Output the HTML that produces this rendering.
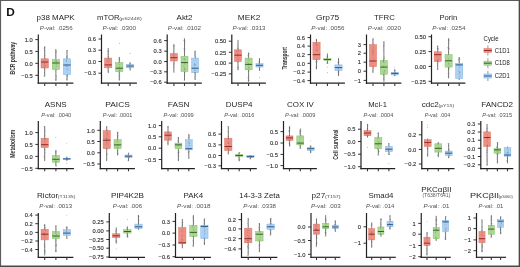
<!DOCTYPE html><html><head><meta charset="utf-8"><style>html,body{margin:0;padding:0;background:#fff;overflow:hidden}svg{display:block;will-change:transform}</style></head><body>
<svg width="520" height="267" viewBox="0 0 520 267" font-family='"Liberation Sans", sans-serif'>
<rect x="0" y="0" width="520" height="267" fill="#fff"/>
<path d="M0,0.5H520M0.55,0V267" fill="none" stroke="#5c5c5c" stroke-width="1.1"/>
<path d="M519.35,0V267M0,266.25H520" fill="none" stroke="#4a4a4a" stroke-width="1.4"/>
<text transform="translate(6.3,15.95) scale(1.1,1)" font-size="10.8" font-weight="bold" fill="#111">D</text>
<text transform="translate(15.2,58.2) rotate(-90)" text-anchor="middle" font-size="7.1" font-weight="bold" fill="#333" textLength="32.6" lengthAdjust="spacingAndGlyphs">BCR pathway</text>
<text transform="translate(287.3,58.3) rotate(-90)" text-anchor="middle" font-size="7.1" font-weight="bold" fill="#333" textLength="22.6" lengthAdjust="spacingAndGlyphs">Transport</text>
<text transform="translate(15.3,143.7) rotate(-90)" text-anchor="middle" font-size="7.1" font-weight="bold" fill="#333" textLength="27.9" lengthAdjust="spacingAndGlyphs">Metabolism</text>
<text transform="translate(338.2,144.6) rotate(-90)" text-anchor="middle" font-size="7.1" font-weight="bold" fill="#333" textLength="30.2" lengthAdjust="spacingAndGlyphs">Cell survival</text>
<text x="36.60" y="19.9" font-size="8.0" fill="#262626" textLength="38.10" lengthAdjust="spacingAndGlyphs">p38 MAPK</text>
<text x="39.80" y="29.6" font-size="6.0" fill="#505050" textLength="32.90" lengthAdjust="spacingAndGlyphs"><tspan font-style="italic">P</tspan>-val: .0256</text>
<line x1="35.30" y1="39.6" x2="38.3" y2="39.6" stroke="#333" stroke-width="1.0"/>
<text x="32.70" y="41.80" font-size="6.2" fill="#2e2e2e" stroke="#2e2e2e" stroke-width="0.12" text-anchor="end" textLength="8.01" lengthAdjust="spacingAndGlyphs">1.0</text>
<line x1="35.30" y1="51.4" x2="38.3" y2="51.4" stroke="#333" stroke-width="1.0"/>
<text x="32.70" y="53.60" font-size="6.2" fill="#2e2e2e" stroke="#2e2e2e" stroke-width="0.12" text-anchor="end" textLength="8.01" lengthAdjust="spacingAndGlyphs">0.5</text>
<line x1="35.30" y1="63.3" x2="38.3" y2="63.3" stroke="#333" stroke-width="1.0"/>
<text x="32.70" y="65.50" font-size="6.2" fill="#2e2e2e" stroke="#2e2e2e" stroke-width="0.12" text-anchor="end" textLength="8.01" lengthAdjust="spacingAndGlyphs">0.0</text>
<line x1="35.30" y1="75.3" x2="38.3" y2="75.3" stroke="#333" stroke-width="1.0"/>
<text x="32.70" y="77.50" font-size="6.2" fill="#2e2e2e" stroke="#2e2e2e" stroke-width="0.12" text-anchor="end" textLength="11.38" lengthAdjust="spacingAndGlyphs">−0.5</text>
<line x1="44.70" y1="46.3" x2="44.70" y2="76.6" stroke="#7c7c7c" stroke-width="1.0"/>
<rect x="41.02" y="58.8" width="7.36" height="9.20" fill="#ef8f83" stroke="#d8776b" stroke-width="0.5"/>
<line x1="41.02" y1="62" x2="48.38" y2="62" stroke="#962c24" stroke-width="1.0"/>
<circle cx="44.14" cy="56.11" r="0.4" fill="#555" fill-opacity="0.5"/>
<circle cx="44.02" cy="66.02" r="0.4" fill="#555" fill-opacity="0.5"/>
<circle cx="44.49" cy="62.54" r="0.4" fill="#555" fill-opacity="0.5"/>
<circle cx="44.71" cy="48.06" r="0.4" fill="#555" fill-opacity="0.5"/>
<circle cx="44.59" cy="47.44" r="0.4" fill="#555" fill-opacity="0.5"/>
<circle cx="44.05" cy="48.42" r="0.4" fill="#555" fill-opacity="0.5"/>
<circle cx="45.22" cy="59.16" r="0.4" fill="#555" fill-opacity="0.5"/>
<circle cx="44.26" cy="50.05" r="0.4" fill="#555" fill-opacity="0.5"/>
<circle cx="45.42" cy="65.31" r="0.4" fill="#555" fill-opacity="0.5"/>
<circle cx="44.53" cy="63.79" r="0.4" fill="#555" fill-opacity="0.5"/>
<circle cx="43.97" cy="75.88" r="0.4" fill="#555" fill-opacity="0.5"/>
<circle cx="44.36" cy="72.31" r="0.4" fill="#555" fill-opacity="0.5"/>
<circle cx="44.09" cy="50.67" r="0.4" fill="#555" fill-opacity="0.5"/>
<circle cx="45.21" cy="55.65" r="0.4" fill="#555" fill-opacity="0.5"/>
<circle cx="44.83" cy="51.78" r="0.4" fill="#555" fill-opacity="0.5"/>
<circle cx="44.50" cy="65.66" r="0.4" fill="#555" fill-opacity="0.5"/>
<circle cx="44.00" cy="62.90" r="0.4" fill="#555" fill-opacity="0.5"/>
<circle cx="44.23" cy="48.11" r="0.4" fill="#555" fill-opacity="0.5"/>
<circle cx="44.58" cy="66.92" r="0.4" fill="#555" fill-opacity="0.5"/>
<circle cx="44.84" cy="55.82" r="0.4" fill="#555" fill-opacity="0.5"/>
<circle cx="44.38" cy="60.03" r="0.4" fill="#555" fill-opacity="0.5"/>
<circle cx="45.02" cy="70.37" r="0.4" fill="#555" fill-opacity="0.5"/>
<circle cx="44.82" cy="53.70" r="0.4" fill="#555" fill-opacity="0.5"/>
<circle cx="45.30" cy="62.21" r="0.4" fill="#555" fill-opacity="0.5"/>
<circle cx="44.36" cy="68.40" r="0.4" fill="#555" fill-opacity="0.5"/>
<circle cx="44.09" cy="76.00" r="0.4" fill="#555" fill-opacity="0.5"/>
<circle cx="45.11" cy="58.97" r="0.4" fill="#555" fill-opacity="0.5"/>
<circle cx="44.68" cy="50.91" r="0.4" fill="#555" fill-opacity="0.5"/>
<circle cx="44.97" cy="47.49" r="0.4" fill="#555" fill-opacity="0.5"/>
<circle cx="44.82" cy="69.47" r="0.4" fill="#555" fill-opacity="0.5"/>
<circle cx="44.40" cy="72.83" r="0.4" fill="#555" fill-opacity="0.5"/>
<circle cx="44.85" cy="67.37" r="0.4" fill="#555" fill-opacity="0.5"/>
<circle cx="44.63" cy="63.87" r="0.4" fill="#555" fill-opacity="0.5"/>
<line x1="55.90" y1="49.5" x2="55.90" y2="81" stroke="#7c7c7c" stroke-width="1.0"/>
<rect x="52.22" y="59.5" width="7.36" height="10.00" fill="#abd993" stroke="#86bf6b" stroke-width="0.5"/>
<line x1="52.22" y1="63" x2="59.58" y2="63" stroke="#36632a" stroke-width="1.0"/>
<circle cx="56.61" cy="75.96" r="0.4" fill="#555" fill-opacity="0.5"/>
<circle cx="56.16" cy="64.43" r="0.4" fill="#555" fill-opacity="0.5"/>
<circle cx="56.22" cy="51.41" r="0.4" fill="#555" fill-opacity="0.5"/>
<circle cx="56.69" cy="69.88" r="0.4" fill="#555" fill-opacity="0.5"/>
<circle cx="55.56" cy="75.39" r="0.4" fill="#555" fill-opacity="0.5"/>
<circle cx="56.17" cy="61.65" r="0.4" fill="#555" fill-opacity="0.5"/>
<circle cx="55.84" cy="50.21" r="0.4" fill="#555" fill-opacity="0.5"/>
<circle cx="55.29" cy="54.79" r="0.4" fill="#555" fill-opacity="0.5"/>
<circle cx="56.33" cy="51.36" r="0.4" fill="#555" fill-opacity="0.5"/>
<circle cx="55.50" cy="53.57" r="0.4" fill="#555" fill-opacity="0.5"/>
<circle cx="56.49" cy="61.81" r="0.4" fill="#555" fill-opacity="0.5"/>
<circle cx="55.82" cy="52.04" r="0.4" fill="#555" fill-opacity="0.5"/>
<circle cx="56.51" cy="66.81" r="0.4" fill="#555" fill-opacity="0.5"/>
<circle cx="56.48" cy="75.31" r="0.4" fill="#555" fill-opacity="0.5"/>
<circle cx="55.76" cy="58.27" r="0.4" fill="#555" fill-opacity="0.5"/>
<circle cx="56.51" cy="60.80" r="0.4" fill="#555" fill-opacity="0.5"/>
<circle cx="55.34" cy="79.67" r="0.4" fill="#555" fill-opacity="0.5"/>
<circle cx="55.47" cy="55.05" r="0.4" fill="#555" fill-opacity="0.5"/>
<circle cx="55.88" cy="56.85" r="0.4" fill="#555" fill-opacity="0.5"/>
<circle cx="55.52" cy="68.06" r="0.4" fill="#555" fill-opacity="0.5"/>
<circle cx="55.77" cy="49.63" r="0.4" fill="#555" fill-opacity="0.5"/>
<circle cx="56.01" cy="61.13" r="0.4" fill="#555" fill-opacity="0.5"/>
<circle cx="56.20" cy="79.52" r="0.4" fill="#555" fill-opacity="0.5"/>
<circle cx="56.09" cy="65.74" r="0.4" fill="#555" fill-opacity="0.5"/>
<circle cx="55.19" cy="70.80" r="0.4" fill="#555" fill-opacity="0.5"/>
<circle cx="56.35" cy="77.84" r="0.4" fill="#555" fill-opacity="0.5"/>
<circle cx="56.38" cy="77.05" r="0.4" fill="#555" fill-opacity="0.5"/>
<circle cx="55.74" cy="61.86" r="0.4" fill="#555" fill-opacity="0.5"/>
<circle cx="56.11" cy="52.76" r="0.4" fill="#555" fill-opacity="0.5"/>
<circle cx="55.21" cy="51.46" r="0.4" fill="#555" fill-opacity="0.5"/>
<circle cx="55.36" cy="56.08" r="0.4" fill="#555" fill-opacity="0.5"/>
<circle cx="55.18" cy="60.21" r="0.4" fill="#555" fill-opacity="0.5"/>
<circle cx="55.34" cy="49.51" r="0.4" fill="#555" fill-opacity="0.5"/>
<circle cx="55.68" cy="52.70" r="0.4" fill="#555" fill-opacity="0.5"/>
<line x1="67.00" y1="50" x2="67.00" y2="80.6" stroke="#7c7c7c" stroke-width="1.0"/>
<rect x="63.32" y="58.8" width="7.36" height="15.80" fill="#abd1f3" stroke="#86b6e2" stroke-width="0.5"/>
<line x1="63.32" y1="65" x2="70.68" y2="65" stroke="#2a5a8a" stroke-width="1.0"/>
<circle cx="67.60" cy="50.78" r="0.4" fill="#555" fill-opacity="0.5"/>
<circle cx="66.44" cy="68.79" r="0.4" fill="#555" fill-opacity="0.5"/>
<circle cx="66.76" cy="57.72" r="0.4" fill="#555" fill-opacity="0.5"/>
<circle cx="66.40" cy="61.14" r="0.4" fill="#555" fill-opacity="0.5"/>
<circle cx="67.79" cy="75.98" r="0.4" fill="#555" fill-opacity="0.5"/>
<circle cx="66.97" cy="64.26" r="0.4" fill="#555" fill-opacity="0.5"/>
<circle cx="66.36" cy="52.63" r="0.4" fill="#555" fill-opacity="0.5"/>
<circle cx="66.62" cy="60.48" r="0.4" fill="#555" fill-opacity="0.5"/>
<circle cx="66.46" cy="75.36" r="0.4" fill="#555" fill-opacity="0.5"/>
<circle cx="67.72" cy="50.71" r="0.4" fill="#555" fill-opacity="0.5"/>
<circle cx="66.43" cy="66.16" r="0.4" fill="#555" fill-opacity="0.5"/>
<circle cx="66.24" cy="66.62" r="0.4" fill="#555" fill-opacity="0.5"/>
<circle cx="67.77" cy="66.16" r="0.4" fill="#555" fill-opacity="0.5"/>
<circle cx="67.31" cy="76.42" r="0.4" fill="#555" fill-opacity="0.5"/>
<circle cx="66.79" cy="57.99" r="0.4" fill="#555" fill-opacity="0.5"/>
<circle cx="67.44" cy="55.11" r="0.4" fill="#555" fill-opacity="0.5"/>
<circle cx="67.45" cy="66.30" r="0.4" fill="#555" fill-opacity="0.5"/>
<circle cx="66.56" cy="60.09" r="0.4" fill="#555" fill-opacity="0.5"/>
<circle cx="67.78" cy="74.83" r="0.4" fill="#555" fill-opacity="0.5"/>
<circle cx="67.49" cy="76.09" r="0.4" fill="#555" fill-opacity="0.5"/>
<circle cx="67.38" cy="75.04" r="0.4" fill="#555" fill-opacity="0.5"/>
<circle cx="67.03" cy="56.94" r="0.4" fill="#555" fill-opacity="0.5"/>
<circle cx="66.25" cy="60.88" r="0.4" fill="#555" fill-opacity="0.5"/>
<circle cx="66.65" cy="50.85" r="0.4" fill="#555" fill-opacity="0.5"/>
<circle cx="67.31" cy="57.93" r="0.4" fill="#555" fill-opacity="0.5"/>
<circle cx="66.92" cy="79.27" r="0.4" fill="#555" fill-opacity="0.5"/>
<circle cx="67.78" cy="78.67" r="0.4" fill="#555" fill-opacity="0.5"/>
<circle cx="66.78" cy="79.22" r="0.4" fill="#555" fill-opacity="0.5"/>
<circle cx="66.56" cy="56.75" r="0.4" fill="#555" fill-opacity="0.5"/>
<circle cx="66.53" cy="56.02" r="0.4" fill="#555" fill-opacity="0.5"/>
<circle cx="67.64" cy="69.10" r="0.4" fill="#555" fill-opacity="0.5"/>
<circle cx="66.97" cy="75.72" r="0.4" fill="#555" fill-opacity="0.5"/>
<circle cx="67.48" cy="69.98" r="0.4" fill="#555" fill-opacity="0.5"/>
<line x1="38.3" y1="34.5" x2="38.3" y2="83.8" stroke="#222" stroke-width="1.2"/>
<line x1="37.699999999999996" y1="83.2" x2="73.4" y2="83.2" stroke="#222" stroke-width="1.2"/>
<line x1="44.70" y1="83.2" x2="44.70" y2="85.9" stroke="#333" stroke-width="1.1"/>
<line x1="55.90" y1="83.2" x2="55.90" y2="85.9" stroke="#333" stroke-width="1.1"/>
<line x1="67.00" y1="83.2" x2="67.00" y2="85.9" stroke="#333" stroke-width="1.1"/>
<text x="97.00" y="19.9" font-size="8.0" fill="#262626" textLength="22.60" lengthAdjust="spacingAndGlyphs">mTOR</text>
<text x="119.30" y="19.7" font-size="4.4" fill="#4a4a4a" textLength="22.40" lengthAdjust="spacingAndGlyphs">(pS2448)</text>
<text x="102.40" y="29.6" font-size="6.0" fill="#505050" textLength="33.60" lengthAdjust="spacingAndGlyphs"><tspan font-style="italic">P</tspan>-val: .0300</text>
<line x1="98.50" y1="39" x2="101.5" y2="39" stroke="#333" stroke-width="1.0"/>
<text x="95.90" y="41.20" font-size="6.2" fill="#2e2e2e" stroke="#2e2e2e" stroke-width="0.12" text-anchor="end" textLength="8.01" lengthAdjust="spacingAndGlyphs">0.6</text>
<line x1="98.50" y1="50.2" x2="101.5" y2="50.2" stroke="#333" stroke-width="1.0"/>
<text x="95.90" y="52.40" font-size="6.2" fill="#2e2e2e" stroke="#2e2e2e" stroke-width="0.12" text-anchor="end" textLength="8.01" lengthAdjust="spacingAndGlyphs">0.3</text>
<line x1="98.50" y1="61.5" x2="101.5" y2="61.5" stroke="#333" stroke-width="1.0"/>
<text x="95.90" y="63.70" font-size="6.2" fill="#2e2e2e" stroke="#2e2e2e" stroke-width="0.12" text-anchor="end" textLength="8.01" lengthAdjust="spacingAndGlyphs">0.0</text>
<line x1="98.50" y1="73.2" x2="101.5" y2="73.2" stroke="#333" stroke-width="1.0"/>
<text x="95.90" y="75.40" font-size="6.2" fill="#2e2e2e" stroke="#2e2e2e" stroke-width="0.12" text-anchor="end" textLength="11.38" lengthAdjust="spacingAndGlyphs">−0.3</text>
<line x1="108.20" y1="48" x2="108.20" y2="72.7" stroke="#7c7c7c" stroke-width="1.0"/>
<rect x="104.59" y="58.1" width="7.23" height="9.70" fill="#ef8f83" stroke="#d8776b" stroke-width="0.5"/>
<line x1="104.59" y1="64.9" x2="111.81" y2="64.9" stroke="#962c24" stroke-width="1.0"/>
<circle cx="108.46" cy="50.09" r="0.4" fill="#555" fill-opacity="0.5"/>
<circle cx="108.65" cy="70.47" r="0.4" fill="#555" fill-opacity="0.5"/>
<circle cx="108.16" cy="66.53" r="0.4" fill="#555" fill-opacity="0.5"/>
<circle cx="108.66" cy="52.41" r="0.4" fill="#555" fill-opacity="0.5"/>
<circle cx="108.68" cy="56.21" r="0.4" fill="#555" fill-opacity="0.5"/>
<circle cx="108.03" cy="72.00" r="0.4" fill="#555" fill-opacity="0.5"/>
<circle cx="108.91" cy="57.91" r="0.4" fill="#555" fill-opacity="0.5"/>
<circle cx="107.67" cy="65.90" r="0.4" fill="#555" fill-opacity="0.5"/>
<circle cx="107.64" cy="51.14" r="0.4" fill="#555" fill-opacity="0.5"/>
<circle cx="108.69" cy="70.35" r="0.4" fill="#555" fill-opacity="0.5"/>
<circle cx="108.72" cy="51.61" r="0.4" fill="#555" fill-opacity="0.5"/>
<circle cx="108.45" cy="72.21" r="0.4" fill="#555" fill-opacity="0.5"/>
<circle cx="108.28" cy="56.66" r="0.4" fill="#555" fill-opacity="0.5"/>
<circle cx="107.42" cy="51.24" r="0.4" fill="#555" fill-opacity="0.5"/>
<circle cx="108.44" cy="71.98" r="0.4" fill="#555" fill-opacity="0.5"/>
<circle cx="108.89" cy="61.01" r="0.4" fill="#555" fill-opacity="0.5"/>
<circle cx="108.79" cy="58.72" r="0.4" fill="#555" fill-opacity="0.5"/>
<circle cx="107.74" cy="68.41" r="0.4" fill="#555" fill-opacity="0.5"/>
<circle cx="107.87" cy="54.22" r="0.4" fill="#555" fill-opacity="0.5"/>
<circle cx="108.34" cy="53.94" r="0.4" fill="#555" fill-opacity="0.5"/>
<circle cx="108.07" cy="54.41" r="0.4" fill="#555" fill-opacity="0.5"/>
<circle cx="108.86" cy="51.24" r="0.4" fill="#555" fill-opacity="0.5"/>
<circle cx="108.13" cy="56.74" r="0.4" fill="#555" fill-opacity="0.5"/>
<circle cx="108.85" cy="62.41" r="0.4" fill="#555" fill-opacity="0.5"/>
<circle cx="108.87" cy="58.39" r="0.4" fill="#555" fill-opacity="0.5"/>
<circle cx="108.25" cy="60.39" r="0.4" fill="#555" fill-opacity="0.5"/>
<circle cx="107.43" cy="60.93" r="0.4" fill="#555" fill-opacity="0.5"/>
<circle cx="107.69" cy="58.87" r="0.4" fill="#555" fill-opacity="0.5"/>
<line x1="119.30" y1="57" x2="119.30" y2="80.6" stroke="#7c7c7c" stroke-width="1.0"/>
<rect x="115.69" y="62.6" width="7.23" height="9.00" fill="#abd993" stroke="#86bf6b" stroke-width="0.5"/>
<line x1="115.69" y1="68.2" x2="122.91" y2="68.2" stroke="#36632a" stroke-width="1.0"/>
<circle cx="119.30" cy="43.5" r="0.45" fill="#777"/>
<circle cx="119.78" cy="57.09" r="0.4" fill="#555" fill-opacity="0.5"/>
<circle cx="119.26" cy="61.07" r="0.4" fill="#555" fill-opacity="0.5"/>
<circle cx="119.39" cy="74.11" r="0.4" fill="#555" fill-opacity="0.5"/>
<circle cx="119.33" cy="64.69" r="0.4" fill="#555" fill-opacity="0.5"/>
<circle cx="119.75" cy="70.11" r="0.4" fill="#555" fill-opacity="0.5"/>
<circle cx="119.40" cy="59.50" r="0.4" fill="#555" fill-opacity="0.5"/>
<circle cx="118.94" cy="62.86" r="0.4" fill="#555" fill-opacity="0.5"/>
<circle cx="119.31" cy="75.23" r="0.4" fill="#555" fill-opacity="0.5"/>
<circle cx="119.72" cy="70.26" r="0.4" fill="#555" fill-opacity="0.5"/>
<circle cx="119.21" cy="78.53" r="0.4" fill="#555" fill-opacity="0.5"/>
<circle cx="119.31" cy="71.46" r="0.4" fill="#555" fill-opacity="0.5"/>
<circle cx="119.61" cy="69.09" r="0.4" fill="#555" fill-opacity="0.5"/>
<circle cx="119.35" cy="67.68" r="0.4" fill="#555" fill-opacity="0.5"/>
<circle cx="120.01" cy="68.28" r="0.4" fill="#555" fill-opacity="0.5"/>
<circle cx="119.90" cy="73.50" r="0.4" fill="#555" fill-opacity="0.5"/>
<circle cx="118.92" cy="79.24" r="0.4" fill="#555" fill-opacity="0.5"/>
<circle cx="120.01" cy="70.20" r="0.4" fill="#555" fill-opacity="0.5"/>
<circle cx="118.72" cy="76.82" r="0.4" fill="#555" fill-opacity="0.5"/>
<circle cx="119.21" cy="59.87" r="0.4" fill="#555" fill-opacity="0.5"/>
<circle cx="118.89" cy="58.71" r="0.4" fill="#555" fill-opacity="0.5"/>
<circle cx="119.57" cy="58.73" r="0.4" fill="#555" fill-opacity="0.5"/>
<circle cx="119.94" cy="75.50" r="0.4" fill="#555" fill-opacity="0.5"/>
<circle cx="119.65" cy="60.64" r="0.4" fill="#555" fill-opacity="0.5"/>
<circle cx="118.73" cy="72.58" r="0.4" fill="#555" fill-opacity="0.5"/>
<circle cx="120.05" cy="77.83" r="0.4" fill="#555" fill-opacity="0.5"/>
<circle cx="120.02" cy="62.18" r="0.4" fill="#555" fill-opacity="0.5"/>
<circle cx="119.28" cy="66.40" r="0.4" fill="#555" fill-opacity="0.5"/>
<line x1="130.10" y1="62.6" x2="130.10" y2="70.5" stroke="#7c7c7c" stroke-width="1.0"/>
<rect x="126.49" y="64.4" width="7.23" height="3.40" fill="#abd1f3" stroke="#86b6e2" stroke-width="0.5"/>
<line x1="126.49" y1="66" x2="133.71" y2="66" stroke="#2a5a8a" stroke-width="1.0"/>
<circle cx="130.10" cy="53.2" r="0.45" fill="#777"/>
<circle cx="130.63" cy="70.42" r="0.4" fill="#555" fill-opacity="0.5"/>
<circle cx="129.99" cy="63.88" r="0.4" fill="#555" fill-opacity="0.5"/>
<circle cx="129.84" cy="66.67" r="0.4" fill="#555" fill-opacity="0.5"/>
<circle cx="129.81" cy="64.15" r="0.4" fill="#555" fill-opacity="0.5"/>
<circle cx="129.33" cy="68.30" r="0.4" fill="#555" fill-opacity="0.5"/>
<circle cx="130.00" cy="66.98" r="0.4" fill="#555" fill-opacity="0.5"/>
<circle cx="129.83" cy="62.74" r="0.4" fill="#555" fill-opacity="0.5"/>
<circle cx="130.12" cy="67.53" r="0.4" fill="#555" fill-opacity="0.5"/>
<circle cx="130.88" cy="63.11" r="0.4" fill="#555" fill-opacity="0.5"/>
<circle cx="130.85" cy="68.83" r="0.4" fill="#555" fill-opacity="0.5"/>
<circle cx="129.72" cy="63.43" r="0.4" fill="#555" fill-opacity="0.5"/>
<circle cx="130.55" cy="62.91" r="0.4" fill="#555" fill-opacity="0.5"/>
<circle cx="129.51" cy="64.74" r="0.4" fill="#555" fill-opacity="0.5"/>
<line x1="101.5" y1="34.5" x2="101.5" y2="83.8" stroke="#222" stroke-width="1.2"/>
<line x1="100.9" y1="83.2" x2="136.9" y2="83.2" stroke="#222" stroke-width="1.2"/>
<line x1="108.20" y1="83.2" x2="108.20" y2="85.9" stroke="#333" stroke-width="1.1"/>
<line x1="119.30" y1="83.2" x2="119.30" y2="85.9" stroke="#333" stroke-width="1.1"/>
<line x1="130.10" y1="83.2" x2="130.10" y2="85.9" stroke="#333" stroke-width="1.1"/>
<text x="176.60" y="19.9" font-size="8.0" fill="#262626" textLength="15.90" lengthAdjust="spacingAndGlyphs">Akt2</text>
<text x="167.80" y="29.6" font-size="6.0" fill="#505050" textLength="33.20" lengthAdjust="spacingAndGlyphs"><tspan font-style="italic">P</tspan>-val: .0102</text>
<line x1="164.20" y1="40.6" x2="167.2" y2="40.6" stroke="#333" stroke-width="1.0"/>
<text x="161.60" y="42.80" font-size="6.2" fill="#2e2e2e" stroke="#2e2e2e" stroke-width="0.12" text-anchor="end" textLength="8.01" lengthAdjust="spacingAndGlyphs">0.6</text>
<line x1="164.20" y1="51.2" x2="167.2" y2="51.2" stroke="#333" stroke-width="1.0"/>
<text x="161.60" y="53.40" font-size="6.2" fill="#2e2e2e" stroke="#2e2e2e" stroke-width="0.12" text-anchor="end" textLength="8.01" lengthAdjust="spacingAndGlyphs">0.3</text>
<line x1="164.20" y1="61.5" x2="167.2" y2="61.5" stroke="#333" stroke-width="1.0"/>
<text x="161.60" y="63.70" font-size="6.2" fill="#2e2e2e" stroke="#2e2e2e" stroke-width="0.12" text-anchor="end" textLength="8.01" lengthAdjust="spacingAndGlyphs">0.0</text>
<line x1="164.20" y1="71.8" x2="167.2" y2="71.8" stroke="#333" stroke-width="1.0"/>
<text x="161.60" y="74.00" font-size="6.2" fill="#2e2e2e" stroke="#2e2e2e" stroke-width="0.12" text-anchor="end" textLength="11.38" lengthAdjust="spacingAndGlyphs">−0.3</text>
<line x1="164.20" y1="82.2" x2="167.2" y2="82.2" stroke="#333" stroke-width="1.0"/>
<text x="161.60" y="84.40" font-size="6.2" fill="#2e2e2e" stroke="#2e2e2e" stroke-width="0.12" text-anchor="end" textLength="11.38" lengthAdjust="spacingAndGlyphs">−0.6</text>
<line x1="173.90" y1="44" x2="173.90" y2="72.7" stroke="#7c7c7c" stroke-width="1.0"/>
<rect x="170.40" y="53.6" width="7.00" height="7.40" fill="#ef8f83" stroke="#d8776b" stroke-width="0.5"/>
<line x1="170.40" y1="57.7" x2="177.40" y2="57.7" stroke="#962c24" stroke-width="1.0"/>
<circle cx="174.56" cy="56.12" r="0.4" fill="#555" fill-opacity="0.5"/>
<circle cx="173.51" cy="67.50" r="0.4" fill="#555" fill-opacity="0.5"/>
<circle cx="174.57" cy="48.29" r="0.4" fill="#555" fill-opacity="0.5"/>
<circle cx="174.22" cy="60.38" r="0.4" fill="#555" fill-opacity="0.5"/>
<circle cx="173.19" cy="46.57" r="0.4" fill="#555" fill-opacity="0.5"/>
<circle cx="173.78" cy="63.75" r="0.4" fill="#555" fill-opacity="0.5"/>
<circle cx="174.60" cy="46.08" r="0.4" fill="#555" fill-opacity="0.5"/>
<circle cx="174.38" cy="62.21" r="0.4" fill="#555" fill-opacity="0.5"/>
<circle cx="174.47" cy="46.40" r="0.4" fill="#555" fill-opacity="0.5"/>
<circle cx="174.48" cy="45.91" r="0.4" fill="#555" fill-opacity="0.5"/>
<circle cx="173.64" cy="57.02" r="0.4" fill="#555" fill-opacity="0.5"/>
<circle cx="174.58" cy="59.87" r="0.4" fill="#555" fill-opacity="0.5"/>
<circle cx="173.31" cy="51.69" r="0.4" fill="#555" fill-opacity="0.5"/>
<circle cx="173.48" cy="59.12" r="0.4" fill="#555" fill-opacity="0.5"/>
<circle cx="173.36" cy="47.14" r="0.4" fill="#555" fill-opacity="0.5"/>
<circle cx="173.42" cy="45.45" r="0.4" fill="#555" fill-opacity="0.5"/>
<circle cx="173.59" cy="52.95" r="0.4" fill="#555" fill-opacity="0.5"/>
<circle cx="173.56" cy="65.80" r="0.4" fill="#555" fill-opacity="0.5"/>
<circle cx="173.38" cy="58.35" r="0.4" fill="#555" fill-opacity="0.5"/>
<circle cx="173.13" cy="53.96" r="0.4" fill="#555" fill-opacity="0.5"/>
<circle cx="173.12" cy="51.19" r="0.4" fill="#555" fill-opacity="0.5"/>
<circle cx="173.98" cy="65.04" r="0.4" fill="#555" fill-opacity="0.5"/>
<circle cx="173.86" cy="49.44" r="0.4" fill="#555" fill-opacity="0.5"/>
<circle cx="173.27" cy="70.82" r="0.4" fill="#555" fill-opacity="0.5"/>
<circle cx="173.79" cy="67.50" r="0.4" fill="#555" fill-opacity="0.5"/>
<circle cx="174.44" cy="58.21" r="0.4" fill="#555" fill-opacity="0.5"/>
<circle cx="173.91" cy="55.28" r="0.4" fill="#555" fill-opacity="0.5"/>
<circle cx="174.67" cy="63.74" r="0.4" fill="#555" fill-opacity="0.5"/>
<circle cx="174.43" cy="53.84" r="0.4" fill="#555" fill-opacity="0.5"/>
<circle cx="174.12" cy="64.28" r="0.4" fill="#555" fill-opacity="0.5"/>
<circle cx="173.66" cy="55.61" r="0.4" fill="#555" fill-opacity="0.5"/>
<line x1="184.50" y1="38.5" x2="184.50" y2="80.6" stroke="#7c7c7c" stroke-width="1.0"/>
<rect x="181.00" y="56.3" width="7.00" height="15.30" fill="#abd993" stroke="#86bf6b" stroke-width="0.5"/>
<line x1="181.00" y1="62.6" x2="188.00" y2="62.6" stroke="#36632a" stroke-width="1.0"/>
<circle cx="183.91" cy="40.79" r="0.4" fill="#555" fill-opacity="0.5"/>
<circle cx="184.89" cy="41.48" r="0.4" fill="#555" fill-opacity="0.5"/>
<circle cx="183.96" cy="49.26" r="0.4" fill="#555" fill-opacity="0.5"/>
<circle cx="185.05" cy="42.06" r="0.4" fill="#555" fill-opacity="0.5"/>
<circle cx="184.77" cy="75.15" r="0.4" fill="#555" fill-opacity="0.5"/>
<circle cx="184.09" cy="50.37" r="0.4" fill="#555" fill-opacity="0.5"/>
<circle cx="184.44" cy="50.84" r="0.4" fill="#555" fill-opacity="0.5"/>
<circle cx="184.41" cy="45.13" r="0.4" fill="#555" fill-opacity="0.5"/>
<circle cx="185.24" cy="49.58" r="0.4" fill="#555" fill-opacity="0.5"/>
<circle cx="184.58" cy="79.45" r="0.4" fill="#555" fill-opacity="0.5"/>
<circle cx="185.25" cy="48.79" r="0.4" fill="#555" fill-opacity="0.5"/>
<circle cx="184.27" cy="51.53" r="0.4" fill="#555" fill-opacity="0.5"/>
<circle cx="184.31" cy="38.55" r="0.4" fill="#555" fill-opacity="0.5"/>
<circle cx="184.50" cy="58.48" r="0.4" fill="#555" fill-opacity="0.5"/>
<circle cx="184.51" cy="46.96" r="0.4" fill="#555" fill-opacity="0.5"/>
<circle cx="184.12" cy="38.71" r="0.4" fill="#555" fill-opacity="0.5"/>
<circle cx="184.34" cy="42.28" r="0.4" fill="#555" fill-opacity="0.5"/>
<circle cx="183.74" cy="40.25" r="0.4" fill="#555" fill-opacity="0.5"/>
<circle cx="184.07" cy="51.31" r="0.4" fill="#555" fill-opacity="0.5"/>
<circle cx="184.55" cy="63.15" r="0.4" fill="#555" fill-opacity="0.5"/>
<circle cx="184.75" cy="70.10" r="0.4" fill="#555" fill-opacity="0.5"/>
<circle cx="185.11" cy="68.64" r="0.4" fill="#555" fill-opacity="0.5"/>
<circle cx="184.22" cy="54.90" r="0.4" fill="#555" fill-opacity="0.5"/>
<circle cx="183.94" cy="79.96" r="0.4" fill="#555" fill-opacity="0.5"/>
<circle cx="184.73" cy="68.99" r="0.4" fill="#555" fill-opacity="0.5"/>
<circle cx="185.04" cy="40.34" r="0.4" fill="#555" fill-opacity="0.5"/>
<circle cx="184.70" cy="76.05" r="0.4" fill="#555" fill-opacity="0.5"/>
<circle cx="185.00" cy="69.40" r="0.4" fill="#555" fill-opacity="0.5"/>
<circle cx="184.54" cy="44.36" r="0.4" fill="#555" fill-opacity="0.5"/>
<circle cx="185.04" cy="59.73" r="0.4" fill="#555" fill-opacity="0.5"/>
<circle cx="185.02" cy="72.38" r="0.4" fill="#555" fill-opacity="0.5"/>
<circle cx="185.13" cy="63.09" r="0.4" fill="#555" fill-opacity="0.5"/>
<circle cx="184.81" cy="67.25" r="0.4" fill="#555" fill-opacity="0.5"/>
<circle cx="183.75" cy="48.18" r="0.4" fill="#555" fill-opacity="0.5"/>
<circle cx="184.28" cy="44.10" r="0.4" fill="#555" fill-opacity="0.5"/>
<circle cx="185.04" cy="42.92" r="0.4" fill="#555" fill-opacity="0.5"/>
<circle cx="184.70" cy="62.01" r="0.4" fill="#555" fill-opacity="0.5"/>
<circle cx="184.79" cy="64.86" r="0.4" fill="#555" fill-opacity="0.5"/>
<circle cx="183.71" cy="59.10" r="0.4" fill="#555" fill-opacity="0.5"/>
<circle cx="184.90" cy="72.08" r="0.4" fill="#555" fill-opacity="0.5"/>
<circle cx="184.56" cy="59.68" r="0.4" fill="#555" fill-opacity="0.5"/>
<circle cx="183.81" cy="66.26" r="0.4" fill="#555" fill-opacity="0.5"/>
<circle cx="184.10" cy="69.52" r="0.4" fill="#555" fill-opacity="0.5"/>
<line x1="195.10" y1="50.7" x2="195.10" y2="80" stroke="#7c7c7c" stroke-width="1.0"/>
<rect x="191.60" y="58.1" width="7.00" height="14.60" fill="#abd1f3" stroke="#86b6e2" stroke-width="0.5"/>
<line x1="191.60" y1="68.2" x2="198.60" y2="68.2" stroke="#2a5a8a" stroke-width="1.0"/>
<circle cx="194.72" cy="52.88" r="0.4" fill="#555" fill-opacity="0.5"/>
<circle cx="194.63" cy="72.07" r="0.4" fill="#555" fill-opacity="0.5"/>
<circle cx="195.86" cy="72.38" r="0.4" fill="#555" fill-opacity="0.5"/>
<circle cx="194.91" cy="65.17" r="0.4" fill="#555" fill-opacity="0.5"/>
<circle cx="195.39" cy="64.73" r="0.4" fill="#555" fill-opacity="0.5"/>
<circle cx="195.29" cy="73.17" r="0.4" fill="#555" fill-opacity="0.5"/>
<circle cx="194.42" cy="69.53" r="0.4" fill="#555" fill-opacity="0.5"/>
<circle cx="194.71" cy="55.02" r="0.4" fill="#555" fill-opacity="0.5"/>
<circle cx="194.79" cy="72.48" r="0.4" fill="#555" fill-opacity="0.5"/>
<circle cx="194.32" cy="67.34" r="0.4" fill="#555" fill-opacity="0.5"/>
<circle cx="194.73" cy="52.48" r="0.4" fill="#555" fill-opacity="0.5"/>
<circle cx="195.41" cy="70.39" r="0.4" fill="#555" fill-opacity="0.5"/>
<circle cx="194.77" cy="70.50" r="0.4" fill="#555" fill-opacity="0.5"/>
<circle cx="195.04" cy="65.83" r="0.4" fill="#555" fill-opacity="0.5"/>
<circle cx="194.49" cy="64.36" r="0.4" fill="#555" fill-opacity="0.5"/>
<circle cx="194.62" cy="76.88" r="0.4" fill="#555" fill-opacity="0.5"/>
<circle cx="195.80" cy="79.36" r="0.4" fill="#555" fill-opacity="0.5"/>
<circle cx="195.03" cy="51.21" r="0.4" fill="#555" fill-opacity="0.5"/>
<circle cx="195.85" cy="74.72" r="0.4" fill="#555" fill-opacity="0.5"/>
<circle cx="194.73" cy="63.87" r="0.4" fill="#555" fill-opacity="0.5"/>
<circle cx="195.81" cy="56.85" r="0.4" fill="#555" fill-opacity="0.5"/>
<circle cx="195.23" cy="56.87" r="0.4" fill="#555" fill-opacity="0.5"/>
<circle cx="195.14" cy="54.85" r="0.4" fill="#555" fill-opacity="0.5"/>
<circle cx="194.51" cy="78.62" r="0.4" fill="#555" fill-opacity="0.5"/>
<circle cx="195.11" cy="74.73" r="0.4" fill="#555" fill-opacity="0.5"/>
<circle cx="195.43" cy="76.69" r="0.4" fill="#555" fill-opacity="0.5"/>
<circle cx="195.74" cy="57.48" r="0.4" fill="#555" fill-opacity="0.5"/>
<circle cx="194.34" cy="64.94" r="0.4" fill="#555" fill-opacity="0.5"/>
<circle cx="195.09" cy="50.81" r="0.4" fill="#555" fill-opacity="0.5"/>
<circle cx="194.78" cy="63.91" r="0.4" fill="#555" fill-opacity="0.5"/>
<circle cx="194.85" cy="54.82" r="0.4" fill="#555" fill-opacity="0.5"/>
<circle cx="195.64" cy="59.96" r="0.4" fill="#555" fill-opacity="0.5"/>
<line x1="167.2" y1="34.5" x2="167.2" y2="83.8" stroke="#222" stroke-width="1.2"/>
<line x1="166.6" y1="83.2" x2="201.8" y2="83.2" stroke="#222" stroke-width="1.2"/>
<line x1="173.90" y1="83.2" x2="173.90" y2="85.9" stroke="#333" stroke-width="1.1"/>
<line x1="184.50" y1="83.2" x2="184.50" y2="85.9" stroke="#333" stroke-width="1.1"/>
<line x1="195.10" y1="83.2" x2="195.10" y2="85.9" stroke="#333" stroke-width="1.1"/>
<text x="237.80" y="19.9" font-size="8.0" fill="#262626" textLength="22.60" lengthAdjust="spacingAndGlyphs">MEK2</text>
<text x="232.40" y="29.6" font-size="6.0" fill="#505050" textLength="33.20" lengthAdjust="spacingAndGlyphs"><tspan font-style="italic">P</tspan>-val: .0313</text>
<line x1="228.80" y1="41.2" x2="231.8" y2="41.2" stroke="#333" stroke-width="1.0"/>
<text x="226.20" y="43.40" font-size="6.2" fill="#2e2e2e" stroke="#2e2e2e" stroke-width="0.12" text-anchor="end" textLength="11.22" lengthAdjust="spacingAndGlyphs">0.50</text>
<line x1="228.80" y1="52.3" x2="231.8" y2="52.3" stroke="#333" stroke-width="1.0"/>
<text x="226.20" y="54.50" font-size="6.2" fill="#2e2e2e" stroke="#2e2e2e" stroke-width="0.12" text-anchor="end" textLength="11.22" lengthAdjust="spacingAndGlyphs">0.25</text>
<line x1="228.80" y1="63.1" x2="231.8" y2="63.1" stroke="#333" stroke-width="1.0"/>
<text x="226.20" y="65.30" font-size="6.2" fill="#2e2e2e" stroke="#2e2e2e" stroke-width="0.12" text-anchor="end" textLength="11.22" lengthAdjust="spacingAndGlyphs">0.00</text>
<line x1="228.80" y1="73.9" x2="231.8" y2="73.9" stroke="#333" stroke-width="1.0"/>
<text x="226.20" y="76.10" font-size="6.2" fill="#2e2e2e" stroke="#2e2e2e" stroke-width="0.12" text-anchor="end" textLength="14.59" lengthAdjust="spacingAndGlyphs">−0.25</text>
<line x1="238.00" y1="40.1" x2="238.00" y2="70" stroke="#7c7c7c" stroke-width="1.0"/>
<rect x="234.45" y="49.8" width="7.10" height="11.70" fill="#ef8f83" stroke="#d8776b" stroke-width="0.5"/>
<line x1="234.45" y1="55.2" x2="241.55" y2="55.2" stroke="#962c24" stroke-width="1.0"/>
<circle cx="238.40" cy="40.15" r="0.4" fill="#555" fill-opacity="0.5"/>
<circle cx="237.39" cy="65.19" r="0.4" fill="#555" fill-opacity="0.5"/>
<circle cx="238.34" cy="67.80" r="0.4" fill="#555" fill-opacity="0.5"/>
<circle cx="237.66" cy="67.06" r="0.4" fill="#555" fill-opacity="0.5"/>
<circle cx="237.83" cy="51.23" r="0.4" fill="#555" fill-opacity="0.5"/>
<circle cx="238.14" cy="69.96" r="0.4" fill="#555" fill-opacity="0.5"/>
<circle cx="237.88" cy="50.89" r="0.4" fill="#555" fill-opacity="0.5"/>
<circle cx="237.28" cy="48.33" r="0.4" fill="#555" fill-opacity="0.5"/>
<circle cx="238.54" cy="43.14" r="0.4" fill="#555" fill-opacity="0.5"/>
<circle cx="238.70" cy="48.64" r="0.4" fill="#555" fill-opacity="0.5"/>
<circle cx="237.63" cy="47.55" r="0.4" fill="#555" fill-opacity="0.5"/>
<circle cx="237.50" cy="55.38" r="0.4" fill="#555" fill-opacity="0.5"/>
<circle cx="238.73" cy="51.26" r="0.4" fill="#555" fill-opacity="0.5"/>
<circle cx="238.50" cy="66.54" r="0.4" fill="#555" fill-opacity="0.5"/>
<circle cx="238.66" cy="58.96" r="0.4" fill="#555" fill-opacity="0.5"/>
<circle cx="238.08" cy="68.23" r="0.4" fill="#555" fill-opacity="0.5"/>
<circle cx="237.28" cy="61.62" r="0.4" fill="#555" fill-opacity="0.5"/>
<circle cx="237.92" cy="62.00" r="0.4" fill="#555" fill-opacity="0.5"/>
<circle cx="238.23" cy="62.60" r="0.4" fill="#555" fill-opacity="0.5"/>
<circle cx="237.28" cy="48.66" r="0.4" fill="#555" fill-opacity="0.5"/>
<circle cx="237.40" cy="67.81" r="0.4" fill="#555" fill-opacity="0.5"/>
<circle cx="237.75" cy="54.22" r="0.4" fill="#555" fill-opacity="0.5"/>
<circle cx="238.38" cy="49.00" r="0.4" fill="#555" fill-opacity="0.5"/>
<circle cx="237.62" cy="69.29" r="0.4" fill="#555" fill-opacity="0.5"/>
<circle cx="237.68" cy="59.71" r="0.4" fill="#555" fill-opacity="0.5"/>
<circle cx="237.83" cy="56.76" r="0.4" fill="#555" fill-opacity="0.5"/>
<circle cx="237.46" cy="45.10" r="0.4" fill="#555" fill-opacity="0.5"/>
<circle cx="238.65" cy="46.32" r="0.4" fill="#555" fill-opacity="0.5"/>
<circle cx="237.55" cy="54.96" r="0.4" fill="#555" fill-opacity="0.5"/>
<circle cx="238.79" cy="67.20" r="0.4" fill="#555" fill-opacity="0.5"/>
<circle cx="237.42" cy="53.55" r="0.4" fill="#555" fill-opacity="0.5"/>
<circle cx="237.35" cy="45.85" r="0.4" fill="#555" fill-opacity="0.5"/>
<line x1="248.60" y1="52.5" x2="248.60" y2="81.7" stroke="#7c7c7c" stroke-width="1.0"/>
<rect x="245.05" y="58.1" width="7.10" height="11.70" fill="#abd993" stroke="#86bf6b" stroke-width="0.5"/>
<line x1="245.05" y1="64.4" x2="252.15" y2="64.4" stroke="#36632a" stroke-width="1.0"/>
<circle cx="247.95" cy="62.49" r="0.4" fill="#555" fill-opacity="0.5"/>
<circle cx="248.21" cy="59.48" r="0.4" fill="#555" fill-opacity="0.5"/>
<circle cx="249.22" cy="69.13" r="0.4" fill="#555" fill-opacity="0.5"/>
<circle cx="248.46" cy="74.39" r="0.4" fill="#555" fill-opacity="0.5"/>
<circle cx="248.64" cy="64.59" r="0.4" fill="#555" fill-opacity="0.5"/>
<circle cx="248.34" cy="63.50" r="0.4" fill="#555" fill-opacity="0.5"/>
<circle cx="248.24" cy="54.31" r="0.4" fill="#555" fill-opacity="0.5"/>
<circle cx="248.00" cy="80.76" r="0.4" fill="#555" fill-opacity="0.5"/>
<circle cx="248.81" cy="67.20" r="0.4" fill="#555" fill-opacity="0.5"/>
<circle cx="248.15" cy="77.70" r="0.4" fill="#555" fill-opacity="0.5"/>
<circle cx="248.20" cy="60.41" r="0.4" fill="#555" fill-opacity="0.5"/>
<circle cx="248.51" cy="64.17" r="0.4" fill="#555" fill-opacity="0.5"/>
<circle cx="249.16" cy="80.36" r="0.4" fill="#555" fill-opacity="0.5"/>
<circle cx="247.83" cy="77.99" r="0.4" fill="#555" fill-opacity="0.5"/>
<circle cx="248.94" cy="53.44" r="0.4" fill="#555" fill-opacity="0.5"/>
<circle cx="248.56" cy="78.65" r="0.4" fill="#555" fill-opacity="0.5"/>
<circle cx="247.80" cy="69.65" r="0.4" fill="#555" fill-opacity="0.5"/>
<circle cx="249.28" cy="63.93" r="0.4" fill="#555" fill-opacity="0.5"/>
<circle cx="249.17" cy="76.61" r="0.4" fill="#555" fill-opacity="0.5"/>
<circle cx="248.20" cy="80.89" r="0.4" fill="#555" fill-opacity="0.5"/>
<circle cx="248.05" cy="55.68" r="0.4" fill="#555" fill-opacity="0.5"/>
<circle cx="248.89" cy="67.75" r="0.4" fill="#555" fill-opacity="0.5"/>
<circle cx="248.95" cy="79.99" r="0.4" fill="#555" fill-opacity="0.5"/>
<circle cx="249.02" cy="71.40" r="0.4" fill="#555" fill-opacity="0.5"/>
<circle cx="248.68" cy="65.85" r="0.4" fill="#555" fill-opacity="0.5"/>
<circle cx="249.05" cy="53.65" r="0.4" fill="#555" fill-opacity="0.5"/>
<circle cx="249.27" cy="59.29" r="0.4" fill="#555" fill-opacity="0.5"/>
<circle cx="248.29" cy="71.35" r="0.4" fill="#555" fill-opacity="0.5"/>
<circle cx="248.20" cy="56.24" r="0.4" fill="#555" fill-opacity="0.5"/>
<circle cx="248.92" cy="71.08" r="0.4" fill="#555" fill-opacity="0.5"/>
<circle cx="247.91" cy="55.77" r="0.4" fill="#555" fill-opacity="0.5"/>
<circle cx="248.73" cy="67.81" r="0.4" fill="#555" fill-opacity="0.5"/>
<line x1="259.50" y1="58.1" x2="259.50" y2="70.5" stroke="#7c7c7c" stroke-width="1.0"/>
<rect x="255.95" y="63.7" width="7.10" height="3.40" fill="#abd1f3" stroke="#86b6e2" stroke-width="0.5"/>
<line x1="255.95" y1="65.3" x2="263.05" y2="65.3" stroke="#2a5a8a" stroke-width="1.0"/>
<circle cx="259.50" cy="77.2" r="0.45" fill="#777"/>
<circle cx="259.06" cy="62.91" r="0.4" fill="#555" fill-opacity="0.5"/>
<circle cx="258.72" cy="65.55" r="0.4" fill="#555" fill-opacity="0.5"/>
<circle cx="259.44" cy="61.84" r="0.4" fill="#555" fill-opacity="0.5"/>
<circle cx="259.73" cy="69.99" r="0.4" fill="#555" fill-opacity="0.5"/>
<circle cx="259.46" cy="69.06" r="0.4" fill="#555" fill-opacity="0.5"/>
<circle cx="259.10" cy="61.01" r="0.4" fill="#555" fill-opacity="0.5"/>
<circle cx="259.83" cy="70.01" r="0.4" fill="#555" fill-opacity="0.5"/>
<circle cx="258.73" cy="61.91" r="0.4" fill="#555" fill-opacity="0.5"/>
<circle cx="259.78" cy="64.28" r="0.4" fill="#555" fill-opacity="0.5"/>
<circle cx="259.11" cy="63.31" r="0.4" fill="#555" fill-opacity="0.5"/>
<circle cx="260.18" cy="66.38" r="0.4" fill="#555" fill-opacity="0.5"/>
<circle cx="258.75" cy="60.91" r="0.4" fill="#555" fill-opacity="0.5"/>
<circle cx="259.37" cy="62.29" r="0.4" fill="#555" fill-opacity="0.5"/>
<circle cx="259.02" cy="66.56" r="0.4" fill="#555" fill-opacity="0.5"/>
<circle cx="259.88" cy="67.98" r="0.4" fill="#555" fill-opacity="0.5"/>
<circle cx="259.03" cy="64.36" r="0.4" fill="#555" fill-opacity="0.5"/>
<circle cx="259.20" cy="70.13" r="0.4" fill="#555" fill-opacity="0.5"/>
<line x1="231.8" y1="34.5" x2="231.8" y2="83.8" stroke="#222" stroke-width="1.2"/>
<line x1="231.20000000000002" y1="83.2" x2="265.9" y2="83.2" stroke="#222" stroke-width="1.2"/>
<line x1="238.00" y1="83.2" x2="238.00" y2="85.9" stroke="#333" stroke-width="1.1"/>
<line x1="248.60" y1="83.2" x2="248.60" y2="85.9" stroke="#333" stroke-width="1.1"/>
<line x1="259.50" y1="83.2" x2="259.50" y2="85.9" stroke="#333" stroke-width="1.1"/>
<text x="316.00" y="19.9" font-size="8.0" fill="#262626" textLength="23.20" lengthAdjust="spacingAndGlyphs">Grp75</text>
<text x="311.20" y="29.6" font-size="6.0" fill="#505050" textLength="33.20" lengthAdjust="spacingAndGlyphs"><tspan font-style="italic">P</tspan>-val: .0056</text>
<line x1="307.50" y1="37.6" x2="310.5" y2="37.6" stroke="#333" stroke-width="1.0"/>
<text x="304.90" y="39.80" font-size="6.2" fill="#2e2e2e" stroke="#2e2e2e" stroke-width="0.12" text-anchor="end" textLength="8.01" lengthAdjust="spacingAndGlyphs">0.6</text>
<line x1="307.50" y1="46.1" x2="310.5" y2="46.1" stroke="#333" stroke-width="1.0"/>
<text x="304.90" y="48.30" font-size="6.2" fill="#2e2e2e" stroke="#2e2e2e" stroke-width="0.12" text-anchor="end" textLength="8.01" lengthAdjust="spacingAndGlyphs">0.4</text>
<line x1="307.50" y1="54.6" x2="310.5" y2="54.6" stroke="#333" stroke-width="1.0"/>
<text x="304.90" y="56.80" font-size="6.2" fill="#2e2e2e" stroke="#2e2e2e" stroke-width="0.12" text-anchor="end" textLength="8.01" lengthAdjust="spacingAndGlyphs">0.2</text>
<line x1="307.50" y1="63.3" x2="310.5" y2="63.3" stroke="#333" stroke-width="1.0"/>
<text x="304.90" y="65.50" font-size="6.2" fill="#2e2e2e" stroke="#2e2e2e" stroke-width="0.12" text-anchor="end" textLength="8.01" lengthAdjust="spacingAndGlyphs">0.0</text>
<line x1="307.50" y1="72.1" x2="310.5" y2="72.1" stroke="#333" stroke-width="1.0"/>
<text x="304.90" y="74.30" font-size="6.2" fill="#2e2e2e" stroke="#2e2e2e" stroke-width="0.12" text-anchor="end" textLength="11.38" lengthAdjust="spacingAndGlyphs">−0.2</text>
<line x1="307.50" y1="80.6" x2="310.5" y2="80.6" stroke="#333" stroke-width="1.0"/>
<text x="304.90" y="82.80" font-size="6.2" fill="#2e2e2e" stroke="#2e2e2e" stroke-width="0.12" text-anchor="end" textLength="11.38" lengthAdjust="spacingAndGlyphs">−0.4</text>
<line x1="316.50" y1="38.9" x2="316.50" y2="69.4" stroke="#7c7c7c" stroke-width="1.0"/>
<rect x="312.87" y="42.2" width="7.26" height="17.50" fill="#ef8f83" stroke="#d8776b" stroke-width="0.5"/>
<line x1="312.87" y1="54.7" x2="320.13" y2="54.7" stroke="#962c24" stroke-width="1.0"/>
<circle cx="316.07" cy="63.91" r="0.4" fill="#555" fill-opacity="0.5"/>
<circle cx="316.92" cy="45.65" r="0.4" fill="#555" fill-opacity="0.5"/>
<circle cx="317.22" cy="47.90" r="0.4" fill="#555" fill-opacity="0.5"/>
<circle cx="316.00" cy="54.02" r="0.4" fill="#555" fill-opacity="0.5"/>
<circle cx="316.37" cy="45.71" r="0.4" fill="#555" fill-opacity="0.5"/>
<circle cx="317.22" cy="59.19" r="0.4" fill="#555" fill-opacity="0.5"/>
<circle cx="316.33" cy="43.36" r="0.4" fill="#555" fill-opacity="0.5"/>
<circle cx="317.26" cy="45.39" r="0.4" fill="#555" fill-opacity="0.5"/>
<circle cx="315.78" cy="43.23" r="0.4" fill="#555" fill-opacity="0.5"/>
<circle cx="316.33" cy="40.73" r="0.4" fill="#555" fill-opacity="0.5"/>
<circle cx="317.11" cy="66.29" r="0.4" fill="#555" fill-opacity="0.5"/>
<circle cx="317.30" cy="61.25" r="0.4" fill="#555" fill-opacity="0.5"/>
<circle cx="316.23" cy="67.31" r="0.4" fill="#555" fill-opacity="0.5"/>
<circle cx="317.20" cy="44.56" r="0.4" fill="#555" fill-opacity="0.5"/>
<circle cx="315.75" cy="61.66" r="0.4" fill="#555" fill-opacity="0.5"/>
<circle cx="316.31" cy="59.17" r="0.4" fill="#555" fill-opacity="0.5"/>
<circle cx="316.23" cy="50.30" r="0.4" fill="#555" fill-opacity="0.5"/>
<circle cx="315.70" cy="44.06" r="0.4" fill="#555" fill-opacity="0.5"/>
<circle cx="316.26" cy="47.43" r="0.4" fill="#555" fill-opacity="0.5"/>
<circle cx="315.90" cy="68.04" r="0.4" fill="#555" fill-opacity="0.5"/>
<circle cx="316.03" cy="68.31" r="0.4" fill="#555" fill-opacity="0.5"/>
<circle cx="317.01" cy="49.78" r="0.4" fill="#555" fill-opacity="0.5"/>
<circle cx="316.39" cy="63.97" r="0.4" fill="#555" fill-opacity="0.5"/>
<circle cx="316.46" cy="40.40" r="0.4" fill="#555" fill-opacity="0.5"/>
<circle cx="317.17" cy="50.27" r="0.4" fill="#555" fill-opacity="0.5"/>
<circle cx="316.28" cy="44.79" r="0.4" fill="#555" fill-opacity="0.5"/>
<circle cx="315.75" cy="66.26" r="0.4" fill="#555" fill-opacity="0.5"/>
<circle cx="317.00" cy="51.43" r="0.4" fill="#555" fill-opacity="0.5"/>
<circle cx="315.77" cy="62.28" r="0.4" fill="#555" fill-opacity="0.5"/>
<circle cx="315.80" cy="39.96" r="0.4" fill="#555" fill-opacity="0.5"/>
<circle cx="316.11" cy="66.96" r="0.4" fill="#555" fill-opacity="0.5"/>
<circle cx="317.14" cy="61.69" r="0.4" fill="#555" fill-opacity="0.5"/>
<circle cx="316.14" cy="49.24" r="0.4" fill="#555" fill-opacity="0.5"/>
<line x1="327.40" y1="53.6" x2="327.40" y2="63.7" stroke="#7c7c7c" stroke-width="1.0"/>
<rect x="323.77" y="58.6" width="7.26" height="1.80" fill="#abd993" stroke="#86bf6b" stroke-width="0.5"/>
<line x1="323.77" y1="59.5" x2="331.03" y2="59.5" stroke="#36632a" stroke-width="1.0"/>
<circle cx="327.40" cy="67.1" r="0.45" fill="#777"/>
<circle cx="327.40" cy="72.7" r="0.45" fill="#777"/>
<circle cx="327.59" cy="63.27" r="0.4" fill="#555" fill-opacity="0.5"/>
<circle cx="327.75" cy="56.25" r="0.4" fill="#555" fill-opacity="0.5"/>
<circle cx="327.04" cy="56.80" r="0.4" fill="#555" fill-opacity="0.5"/>
<circle cx="327.81" cy="53.64" r="0.4" fill="#555" fill-opacity="0.5"/>
<circle cx="327.61" cy="62.86" r="0.4" fill="#555" fill-opacity="0.5"/>
<circle cx="326.64" cy="63.13" r="0.4" fill="#555" fill-opacity="0.5"/>
<circle cx="327.36" cy="55.96" r="0.4" fill="#555" fill-opacity="0.5"/>
<circle cx="328.13" cy="63.26" r="0.4" fill="#555" fill-opacity="0.5"/>
<circle cx="327.00" cy="57.50" r="0.4" fill="#555" fill-opacity="0.5"/>
<circle cx="327.39" cy="57.94" r="0.4" fill="#555" fill-opacity="0.5"/>
<circle cx="326.89" cy="62.97" r="0.4" fill="#555" fill-opacity="0.5"/>
<circle cx="327.78" cy="61.71" r="0.4" fill="#555" fill-opacity="0.5"/>
<circle cx="327.84" cy="61.91" r="0.4" fill="#555" fill-opacity="0.5"/>
<circle cx="327.12" cy="59.73" r="0.4" fill="#555" fill-opacity="0.5"/>
<circle cx="327.18" cy="56.83" r="0.4" fill="#555" fill-opacity="0.5"/>
<line x1="338.50" y1="58.1" x2="338.50" y2="76.1" stroke="#7c7c7c" stroke-width="1.0"/>
<rect x="334.87" y="64.9" width="7.26" height="5.60" fill="#abd1f3" stroke="#86b6e2" stroke-width="0.5"/>
<line x1="334.87" y1="67.6" x2="342.13" y2="67.6" stroke="#2a5a8a" stroke-width="1.0"/>
<circle cx="337.83" cy="72.18" r="0.4" fill="#555" fill-opacity="0.5"/>
<circle cx="338.90" cy="61.65" r="0.4" fill="#555" fill-opacity="0.5"/>
<circle cx="337.80" cy="62.55" r="0.4" fill="#555" fill-opacity="0.5"/>
<circle cx="338.58" cy="58.71" r="0.4" fill="#555" fill-opacity="0.5"/>
<circle cx="339.27" cy="63.96" r="0.4" fill="#555" fill-opacity="0.5"/>
<circle cx="339.28" cy="74.00" r="0.4" fill="#555" fill-opacity="0.5"/>
<circle cx="337.83" cy="62.87" r="0.4" fill="#555" fill-opacity="0.5"/>
<circle cx="338.50" cy="59.84" r="0.4" fill="#555" fill-opacity="0.5"/>
<circle cx="338.42" cy="70.88" r="0.4" fill="#555" fill-opacity="0.5"/>
<circle cx="338.37" cy="62.32" r="0.4" fill="#555" fill-opacity="0.5"/>
<circle cx="338.78" cy="69.27" r="0.4" fill="#555" fill-opacity="0.5"/>
<circle cx="339.06" cy="71.56" r="0.4" fill="#555" fill-opacity="0.5"/>
<circle cx="337.89" cy="70.06" r="0.4" fill="#555" fill-opacity="0.5"/>
<circle cx="338.17" cy="73.24" r="0.4" fill="#555" fill-opacity="0.5"/>
<circle cx="338.30" cy="68.30" r="0.4" fill="#555" fill-opacity="0.5"/>
<circle cx="338.02" cy="71.39" r="0.4" fill="#555" fill-opacity="0.5"/>
<circle cx="338.09" cy="62.55" r="0.4" fill="#555" fill-opacity="0.5"/>
<circle cx="339.11" cy="60.86" r="0.4" fill="#555" fill-opacity="0.5"/>
<circle cx="338.22" cy="68.51" r="0.4" fill="#555" fill-opacity="0.5"/>
<circle cx="339.29" cy="65.23" r="0.4" fill="#555" fill-opacity="0.5"/>
<circle cx="338.07" cy="67.23" r="0.4" fill="#555" fill-opacity="0.5"/>
<circle cx="338.75" cy="72.65" r="0.4" fill="#555" fill-opacity="0.5"/>
<line x1="310.5" y1="34.5" x2="310.5" y2="83.8" stroke="#222" stroke-width="1.2"/>
<line x1="309.9" y1="83.2" x2="344.9" y2="83.2" stroke="#222" stroke-width="1.2"/>
<line x1="316.50" y1="83.2" x2="316.50" y2="85.9" stroke="#333" stroke-width="1.1"/>
<line x1="327.40" y1="83.2" x2="327.40" y2="85.9" stroke="#333" stroke-width="1.1"/>
<line x1="338.50" y1="83.2" x2="338.50" y2="85.9" stroke="#333" stroke-width="1.1"/>
<text x="374.10" y="19.9" font-size="8.0" fill="#262626" textLength="20.70" lengthAdjust="spacingAndGlyphs">TFRC</text>
<text x="367.80" y="29.6" font-size="6.0" fill="#505050" textLength="33.20" lengthAdjust="spacingAndGlyphs"><tspan font-style="italic">P</tspan>-val: .0020</text>
<line x1="363.50" y1="44.6" x2="366.5" y2="44.6" stroke="#333" stroke-width="1.0"/>
<text x="360.90" y="46.80" font-size="6.2" fill="#2e2e2e" stroke="#2e2e2e" stroke-width="0.12" text-anchor="end" textLength="3.21" lengthAdjust="spacingAndGlyphs">3</text>
<line x1="363.50" y1="53.2" x2="366.5" y2="53.2" stroke="#333" stroke-width="1.0"/>
<text x="360.90" y="55.40" font-size="6.2" fill="#2e2e2e" stroke="#2e2e2e" stroke-width="0.12" text-anchor="end" textLength="3.21" lengthAdjust="spacingAndGlyphs">2</text>
<line x1="363.50" y1="62.2" x2="366.5" y2="62.2" stroke="#333" stroke-width="1.0"/>
<text x="360.90" y="64.40" font-size="6.2" fill="#2e2e2e" stroke="#2e2e2e" stroke-width="0.12" text-anchor="end" textLength="3.21" lengthAdjust="spacingAndGlyphs">1</text>
<line x1="363.50" y1="71.2" x2="366.5" y2="71.2" stroke="#333" stroke-width="1.0"/>
<text x="360.90" y="73.40" font-size="6.2" fill="#2e2e2e" stroke="#2e2e2e" stroke-width="0.12" text-anchor="end" textLength="3.21" lengthAdjust="spacingAndGlyphs">0</text>
<line x1="363.50" y1="80.4" x2="366.5" y2="80.4" stroke="#333" stroke-width="1.0"/>
<text x="360.90" y="82.60" font-size="6.2" fill="#2e2e2e" stroke="#2e2e2e" stroke-width="0.12" text-anchor="end" textLength="6.57" lengthAdjust="spacingAndGlyphs">−1</text>
<line x1="373.00" y1="38.5" x2="373.00" y2="72.7" stroke="#7c7c7c" stroke-width="1.0"/>
<rect x="369.40" y="44.6" width="7.19" height="22.10" fill="#ef8f83" stroke="#d8776b" stroke-width="0.5"/>
<line x1="369.40" y1="61" x2="376.60" y2="61" stroke="#962c24" stroke-width="1.0"/>
<circle cx="372.36" cy="72.39" r="0.4" fill="#555" fill-opacity="0.5"/>
<circle cx="373.51" cy="54.74" r="0.4" fill="#555" fill-opacity="0.5"/>
<circle cx="373.66" cy="67.25" r="0.4" fill="#555" fill-opacity="0.5"/>
<circle cx="372.67" cy="39.88" r="0.4" fill="#555" fill-opacity="0.5"/>
<circle cx="372.50" cy="42.58" r="0.4" fill="#555" fill-opacity="0.5"/>
<circle cx="373.13" cy="71.78" r="0.4" fill="#555" fill-opacity="0.5"/>
<circle cx="372.80" cy="70.31" r="0.4" fill="#555" fill-opacity="0.5"/>
<circle cx="372.92" cy="68.12" r="0.4" fill="#555" fill-opacity="0.5"/>
<circle cx="373.44" cy="47.39" r="0.4" fill="#555" fill-opacity="0.5"/>
<circle cx="372.37" cy="70.84" r="0.4" fill="#555" fill-opacity="0.5"/>
<circle cx="373.19" cy="58.89" r="0.4" fill="#555" fill-opacity="0.5"/>
<circle cx="372.79" cy="45.94" r="0.4" fill="#555" fill-opacity="0.5"/>
<circle cx="372.53" cy="43.33" r="0.4" fill="#555" fill-opacity="0.5"/>
<circle cx="373.16" cy="47.22" r="0.4" fill="#555" fill-opacity="0.5"/>
<circle cx="372.53" cy="60.79" r="0.4" fill="#555" fill-opacity="0.5"/>
<circle cx="372.72" cy="38.89" r="0.4" fill="#555" fill-opacity="0.5"/>
<circle cx="372.50" cy="61.70" r="0.4" fill="#555" fill-opacity="0.5"/>
<circle cx="372.53" cy="49.18" r="0.4" fill="#555" fill-opacity="0.5"/>
<circle cx="373.08" cy="65.70" r="0.4" fill="#555" fill-opacity="0.5"/>
<circle cx="372.36" cy="40.66" r="0.4" fill="#555" fill-opacity="0.5"/>
<circle cx="373.08" cy="52.02" r="0.4" fill="#555" fill-opacity="0.5"/>
<circle cx="372.35" cy="60.36" r="0.4" fill="#555" fill-opacity="0.5"/>
<circle cx="373.31" cy="44.10" r="0.4" fill="#555" fill-opacity="0.5"/>
<circle cx="372.65" cy="52.51" r="0.4" fill="#555" fill-opacity="0.5"/>
<circle cx="373.73" cy="49.02" r="0.4" fill="#555" fill-opacity="0.5"/>
<circle cx="373.11" cy="49.18" r="0.4" fill="#555" fill-opacity="0.5"/>
<circle cx="372.87" cy="50.72" r="0.4" fill="#555" fill-opacity="0.5"/>
<circle cx="373.79" cy="68.06" r="0.4" fill="#555" fill-opacity="0.5"/>
<circle cx="372.52" cy="50.94" r="0.4" fill="#555" fill-opacity="0.5"/>
<circle cx="372.53" cy="63.40" r="0.4" fill="#555" fill-opacity="0.5"/>
<circle cx="373.64" cy="38.70" r="0.4" fill="#555" fill-opacity="0.5"/>
<circle cx="373.51" cy="52.99" r="0.4" fill="#555" fill-opacity="0.5"/>
<circle cx="373.61" cy="52.39" r="0.4" fill="#555" fill-opacity="0.5"/>
<circle cx="372.46" cy="54.26" r="0.4" fill="#555" fill-opacity="0.5"/>
<circle cx="373.08" cy="39.01" r="0.4" fill="#555" fill-opacity="0.5"/>
<circle cx="373.66" cy="60.41" r="0.4" fill="#555" fill-opacity="0.5"/>
<line x1="383.90" y1="41.2" x2="383.90" y2="81.7" stroke="#7c7c7c" stroke-width="1.0"/>
<rect x="380.30" y="60.4" width="7.19" height="13.90" fill="#abd993" stroke="#86bf6b" stroke-width="0.5"/>
<line x1="380.30" y1="67.1" x2="387.50" y2="67.1" stroke="#36632a" stroke-width="1.0"/>
<circle cx="384.10" cy="44.81" r="0.4" fill="#555" fill-opacity="0.5"/>
<circle cx="383.91" cy="56.22" r="0.4" fill="#555" fill-opacity="0.5"/>
<circle cx="383.55" cy="47.11" r="0.4" fill="#555" fill-opacity="0.5"/>
<circle cx="384.58" cy="62.31" r="0.4" fill="#555" fill-opacity="0.5"/>
<circle cx="383.88" cy="45.61" r="0.4" fill="#555" fill-opacity="0.5"/>
<circle cx="384.65" cy="73.79" r="0.4" fill="#555" fill-opacity="0.5"/>
<circle cx="383.30" cy="49.19" r="0.4" fill="#555" fill-opacity="0.5"/>
<circle cx="384.66" cy="79.39" r="0.4" fill="#555" fill-opacity="0.5"/>
<circle cx="383.19" cy="60.75" r="0.4" fill="#555" fill-opacity="0.5"/>
<circle cx="383.72" cy="78.71" r="0.4" fill="#555" fill-opacity="0.5"/>
<circle cx="384.09" cy="77.82" r="0.4" fill="#555" fill-opacity="0.5"/>
<circle cx="383.36" cy="74.59" r="0.4" fill="#555" fill-opacity="0.5"/>
<circle cx="383.46" cy="73.03" r="0.4" fill="#555" fill-opacity="0.5"/>
<circle cx="384.45" cy="57.58" r="0.4" fill="#555" fill-opacity="0.5"/>
<circle cx="383.39" cy="74.78" r="0.4" fill="#555" fill-opacity="0.5"/>
<circle cx="383.74" cy="50.03" r="0.4" fill="#555" fill-opacity="0.5"/>
<circle cx="383.71" cy="62.17" r="0.4" fill="#555" fill-opacity="0.5"/>
<circle cx="383.50" cy="46.18" r="0.4" fill="#555" fill-opacity="0.5"/>
<circle cx="384.54" cy="70.56" r="0.4" fill="#555" fill-opacity="0.5"/>
<circle cx="384.00" cy="42.86" r="0.4" fill="#555" fill-opacity="0.5"/>
<circle cx="383.16" cy="71.88" r="0.4" fill="#555" fill-opacity="0.5"/>
<circle cx="383.29" cy="75.15" r="0.4" fill="#555" fill-opacity="0.5"/>
<circle cx="383.98" cy="65.48" r="0.4" fill="#555" fill-opacity="0.5"/>
<circle cx="383.59" cy="66.60" r="0.4" fill="#555" fill-opacity="0.5"/>
<circle cx="384.03" cy="58.21" r="0.4" fill="#555" fill-opacity="0.5"/>
<circle cx="384.15" cy="58.44" r="0.4" fill="#555" fill-opacity="0.5"/>
<circle cx="383.80" cy="59.29" r="0.4" fill="#555" fill-opacity="0.5"/>
<circle cx="384.09" cy="42.15" r="0.4" fill="#555" fill-opacity="0.5"/>
<circle cx="383.48" cy="61.02" r="0.4" fill="#555" fill-opacity="0.5"/>
<circle cx="384.35" cy="72.12" r="0.4" fill="#555" fill-opacity="0.5"/>
<circle cx="383.39" cy="59.76" r="0.4" fill="#555" fill-opacity="0.5"/>
<circle cx="383.27" cy="60.37" r="0.4" fill="#555" fill-opacity="0.5"/>
<circle cx="383.79" cy="46.40" r="0.4" fill="#555" fill-opacity="0.5"/>
<circle cx="383.81" cy="44.91" r="0.4" fill="#555" fill-opacity="0.5"/>
<circle cx="383.17" cy="61.86" r="0.4" fill="#555" fill-opacity="0.5"/>
<circle cx="383.23" cy="66.98" r="0.4" fill="#555" fill-opacity="0.5"/>
<circle cx="384.34" cy="70.91" r="0.4" fill="#555" fill-opacity="0.5"/>
<circle cx="383.19" cy="61.92" r="0.4" fill="#555" fill-opacity="0.5"/>
<circle cx="383.70" cy="61.61" r="0.4" fill="#555" fill-opacity="0.5"/>
<circle cx="383.32" cy="79.71" r="0.4" fill="#555" fill-opacity="0.5"/>
<circle cx="384.69" cy="75.91" r="0.4" fill="#555" fill-opacity="0.5"/>
<circle cx="384.40" cy="70.85" r="0.4" fill="#555" fill-opacity="0.5"/>
<line x1="394.80" y1="69.4" x2="394.80" y2="76.1" stroke="#7c7c7c" stroke-width="1.0"/>
<rect x="391.20" y="72.3" width="7.19" height="2.70" fill="#abd1f3" stroke="#86b6e2" stroke-width="0.5"/>
<line x1="391.20" y1="73.4" x2="398.40" y2="73.4" stroke="#2a5a8a" stroke-width="1.0"/>
<circle cx="394.80" cy="67.6" r="0.45" fill="#777"/>
<circle cx="395.57" cy="70.70" r="0.4" fill="#555" fill-opacity="0.5"/>
<circle cx="395.53" cy="72.70" r="0.4" fill="#555" fill-opacity="0.5"/>
<circle cx="394.26" cy="75.54" r="0.4" fill="#555" fill-opacity="0.5"/>
<circle cx="395.49" cy="74.68" r="0.4" fill="#555" fill-opacity="0.5"/>
<circle cx="394.56" cy="69.84" r="0.4" fill="#555" fill-opacity="0.5"/>
<circle cx="394.25" cy="74.47" r="0.4" fill="#555" fill-opacity="0.5"/>
<circle cx="394.44" cy="75.41" r="0.4" fill="#555" fill-opacity="0.5"/>
<circle cx="394.23" cy="74.86" r="0.4" fill="#555" fill-opacity="0.5"/>
<circle cx="395.47" cy="72.76" r="0.4" fill="#555" fill-opacity="0.5"/>
<circle cx="394.42" cy="70.80" r="0.4" fill="#555" fill-opacity="0.5"/>
<circle cx="394.51" cy="72.79" r="0.4" fill="#555" fill-opacity="0.5"/>
<circle cx="394.29" cy="69.65" r="0.4" fill="#555" fill-opacity="0.5"/>
<line x1="366.5" y1="34.5" x2="366.5" y2="83.8" stroke="#222" stroke-width="1.2"/>
<line x1="365.9" y1="83.2" x2="401.4" y2="83.2" stroke="#222" stroke-width="1.2"/>
<line x1="373.00" y1="83.2" x2="373.00" y2="85.9" stroke="#333" stroke-width="1.1"/>
<line x1="383.90" y1="83.2" x2="383.90" y2="85.9" stroke="#333" stroke-width="1.1"/>
<line x1="394.80" y1="83.2" x2="394.80" y2="85.9" stroke="#333" stroke-width="1.1"/>
<text x="439.50" y="19.9" font-size="8.0" fill="#262626" textLength="17.80" lengthAdjust="spacingAndGlyphs">Porin</text>
<text x="432.20" y="29.6" font-size="6.0" fill="#505050" textLength="33.20" lengthAdjust="spacingAndGlyphs"><tspan font-style="italic">P</tspan>-val: .0254</text>
<line x1="428.50" y1="36.7" x2="431.5" y2="36.7" stroke="#333" stroke-width="1.0"/>
<text x="425.90" y="38.90" font-size="6.2" fill="#2e2e2e" stroke="#2e2e2e" stroke-width="0.12" text-anchor="end" textLength="11.22" lengthAdjust="spacingAndGlyphs">0.50</text>
<line x1="428.50" y1="51.6" x2="431.5" y2="51.6" stroke="#333" stroke-width="1.0"/>
<text x="425.90" y="53.80" font-size="6.2" fill="#2e2e2e" stroke="#2e2e2e" stroke-width="0.12" text-anchor="end" textLength="11.22" lengthAdjust="spacingAndGlyphs">0.25</text>
<line x1="428.50" y1="66.4" x2="431.5" y2="66.4" stroke="#333" stroke-width="1.0"/>
<text x="425.90" y="68.60" font-size="6.2" fill="#2e2e2e" stroke="#2e2e2e" stroke-width="0.12" text-anchor="end" textLength="11.22" lengthAdjust="spacingAndGlyphs">0.00</text>
<line x1="428.50" y1="81.3" x2="431.5" y2="81.3" stroke="#333" stroke-width="1.0"/>
<text x="425.90" y="83.50" font-size="6.2" fill="#2e2e2e" stroke="#2e2e2e" stroke-width="0.12" text-anchor="end" textLength="14.59" lengthAdjust="spacingAndGlyphs">−0.25</text>
<line x1="437.70" y1="45.7" x2="437.70" y2="70" stroke="#7c7c7c" stroke-width="1.0"/>
<rect x="434.15" y="51.8" width="7.10" height="9.70" fill="#ef8f83" stroke="#d8776b" stroke-width="0.5"/>
<line x1="434.15" y1="54.7" x2="441.25" y2="54.7" stroke="#962c24" stroke-width="1.0"/>
<circle cx="438.40" cy="49.62" r="0.4" fill="#555" fill-opacity="0.5"/>
<circle cx="438.33" cy="62.22" r="0.4" fill="#555" fill-opacity="0.5"/>
<circle cx="438.16" cy="49.80" r="0.4" fill="#555" fill-opacity="0.5"/>
<circle cx="437.75" cy="48.50" r="0.4" fill="#555" fill-opacity="0.5"/>
<circle cx="437.48" cy="61.16" r="0.4" fill="#555" fill-opacity="0.5"/>
<circle cx="437.79" cy="66.91" r="0.4" fill="#555" fill-opacity="0.5"/>
<circle cx="438.31" cy="59.80" r="0.4" fill="#555" fill-opacity="0.5"/>
<circle cx="438.49" cy="48.24" r="0.4" fill="#555" fill-opacity="0.5"/>
<circle cx="437.53" cy="61.00" r="0.4" fill="#555" fill-opacity="0.5"/>
<circle cx="437.32" cy="65.08" r="0.4" fill="#555" fill-opacity="0.5"/>
<circle cx="437.82" cy="69.77" r="0.4" fill="#555" fill-opacity="0.5"/>
<circle cx="438.12" cy="54.45" r="0.4" fill="#555" fill-opacity="0.5"/>
<circle cx="437.18" cy="56.45" r="0.4" fill="#555" fill-opacity="0.5"/>
<circle cx="436.98" cy="63.77" r="0.4" fill="#555" fill-opacity="0.5"/>
<circle cx="437.31" cy="65.62" r="0.4" fill="#555" fill-opacity="0.5"/>
<circle cx="438.47" cy="61.23" r="0.4" fill="#555" fill-opacity="0.5"/>
<circle cx="437.96" cy="59.94" r="0.4" fill="#555" fill-opacity="0.5"/>
<circle cx="436.90" cy="53.30" r="0.4" fill="#555" fill-opacity="0.5"/>
<circle cx="437.14" cy="46.52" r="0.4" fill="#555" fill-opacity="0.5"/>
<circle cx="437.59" cy="60.67" r="0.4" fill="#555" fill-opacity="0.5"/>
<circle cx="438.33" cy="58.16" r="0.4" fill="#555" fill-opacity="0.5"/>
<circle cx="437.26" cy="48.91" r="0.4" fill="#555" fill-opacity="0.5"/>
<circle cx="436.94" cy="61.57" r="0.4" fill="#555" fill-opacity="0.5"/>
<circle cx="437.47" cy="45.76" r="0.4" fill="#555" fill-opacity="0.5"/>
<circle cx="437.47" cy="48.28" r="0.4" fill="#555" fill-opacity="0.5"/>
<circle cx="437.83" cy="51.15" r="0.4" fill="#555" fill-opacity="0.5"/>
<circle cx="437.23" cy="60.01" r="0.4" fill="#555" fill-opacity="0.5"/>
<line x1="448.60" y1="38.5" x2="448.60" y2="78.4" stroke="#7c7c7c" stroke-width="1.0"/>
<rect x="445.05" y="54.7" width="7.10" height="12.40" fill="#abd993" stroke="#86bf6b" stroke-width="0.5"/>
<line x1="445.05" y1="60.8" x2="452.15" y2="60.8" stroke="#36632a" stroke-width="1.0"/>
<circle cx="448.56" cy="63.39" r="0.4" fill="#555" fill-opacity="0.5"/>
<circle cx="449.30" cy="43.88" r="0.4" fill="#555" fill-opacity="0.5"/>
<circle cx="448.04" cy="48.22" r="0.4" fill="#555" fill-opacity="0.5"/>
<circle cx="448.82" cy="42.32" r="0.4" fill="#555" fill-opacity="0.5"/>
<circle cx="449.05" cy="73.26" r="0.4" fill="#555" fill-opacity="0.5"/>
<circle cx="448.22" cy="54.54" r="0.4" fill="#555" fill-opacity="0.5"/>
<circle cx="448.83" cy="38.96" r="0.4" fill="#555" fill-opacity="0.5"/>
<circle cx="448.36" cy="60.94" r="0.4" fill="#555" fill-opacity="0.5"/>
<circle cx="448.51" cy="64.26" r="0.4" fill="#555" fill-opacity="0.5"/>
<circle cx="448.97" cy="75.89" r="0.4" fill="#555" fill-opacity="0.5"/>
<circle cx="449.25" cy="48.42" r="0.4" fill="#555" fill-opacity="0.5"/>
<circle cx="448.65" cy="40.26" r="0.4" fill="#555" fill-opacity="0.5"/>
<circle cx="448.18" cy="54.70" r="0.4" fill="#555" fill-opacity="0.5"/>
<circle cx="449.05" cy="40.83" r="0.4" fill="#555" fill-opacity="0.5"/>
<circle cx="448.68" cy="38.99" r="0.4" fill="#555" fill-opacity="0.5"/>
<circle cx="448.03" cy="76.04" r="0.4" fill="#555" fill-opacity="0.5"/>
<circle cx="448.77" cy="46.46" r="0.4" fill="#555" fill-opacity="0.5"/>
<circle cx="448.83" cy="58.73" r="0.4" fill="#555" fill-opacity="0.5"/>
<circle cx="448.08" cy="70.95" r="0.4" fill="#555" fill-opacity="0.5"/>
<circle cx="448.28" cy="50.84" r="0.4" fill="#555" fill-opacity="0.5"/>
<circle cx="449.22" cy="40.43" r="0.4" fill="#555" fill-opacity="0.5"/>
<circle cx="448.94" cy="69.74" r="0.4" fill="#555" fill-opacity="0.5"/>
<circle cx="449.15" cy="38.75" r="0.4" fill="#555" fill-opacity="0.5"/>
<circle cx="448.54" cy="68.23" r="0.4" fill="#555" fill-opacity="0.5"/>
<circle cx="448.52" cy="68.10" r="0.4" fill="#555" fill-opacity="0.5"/>
<circle cx="447.97" cy="47.52" r="0.4" fill="#555" fill-opacity="0.5"/>
<circle cx="447.86" cy="47.77" r="0.4" fill="#555" fill-opacity="0.5"/>
<circle cx="449.00" cy="51.89" r="0.4" fill="#555" fill-opacity="0.5"/>
<circle cx="449.15" cy="66.23" r="0.4" fill="#555" fill-opacity="0.5"/>
<circle cx="448.23" cy="66.90" r="0.4" fill="#555" fill-opacity="0.5"/>
<circle cx="448.50" cy="60.60" r="0.4" fill="#555" fill-opacity="0.5"/>
<circle cx="448.64" cy="69.96" r="0.4" fill="#555" fill-opacity="0.5"/>
<circle cx="448.83" cy="49.09" r="0.4" fill="#555" fill-opacity="0.5"/>
<circle cx="448.15" cy="77.01" r="0.4" fill="#555" fill-opacity="0.5"/>
<circle cx="447.82" cy="73.61" r="0.4" fill="#555" fill-opacity="0.5"/>
<circle cx="448.18" cy="48.89" r="0.4" fill="#555" fill-opacity="0.5"/>
<circle cx="449.31" cy="68.18" r="0.4" fill="#555" fill-opacity="0.5"/>
<circle cx="448.32" cy="68.27" r="0.4" fill="#555" fill-opacity="0.5"/>
<circle cx="448.33" cy="73.62" r="0.4" fill="#555" fill-opacity="0.5"/>
<circle cx="449.25" cy="48.04" r="0.4" fill="#555" fill-opacity="0.5"/>
<circle cx="448.91" cy="63.66" r="0.4" fill="#555" fill-opacity="0.5"/>
<line x1="459.20" y1="57" x2="459.20" y2="80" stroke="#7c7c7c" stroke-width="1.0"/>
<rect x="455.65" y="63.3" width="7.10" height="15.10" fill="#abd1f3" stroke="#86b6e2" stroke-width="0.5"/>
<line x1="455.65" y1="64.9" x2="462.75" y2="64.9" stroke="#2a5a8a" stroke-width="1.0"/>
<circle cx="459.97" cy="72.30" r="0.4" fill="#555" fill-opacity="0.5"/>
<circle cx="459.74" cy="67.80" r="0.4" fill="#555" fill-opacity="0.5"/>
<circle cx="459.77" cy="73.05" r="0.4" fill="#555" fill-opacity="0.5"/>
<circle cx="459.56" cy="67.06" r="0.4" fill="#555" fill-opacity="0.5"/>
<circle cx="458.89" cy="70.12" r="0.4" fill="#555" fill-opacity="0.5"/>
<circle cx="459.40" cy="61.88" r="0.4" fill="#555" fill-opacity="0.5"/>
<circle cx="459.86" cy="58.79" r="0.4" fill="#555" fill-opacity="0.5"/>
<circle cx="458.44" cy="60.33" r="0.4" fill="#555" fill-opacity="0.5"/>
<circle cx="459.89" cy="59.45" r="0.4" fill="#555" fill-opacity="0.5"/>
<circle cx="458.63" cy="64.93" r="0.4" fill="#555" fill-opacity="0.5"/>
<circle cx="458.47" cy="57.66" r="0.4" fill="#555" fill-opacity="0.5"/>
<circle cx="459.41" cy="72.93" r="0.4" fill="#555" fill-opacity="0.5"/>
<circle cx="459.58" cy="73.03" r="0.4" fill="#555" fill-opacity="0.5"/>
<circle cx="459.34" cy="58.51" r="0.4" fill="#555" fill-opacity="0.5"/>
<circle cx="459.71" cy="65.36" r="0.4" fill="#555" fill-opacity="0.5"/>
<circle cx="459.83" cy="75.85" r="0.4" fill="#555" fill-opacity="0.5"/>
<circle cx="459.79" cy="58.52" r="0.4" fill="#555" fill-opacity="0.5"/>
<circle cx="459.91" cy="78.03" r="0.4" fill="#555" fill-opacity="0.5"/>
<circle cx="458.73" cy="59.46" r="0.4" fill="#555" fill-opacity="0.5"/>
<circle cx="458.46" cy="59.58" r="0.4" fill="#555" fill-opacity="0.5"/>
<circle cx="459.70" cy="76.50" r="0.4" fill="#555" fill-opacity="0.5"/>
<circle cx="459.72" cy="71.59" r="0.4" fill="#555" fill-opacity="0.5"/>
<circle cx="458.86" cy="71.53" r="0.4" fill="#555" fill-opacity="0.5"/>
<circle cx="458.56" cy="59.30" r="0.4" fill="#555" fill-opacity="0.5"/>
<circle cx="458.73" cy="74.42" r="0.4" fill="#555" fill-opacity="0.5"/>
<circle cx="459.08" cy="64.34" r="0.4" fill="#555" fill-opacity="0.5"/>
<line x1="431.5" y1="34.5" x2="431.5" y2="83.8" stroke="#222" stroke-width="1.2"/>
<line x1="430.9" y1="83.2" x2="465.4" y2="83.2" stroke="#222" stroke-width="1.2"/>
<line x1="437.70" y1="83.2" x2="437.70" y2="85.9" stroke="#333" stroke-width="1.1"/>
<line x1="448.60" y1="83.2" x2="448.60" y2="85.9" stroke="#333" stroke-width="1.1"/>
<line x1="459.20" y1="83.2" x2="459.20" y2="85.9" stroke="#333" stroke-width="1.1"/>
<text x="44.70" y="107.2" font-size="8.0" fill="#262626" textLength="22.00" lengthAdjust="spacingAndGlyphs">ASNS</text>
<text x="41.20" y="116.7" font-size="6.0" fill="#505050" textLength="30.00" lengthAdjust="spacingAndGlyphs"><tspan font-style="italic">P</tspan>-val: .0040</text>
<line x1="35.30" y1="132.6" x2="38.3" y2="132.6" stroke="#333" stroke-width="1.0"/>
<text x="32.70" y="134.80" font-size="6.2" fill="#2e2e2e" stroke="#2e2e2e" stroke-width="0.12" text-anchor="end" textLength="8.01" lengthAdjust="spacingAndGlyphs">1.0</text>
<line x1="35.30" y1="144.4" x2="38.3" y2="144.4" stroke="#333" stroke-width="1.0"/>
<text x="32.70" y="146.60" font-size="6.2" fill="#2e2e2e" stroke="#2e2e2e" stroke-width="0.12" text-anchor="end" textLength="8.01" lengthAdjust="spacingAndGlyphs">0.5</text>
<line x1="35.30" y1="156.4" x2="38.3" y2="156.4" stroke="#333" stroke-width="1.0"/>
<text x="32.70" y="158.60" font-size="6.2" fill="#2e2e2e" stroke="#2e2e2e" stroke-width="0.12" text-anchor="end" textLength="8.01" lengthAdjust="spacingAndGlyphs">0.0</text>
<line x1="35.30" y1="168.3" x2="38.3" y2="168.3" stroke="#333" stroke-width="1.0"/>
<text x="32.70" y="170.50" font-size="6.2" fill="#2e2e2e" stroke="#2e2e2e" stroke-width="0.12" text-anchor="end" textLength="11.38" lengthAdjust="spacingAndGlyphs">−0.5</text>
<line x1="44.70" y1="126.2" x2="44.70" y2="161.1" stroke="#7c7c7c" stroke-width="1.0"/>
<rect x="41.05" y="138.2" width="7.29" height="9.40" fill="#ef8f83" stroke="#d8776b" stroke-width="0.5"/>
<line x1="41.05" y1="144.7" x2="48.35" y2="144.7" stroke="#962c24" stroke-width="1.0"/>
<circle cx="44.31" cy="126.93" r="0.4" fill="#555" fill-opacity="0.5"/>
<circle cx="45.05" cy="136.06" r="0.4" fill="#555" fill-opacity="0.5"/>
<circle cx="44.41" cy="139.04" r="0.4" fill="#555" fill-opacity="0.5"/>
<circle cx="44.71" cy="159.84" r="0.4" fill="#555" fill-opacity="0.5"/>
<circle cx="44.89" cy="155.91" r="0.4" fill="#555" fill-opacity="0.5"/>
<circle cx="44.56" cy="127.28" r="0.4" fill="#555" fill-opacity="0.5"/>
<circle cx="45.14" cy="141.43" r="0.4" fill="#555" fill-opacity="0.5"/>
<circle cx="45.03" cy="138.30" r="0.4" fill="#555" fill-opacity="0.5"/>
<circle cx="44.25" cy="144.97" r="0.4" fill="#555" fill-opacity="0.5"/>
<circle cx="44.05" cy="156.29" r="0.4" fill="#555" fill-opacity="0.5"/>
<circle cx="44.17" cy="154.81" r="0.4" fill="#555" fill-opacity="0.5"/>
<circle cx="44.22" cy="126.25" r="0.4" fill="#555" fill-opacity="0.5"/>
<circle cx="45.46" cy="152.80" r="0.4" fill="#555" fill-opacity="0.5"/>
<circle cx="44.69" cy="126.35" r="0.4" fill="#555" fill-opacity="0.5"/>
<circle cx="45.17" cy="143.35" r="0.4" fill="#555" fill-opacity="0.5"/>
<circle cx="44.69" cy="132.64" r="0.4" fill="#555" fill-opacity="0.5"/>
<circle cx="45.23" cy="138.32" r="0.4" fill="#555" fill-opacity="0.5"/>
<circle cx="45.41" cy="135.29" r="0.4" fill="#555" fill-opacity="0.5"/>
<circle cx="44.24" cy="136.10" r="0.4" fill="#555" fill-opacity="0.5"/>
<circle cx="44.70" cy="150.61" r="0.4" fill="#555" fill-opacity="0.5"/>
<circle cx="44.92" cy="130.04" r="0.4" fill="#555" fill-opacity="0.5"/>
<circle cx="45.16" cy="129.02" r="0.4" fill="#555" fill-opacity="0.5"/>
<circle cx="45.16" cy="150.53" r="0.4" fill="#555" fill-opacity="0.5"/>
<circle cx="44.47" cy="148.11" r="0.4" fill="#555" fill-opacity="0.5"/>
<circle cx="44.53" cy="140.20" r="0.4" fill="#555" fill-opacity="0.5"/>
<circle cx="44.04" cy="157.28" r="0.4" fill="#555" fill-opacity="0.5"/>
<circle cx="43.94" cy="157.21" r="0.4" fill="#555" fill-opacity="0.5"/>
<circle cx="44.32" cy="133.39" r="0.4" fill="#555" fill-opacity="0.5"/>
<circle cx="44.70" cy="157.65" r="0.4" fill="#555" fill-opacity="0.5"/>
<circle cx="45.31" cy="139.44" r="0.4" fill="#555" fill-opacity="0.5"/>
<circle cx="44.64" cy="134.35" r="0.4" fill="#555" fill-opacity="0.5"/>
<circle cx="45.11" cy="144.75" r="0.4" fill="#555" fill-opacity="0.5"/>
<circle cx="44.93" cy="152.48" r="0.4" fill="#555" fill-opacity="0.5"/>
<circle cx="44.42" cy="138.36" r="0.4" fill="#555" fill-opacity="0.5"/>
<circle cx="45.25" cy="131.62" r="0.4" fill="#555" fill-opacity="0.5"/>
<circle cx="45.09" cy="149.31" r="0.4" fill="#555" fill-opacity="0.5"/>
<circle cx="44.60" cy="132.12" r="0.4" fill="#555" fill-opacity="0.5"/>
<line x1="55.90" y1="149.9" x2="55.90" y2="166.3" stroke="#7c7c7c" stroke-width="1.0"/>
<rect x="52.25" y="155.5" width="7.29" height="6.70" fill="#abd993" stroke="#86bf6b" stroke-width="0.5"/>
<line x1="52.25" y1="159.3" x2="59.55" y2="159.3" stroke="#36632a" stroke-width="1.0"/>
<circle cx="55.90" cy="137.5" r="0.45" fill="#777"/>
<circle cx="56.03" cy="162.58" r="0.4" fill="#555" fill-opacity="0.5"/>
<circle cx="55.84" cy="151.97" r="0.4" fill="#555" fill-opacity="0.5"/>
<circle cx="55.48" cy="164.42" r="0.4" fill="#555" fill-opacity="0.5"/>
<circle cx="55.58" cy="153.04" r="0.4" fill="#555" fill-opacity="0.5"/>
<circle cx="56.45" cy="161.43" r="0.4" fill="#555" fill-opacity="0.5"/>
<circle cx="55.35" cy="152.44" r="0.4" fill="#555" fill-opacity="0.5"/>
<circle cx="55.62" cy="153.96" r="0.4" fill="#555" fill-opacity="0.5"/>
<circle cx="55.36" cy="158.46" r="0.4" fill="#555" fill-opacity="0.5"/>
<circle cx="55.40" cy="155.28" r="0.4" fill="#555" fill-opacity="0.5"/>
<circle cx="56.27" cy="165.89" r="0.4" fill="#555" fill-opacity="0.5"/>
<circle cx="56.64" cy="151.57" r="0.4" fill="#555" fill-opacity="0.5"/>
<circle cx="55.71" cy="151.57" r="0.4" fill="#555" fill-opacity="0.5"/>
<circle cx="56.37" cy="166.03" r="0.4" fill="#555" fill-opacity="0.5"/>
<circle cx="55.80" cy="161.93" r="0.4" fill="#555" fill-opacity="0.5"/>
<circle cx="56.12" cy="153.12" r="0.4" fill="#555" fill-opacity="0.5"/>
<circle cx="55.43" cy="151.65" r="0.4" fill="#555" fill-opacity="0.5"/>
<circle cx="55.15" cy="156.27" r="0.4" fill="#555" fill-opacity="0.5"/>
<circle cx="56.37" cy="156.44" r="0.4" fill="#555" fill-opacity="0.5"/>
<circle cx="55.90" cy="161.27" r="0.4" fill="#555" fill-opacity="0.5"/>
<circle cx="55.84" cy="160.27" r="0.4" fill="#555" fill-opacity="0.5"/>
<line x1="66.80" y1="156.6" x2="66.80" y2="160.7" stroke="#7c7c7c" stroke-width="1.0"/>
<rect x="63.15" y="158.2" width="7.29" height="1.10" fill="#abd1f3" stroke="#86b6e2" stroke-width="0.5"/>
<line x1="63.15" y1="158.9" x2="70.45" y2="158.9" stroke="#2a5a8a" stroke-width="1.0"/>
<circle cx="66.80" cy="143.1" r="0.45" fill="#777"/>
<circle cx="66.80" cy="163.4" r="0.45" fill="#777"/>
<circle cx="66.97" cy="157.18" r="0.4" fill="#555" fill-opacity="0.5"/>
<circle cx="67.19" cy="158.26" r="0.4" fill="#555" fill-opacity="0.5"/>
<circle cx="66.69" cy="160.32" r="0.4" fill="#555" fill-opacity="0.5"/>
<circle cx="67.20" cy="158.95" r="0.4" fill="#555" fill-opacity="0.5"/>
<circle cx="66.37" cy="158.33" r="0.4" fill="#555" fill-opacity="0.5"/>
<circle cx="67.41" cy="159.56" r="0.4" fill="#555" fill-opacity="0.5"/>
<circle cx="67.12" cy="159.77" r="0.4" fill="#555" fill-opacity="0.5"/>
<circle cx="67.09" cy="160.10" r="0.4" fill="#555" fill-opacity="0.5"/>
<circle cx="66.73" cy="159.23" r="0.4" fill="#555" fill-opacity="0.5"/>
<line x1="38.3" y1="121.0" x2="38.3" y2="169.2" stroke="#222" stroke-width="1.2"/>
<line x1="37.699999999999996" y1="168.6" x2="73.9" y2="168.6" stroke="#222" stroke-width="1.2"/>
<line x1="44.70" y1="168.6" x2="44.70" y2="171.29999999999998" stroke="#333" stroke-width="1.1"/>
<line x1="55.90" y1="168.6" x2="55.90" y2="171.29999999999998" stroke="#333" stroke-width="1.1"/>
<line x1="66.80" y1="168.6" x2="66.80" y2="171.29999999999998" stroke="#333" stroke-width="1.1"/>
<text x="105.30" y="107.2" font-size="8.0" fill="#262626" textLength="24.50" lengthAdjust="spacingAndGlyphs">PAICS</text>
<text x="102.80" y="116.7" font-size="6.0" fill="#505050" textLength="29.50" lengthAdjust="spacingAndGlyphs"><tspan font-style="italic">P</tspan>-val: .0001</text>
<line x1="97.30" y1="130.3" x2="100.3" y2="130.3" stroke="#333" stroke-width="1.0"/>
<text x="94.70" y="132.50" font-size="6.2" fill="#2e2e2e" stroke="#2e2e2e" stroke-width="0.12" text-anchor="end" textLength="8.01" lengthAdjust="spacingAndGlyphs">1.0</text>
<line x1="97.30" y1="141.5" x2="100.3" y2="141.5" stroke="#333" stroke-width="1.0"/>
<text x="94.70" y="143.70" font-size="6.2" fill="#2e2e2e" stroke="#2e2e2e" stroke-width="0.12" text-anchor="end" textLength="8.01" lengthAdjust="spacingAndGlyphs">0.5</text>
<line x1="97.30" y1="152.8" x2="100.3" y2="152.8" stroke="#333" stroke-width="1.0"/>
<text x="94.70" y="155.00" font-size="6.2" fill="#2e2e2e" stroke="#2e2e2e" stroke-width="0.12" text-anchor="end" textLength="8.01" lengthAdjust="spacingAndGlyphs">0.0</text>
<line x1="97.30" y1="164" x2="100.3" y2="164" stroke="#333" stroke-width="1.0"/>
<text x="94.70" y="166.20" font-size="6.2" fill="#2e2e2e" stroke="#2e2e2e" stroke-width="0.12" text-anchor="end" textLength="11.38" lengthAdjust="spacingAndGlyphs">−0.5</text>
<line x1="106.70" y1="126.2" x2="106.70" y2="161.1" stroke="#7c7c7c" stroke-width="1.0"/>
<rect x="103.10" y="130.7" width="7.19" height="18.00" fill="#ef8f83" stroke="#d8776b" stroke-width="0.5"/>
<line x1="103.10" y1="140.2" x2="110.30" y2="140.2" stroke="#962c24" stroke-width="1.0"/>
<circle cx="106.91" cy="137.12" r="0.4" fill="#555" fill-opacity="0.5"/>
<circle cx="106.57" cy="129.62" r="0.4" fill="#555" fill-opacity="0.5"/>
<circle cx="107.04" cy="153.50" r="0.4" fill="#555" fill-opacity="0.5"/>
<circle cx="106.30" cy="148.17" r="0.4" fill="#555" fill-opacity="0.5"/>
<circle cx="106.63" cy="140.98" r="0.4" fill="#555" fill-opacity="0.5"/>
<circle cx="106.55" cy="147.89" r="0.4" fill="#555" fill-opacity="0.5"/>
<circle cx="107.39" cy="149.77" r="0.4" fill="#555" fill-opacity="0.5"/>
<circle cx="106.95" cy="132.59" r="0.4" fill="#555" fill-opacity="0.5"/>
<circle cx="106.52" cy="153.36" r="0.4" fill="#555" fill-opacity="0.5"/>
<circle cx="107.46" cy="143.30" r="0.4" fill="#555" fill-opacity="0.5"/>
<circle cx="106.77" cy="127.53" r="0.4" fill="#555" fill-opacity="0.5"/>
<circle cx="107.15" cy="131.81" r="0.4" fill="#555" fill-opacity="0.5"/>
<circle cx="106.73" cy="159.03" r="0.4" fill="#555" fill-opacity="0.5"/>
<circle cx="106.82" cy="129.73" r="0.4" fill="#555" fill-opacity="0.5"/>
<circle cx="107.05" cy="145.08" r="0.4" fill="#555" fill-opacity="0.5"/>
<circle cx="106.92" cy="144.08" r="0.4" fill="#555" fill-opacity="0.5"/>
<circle cx="106.73" cy="155.13" r="0.4" fill="#555" fill-opacity="0.5"/>
<circle cx="107.42" cy="140.52" r="0.4" fill="#555" fill-opacity="0.5"/>
<circle cx="106.99" cy="133.53" r="0.4" fill="#555" fill-opacity="0.5"/>
<circle cx="107.12" cy="139.90" r="0.4" fill="#555" fill-opacity="0.5"/>
<circle cx="107.48" cy="130.47" r="0.4" fill="#555" fill-opacity="0.5"/>
<circle cx="105.99" cy="138.61" r="0.4" fill="#555" fill-opacity="0.5"/>
<circle cx="106.54" cy="135.78" r="0.4" fill="#555" fill-opacity="0.5"/>
<circle cx="106.57" cy="126.66" r="0.4" fill="#555" fill-opacity="0.5"/>
<circle cx="107.02" cy="140.88" r="0.4" fill="#555" fill-opacity="0.5"/>
<circle cx="106.32" cy="138.49" r="0.4" fill="#555" fill-opacity="0.5"/>
<circle cx="107.09" cy="134.03" r="0.4" fill="#555" fill-opacity="0.5"/>
<circle cx="106.74" cy="159.00" r="0.4" fill="#555" fill-opacity="0.5"/>
<circle cx="107.18" cy="133.84" r="0.4" fill="#555" fill-opacity="0.5"/>
<circle cx="106.24" cy="139.88" r="0.4" fill="#555" fill-opacity="0.5"/>
<circle cx="107.14" cy="130.71" r="0.4" fill="#555" fill-opacity="0.5"/>
<circle cx="106.91" cy="154.45" r="0.4" fill="#555" fill-opacity="0.5"/>
<circle cx="106.80" cy="142.57" r="0.4" fill="#555" fill-opacity="0.5"/>
<circle cx="107.44" cy="134.09" r="0.4" fill="#555" fill-opacity="0.5"/>
<circle cx="106.92" cy="138.52" r="0.4" fill="#555" fill-opacity="0.5"/>
<circle cx="107.21" cy="154.77" r="0.4" fill="#555" fill-opacity="0.5"/>
<circle cx="106.37" cy="142.54" r="0.4" fill="#555" fill-opacity="0.5"/>
<line x1="117.60" y1="131.9" x2="117.60" y2="155.5" stroke="#7c7c7c" stroke-width="1.0"/>
<rect x="114.00" y="139.7" width="7.19" height="9.00" fill="#abd993" stroke="#86bf6b" stroke-width="0.5"/>
<line x1="114.00" y1="144.9" x2="121.20" y2="144.9" stroke="#36632a" stroke-width="1.0"/>
<circle cx="117.00" cy="144.84" r="0.4" fill="#555" fill-opacity="0.5"/>
<circle cx="117.37" cy="151.58" r="0.4" fill="#555" fill-opacity="0.5"/>
<circle cx="117.23" cy="151.98" r="0.4" fill="#555" fill-opacity="0.5"/>
<circle cx="117.21" cy="140.78" r="0.4" fill="#555" fill-opacity="0.5"/>
<circle cx="117.10" cy="141.96" r="0.4" fill="#555" fill-opacity="0.5"/>
<circle cx="117.95" cy="131.96" r="0.4" fill="#555" fill-opacity="0.5"/>
<circle cx="117.19" cy="138.54" r="0.4" fill="#555" fill-opacity="0.5"/>
<circle cx="117.57" cy="139.02" r="0.4" fill="#555" fill-opacity="0.5"/>
<circle cx="117.82" cy="142.01" r="0.4" fill="#555" fill-opacity="0.5"/>
<circle cx="117.38" cy="147.46" r="0.4" fill="#555" fill-opacity="0.5"/>
<circle cx="118.17" cy="153.82" r="0.4" fill="#555" fill-opacity="0.5"/>
<circle cx="118.12" cy="133.25" r="0.4" fill="#555" fill-opacity="0.5"/>
<circle cx="118.05" cy="153.28" r="0.4" fill="#555" fill-opacity="0.5"/>
<circle cx="118.13" cy="135.21" r="0.4" fill="#555" fill-opacity="0.5"/>
<circle cx="116.82" cy="146.84" r="0.4" fill="#555" fill-opacity="0.5"/>
<circle cx="118.32" cy="132.17" r="0.4" fill="#555" fill-opacity="0.5"/>
<circle cx="117.20" cy="147.38" r="0.4" fill="#555" fill-opacity="0.5"/>
<circle cx="117.03" cy="134.30" r="0.4" fill="#555" fill-opacity="0.5"/>
<circle cx="118.04" cy="137.41" r="0.4" fill="#555" fill-opacity="0.5"/>
<circle cx="117.04" cy="140.08" r="0.4" fill="#555" fill-opacity="0.5"/>
<circle cx="118.07" cy="153.24" r="0.4" fill="#555" fill-opacity="0.5"/>
<circle cx="118.23" cy="135.86" r="0.4" fill="#555" fill-opacity="0.5"/>
<circle cx="118.05" cy="146.26" r="0.4" fill="#555" fill-opacity="0.5"/>
<circle cx="118.23" cy="147.68" r="0.4" fill="#555" fill-opacity="0.5"/>
<circle cx="118.14" cy="150.50" r="0.4" fill="#555" fill-opacity="0.5"/>
<circle cx="117.91" cy="136.56" r="0.4" fill="#555" fill-opacity="0.5"/>
<circle cx="117.99" cy="144.43" r="0.4" fill="#555" fill-opacity="0.5"/>
<line x1="128.50" y1="152.8" x2="128.50" y2="161.1" stroke="#7c7c7c" stroke-width="1.0"/>
<rect x="124.90" y="155" width="7.19" height="2.70" fill="#abd1f3" stroke="#86b6e2" stroke-width="0.5"/>
<line x1="124.90" y1="156.2" x2="132.10" y2="156.2" stroke="#2a5a8a" stroke-width="1.0"/>
<circle cx="129.11" cy="156.44" r="0.4" fill="#555" fill-opacity="0.5"/>
<circle cx="128.12" cy="157.41" r="0.4" fill="#555" fill-opacity="0.5"/>
<circle cx="127.92" cy="154.74" r="0.4" fill="#555" fill-opacity="0.5"/>
<circle cx="127.79" cy="156.89" r="0.4" fill="#555" fill-opacity="0.5"/>
<circle cx="127.93" cy="156.68" r="0.4" fill="#555" fill-opacity="0.5"/>
<circle cx="128.50" cy="156.88" r="0.4" fill="#555" fill-opacity="0.5"/>
<circle cx="129.08" cy="157.28" r="0.4" fill="#555" fill-opacity="0.5"/>
<circle cx="129.05" cy="152.85" r="0.4" fill="#555" fill-opacity="0.5"/>
<circle cx="128.60" cy="156.68" r="0.4" fill="#555" fill-opacity="0.5"/>
<circle cx="129.04" cy="158.32" r="0.4" fill="#555" fill-opacity="0.5"/>
<circle cx="128.37" cy="155.91" r="0.4" fill="#555" fill-opacity="0.5"/>
<circle cx="127.82" cy="160.77" r="0.4" fill="#555" fill-opacity="0.5"/>
<circle cx="128.72" cy="158.09" r="0.4" fill="#555" fill-opacity="0.5"/>
<line x1="100.3" y1="121.0" x2="100.3" y2="169.2" stroke="#222" stroke-width="1.2"/>
<line x1="99.7" y1="168.6" x2="134.9" y2="168.6" stroke="#222" stroke-width="1.2"/>
<line x1="106.70" y1="168.6" x2="106.70" y2="171.29999999999998" stroke="#333" stroke-width="1.1"/>
<line x1="117.60" y1="168.6" x2="117.60" y2="171.29999999999998" stroke="#333" stroke-width="1.1"/>
<line x1="128.50" y1="168.6" x2="128.50" y2="171.29999999999998" stroke="#333" stroke-width="1.1"/>
<text x="167.80" y="107.2" font-size="8.0" fill="#262626" textLength="21.60" lengthAdjust="spacingAndGlyphs">FASN</text>
<text x="163.50" y="116.7" font-size="6.0" fill="#505050" textLength="30.20" lengthAdjust="spacingAndGlyphs"><tspan font-style="italic">P</tspan>-val: .0099</text>
<line x1="158.70" y1="125.6" x2="161.7" y2="125.6" stroke="#333" stroke-width="1.0"/>
<text x="156.10" y="127.80" font-size="6.2" fill="#2e2e2e" stroke="#2e2e2e" stroke-width="0.12" text-anchor="end" textLength="8.01" lengthAdjust="spacingAndGlyphs">1.0</text>
<line x1="158.70" y1="136.8" x2="161.7" y2="136.8" stroke="#333" stroke-width="1.0"/>
<text x="156.10" y="139.00" font-size="6.2" fill="#2e2e2e" stroke="#2e2e2e" stroke-width="0.12" text-anchor="end" textLength="8.01" lengthAdjust="spacingAndGlyphs">0.5</text>
<line x1="158.70" y1="148.2" x2="161.7" y2="148.2" stroke="#333" stroke-width="1.0"/>
<text x="156.10" y="150.40" font-size="6.2" fill="#2e2e2e" stroke="#2e2e2e" stroke-width="0.12" text-anchor="end" textLength="8.01" lengthAdjust="spacingAndGlyphs">0.0</text>
<line x1="158.70" y1="159.5" x2="161.7" y2="159.5" stroke="#333" stroke-width="1.0"/>
<text x="156.10" y="161.70" font-size="6.2" fill="#2e2e2e" stroke="#2e2e2e" stroke-width="0.12" text-anchor="end" textLength="11.38" lengthAdjust="spacingAndGlyphs">−0.5</text>
<line x1="168.00" y1="126.2" x2="168.00" y2="145.4" stroke="#7c7c7c" stroke-width="1.0"/>
<rect x="164.57" y="131.9" width="6.86" height="8.30" fill="#ef8f83" stroke="#d8776b" stroke-width="0.5"/>
<line x1="164.57" y1="135.2" x2="171.43" y2="135.2" stroke="#962c24" stroke-width="1.0"/>
<circle cx="168.18" cy="126.75" r="0.4" fill="#555" fill-opacity="0.5"/>
<circle cx="168.69" cy="139.31" r="0.4" fill="#555" fill-opacity="0.5"/>
<circle cx="168.77" cy="132.54" r="0.4" fill="#555" fill-opacity="0.5"/>
<circle cx="167.98" cy="136.00" r="0.4" fill="#555" fill-opacity="0.5"/>
<circle cx="167.25" cy="143.43" r="0.4" fill="#555" fill-opacity="0.5"/>
<circle cx="168.20" cy="139.99" r="0.4" fill="#555" fill-opacity="0.5"/>
<circle cx="168.58" cy="132.70" r="0.4" fill="#555" fill-opacity="0.5"/>
<circle cx="167.96" cy="133.23" r="0.4" fill="#555" fill-opacity="0.5"/>
<circle cx="168.43" cy="136.29" r="0.4" fill="#555" fill-opacity="0.5"/>
<circle cx="167.90" cy="130.25" r="0.4" fill="#555" fill-opacity="0.5"/>
<circle cx="168.09" cy="134.31" r="0.4" fill="#555" fill-opacity="0.5"/>
<circle cx="167.67" cy="142.07" r="0.4" fill="#555" fill-opacity="0.5"/>
<circle cx="167.85" cy="142.09" r="0.4" fill="#555" fill-opacity="0.5"/>
<circle cx="167.63" cy="135.87" r="0.4" fill="#555" fill-opacity="0.5"/>
<circle cx="168.76" cy="135.92" r="0.4" fill="#555" fill-opacity="0.5"/>
<circle cx="168.47" cy="138.77" r="0.4" fill="#555" fill-opacity="0.5"/>
<circle cx="167.71" cy="132.55" r="0.4" fill="#555" fill-opacity="0.5"/>
<circle cx="168.14" cy="131.95" r="0.4" fill="#555" fill-opacity="0.5"/>
<circle cx="168.45" cy="138.39" r="0.4" fill="#555" fill-opacity="0.5"/>
<circle cx="168.36" cy="126.97" r="0.4" fill="#555" fill-opacity="0.5"/>
<circle cx="168.07" cy="143.20" r="0.4" fill="#555" fill-opacity="0.5"/>
<circle cx="167.68" cy="127.15" r="0.4" fill="#555" fill-opacity="0.5"/>
<circle cx="167.50" cy="126.32" r="0.4" fill="#555" fill-opacity="0.5"/>
<line x1="178.40" y1="137" x2="178.40" y2="161.1" stroke="#7c7c7c" stroke-width="1.0"/>
<rect x="174.97" y="143.1" width="6.86" height="5.60" fill="#abd993" stroke="#86bf6b" stroke-width="0.5"/>
<line x1="174.97" y1="144.9" x2="181.83" y2="144.9" stroke="#36632a" stroke-width="1.0"/>
<circle cx="178.57" cy="159.21" r="0.4" fill="#555" fill-opacity="0.5"/>
<circle cx="178.86" cy="152.86" r="0.4" fill="#555" fill-opacity="0.5"/>
<circle cx="178.58" cy="158.93" r="0.4" fill="#555" fill-opacity="0.5"/>
<circle cx="178.60" cy="151.86" r="0.4" fill="#555" fill-opacity="0.5"/>
<circle cx="178.55" cy="153.78" r="0.4" fill="#555" fill-opacity="0.5"/>
<circle cx="177.94" cy="153.41" r="0.4" fill="#555" fill-opacity="0.5"/>
<circle cx="178.33" cy="153.07" r="0.4" fill="#555" fill-opacity="0.5"/>
<circle cx="177.76" cy="155.38" r="0.4" fill="#555" fill-opacity="0.5"/>
<circle cx="177.66" cy="141.37" r="0.4" fill="#555" fill-opacity="0.5"/>
<circle cx="179.06" cy="155.67" r="0.4" fill="#555" fill-opacity="0.5"/>
<circle cx="178.19" cy="152.80" r="0.4" fill="#555" fill-opacity="0.5"/>
<circle cx="178.86" cy="156.82" r="0.4" fill="#555" fill-opacity="0.5"/>
<circle cx="178.01" cy="150.55" r="0.4" fill="#555" fill-opacity="0.5"/>
<circle cx="178.27" cy="144.28" r="0.4" fill="#555" fill-opacity="0.5"/>
<circle cx="178.29" cy="144.68" r="0.4" fill="#555" fill-opacity="0.5"/>
<circle cx="179.09" cy="152.47" r="0.4" fill="#555" fill-opacity="0.5"/>
<circle cx="178.51" cy="138.32" r="0.4" fill="#555" fill-opacity="0.5"/>
<circle cx="177.79" cy="137.95" r="0.4" fill="#555" fill-opacity="0.5"/>
<circle cx="178.52" cy="156.53" r="0.4" fill="#555" fill-opacity="0.5"/>
<circle cx="178.31" cy="159.14" r="0.4" fill="#555" fill-opacity="0.5"/>
<circle cx="178.22" cy="137.34" r="0.4" fill="#555" fill-opacity="0.5"/>
<circle cx="179.10" cy="151.27" r="0.4" fill="#555" fill-opacity="0.5"/>
<circle cx="178.36" cy="160.64" r="0.4" fill="#555" fill-opacity="0.5"/>
<circle cx="177.76" cy="146.94" r="0.4" fill="#555" fill-opacity="0.5"/>
<circle cx="177.94" cy="152.53" r="0.4" fill="#555" fill-opacity="0.5"/>
<circle cx="177.62" cy="140.66" r="0.4" fill="#555" fill-opacity="0.5"/>
<circle cx="178.69" cy="137.12" r="0.4" fill="#555" fill-opacity="0.5"/>
<line x1="188.80" y1="134.1" x2="188.80" y2="158.9" stroke="#7c7c7c" stroke-width="1.0"/>
<rect x="185.37" y="139.7" width="6.86" height="10.20" fill="#abd1f3" stroke="#86b6e2" stroke-width="0.5"/>
<line x1="185.37" y1="148.7" x2="192.23" y2="148.7" stroke="#2a5a8a" stroke-width="1.0"/>
<circle cx="189.55" cy="137.12" r="0.4" fill="#555" fill-opacity="0.5"/>
<circle cx="189.39" cy="136.29" r="0.4" fill="#555" fill-opacity="0.5"/>
<circle cx="188.03" cy="137.30" r="0.4" fill="#555" fill-opacity="0.5"/>
<circle cx="188.39" cy="151.94" r="0.4" fill="#555" fill-opacity="0.5"/>
<circle cx="188.30" cy="152.29" r="0.4" fill="#555" fill-opacity="0.5"/>
<circle cx="189.24" cy="135.34" r="0.4" fill="#555" fill-opacity="0.5"/>
<circle cx="189.37" cy="151.80" r="0.4" fill="#555" fill-opacity="0.5"/>
<circle cx="188.13" cy="152.20" r="0.4" fill="#555" fill-opacity="0.5"/>
<circle cx="189.13" cy="149.69" r="0.4" fill="#555" fill-opacity="0.5"/>
<circle cx="189.49" cy="145.52" r="0.4" fill="#555" fill-opacity="0.5"/>
<circle cx="189.54" cy="140.40" r="0.4" fill="#555" fill-opacity="0.5"/>
<circle cx="188.02" cy="151.89" r="0.4" fill="#555" fill-opacity="0.5"/>
<circle cx="189.04" cy="134.47" r="0.4" fill="#555" fill-opacity="0.5"/>
<circle cx="188.13" cy="154.37" r="0.4" fill="#555" fill-opacity="0.5"/>
<circle cx="189.17" cy="141.81" r="0.4" fill="#555" fill-opacity="0.5"/>
<circle cx="189.38" cy="138.22" r="0.4" fill="#555" fill-opacity="0.5"/>
<circle cx="188.10" cy="146.16" r="0.4" fill="#555" fill-opacity="0.5"/>
<circle cx="188.92" cy="143.22" r="0.4" fill="#555" fill-opacity="0.5"/>
<circle cx="189.08" cy="144.98" r="0.4" fill="#555" fill-opacity="0.5"/>
<circle cx="189.28" cy="137.69" r="0.4" fill="#555" fill-opacity="0.5"/>
<circle cx="189.03" cy="143.11" r="0.4" fill="#555" fill-opacity="0.5"/>
<circle cx="188.67" cy="149.72" r="0.4" fill="#555" fill-opacity="0.5"/>
<circle cx="189.26" cy="143.67" r="0.4" fill="#555" fill-opacity="0.5"/>
<circle cx="189.26" cy="157.53" r="0.4" fill="#555" fill-opacity="0.5"/>
<circle cx="188.47" cy="148.16" r="0.4" fill="#555" fill-opacity="0.5"/>
<circle cx="189.56" cy="135.60" r="0.4" fill="#555" fill-opacity="0.5"/>
<circle cx="189.32" cy="151.54" r="0.4" fill="#555" fill-opacity="0.5"/>
<circle cx="188.97" cy="142.33" r="0.4" fill="#555" fill-opacity="0.5"/>
<line x1="161.7" y1="121.0" x2="161.7" y2="169.2" stroke="#222" stroke-width="1.2"/>
<line x1="161.1" y1="168.6" x2="194.9" y2="168.6" stroke="#222" stroke-width="1.2"/>
<line x1="168.00" y1="168.6" x2="168.00" y2="171.29999999999998" stroke="#333" stroke-width="1.1"/>
<line x1="178.40" y1="168.6" x2="178.40" y2="171.29999999999998" stroke="#333" stroke-width="1.1"/>
<line x1="188.80" y1="168.6" x2="188.80" y2="171.29999999999998" stroke="#333" stroke-width="1.1"/>
<text x="225.70" y="107.2" font-size="8.0" fill="#262626" textLength="26.80" lengthAdjust="spacingAndGlyphs">DUSP4</text>
<text x="224.30" y="116.7" font-size="6.0" fill="#505050" textLength="30.10" lengthAdjust="spacingAndGlyphs"><tspan font-style="italic">P</tspan>-val: .0016</text>
<line x1="218.50" y1="134.1" x2="221.5" y2="134.1" stroke="#333" stroke-width="1.0"/>
<text x="215.90" y="136.30" font-size="6.2" fill="#2e2e2e" stroke="#2e2e2e" stroke-width="0.12" text-anchor="end" textLength="8.01" lengthAdjust="spacingAndGlyphs">0.6</text>
<line x1="218.50" y1="144.9" x2="221.5" y2="144.9" stroke="#333" stroke-width="1.0"/>
<text x="215.90" y="147.10" font-size="6.2" fill="#2e2e2e" stroke="#2e2e2e" stroke-width="0.12" text-anchor="end" textLength="8.01" lengthAdjust="spacingAndGlyphs">0.3</text>
<line x1="218.50" y1="155.5" x2="221.5" y2="155.5" stroke="#333" stroke-width="1.0"/>
<text x="215.90" y="157.70" font-size="6.2" fill="#2e2e2e" stroke="#2e2e2e" stroke-width="0.12" text-anchor="end" textLength="8.01" lengthAdjust="spacingAndGlyphs">0.0</text>
<line x1="218.50" y1="165.8" x2="221.5" y2="165.8" stroke="#333" stroke-width="1.0"/>
<text x="215.90" y="168.00" font-size="6.2" fill="#2e2e2e" stroke="#2e2e2e" stroke-width="0.12" text-anchor="end" textLength="11.38" lengthAdjust="spacingAndGlyphs">−0.3</text>
<line x1="228.30" y1="126.2" x2="228.30" y2="154.4" stroke="#7c7c7c" stroke-width="1.0"/>
<rect x="224.65" y="138.2" width="7.29" height="12.30" fill="#ef8f83" stroke="#d8776b" stroke-width="0.5"/>
<line x1="224.65" y1="146.5" x2="231.95" y2="146.5" stroke="#962c24" stroke-width="1.0"/>
<circle cx="228.83" cy="153.76" r="0.4" fill="#555" fill-opacity="0.5"/>
<circle cx="227.99" cy="143.15" r="0.4" fill="#555" fill-opacity="0.5"/>
<circle cx="228.92" cy="138.29" r="0.4" fill="#555" fill-opacity="0.5"/>
<circle cx="228.60" cy="136.82" r="0.4" fill="#555" fill-opacity="0.5"/>
<circle cx="228.93" cy="143.17" r="0.4" fill="#555" fill-opacity="0.5"/>
<circle cx="227.95" cy="148.97" r="0.4" fill="#555" fill-opacity="0.5"/>
<circle cx="227.92" cy="126.25" r="0.4" fill="#555" fill-opacity="0.5"/>
<circle cx="228.44" cy="138.11" r="0.4" fill="#555" fill-opacity="0.5"/>
<circle cx="228.92" cy="149.21" r="0.4" fill="#555" fill-opacity="0.5"/>
<circle cx="228.83" cy="127.39" r="0.4" fill="#555" fill-opacity="0.5"/>
<circle cx="228.89" cy="149.09" r="0.4" fill="#555" fill-opacity="0.5"/>
<circle cx="227.94" cy="142.33" r="0.4" fill="#555" fill-opacity="0.5"/>
<circle cx="228.79" cy="150.20" r="0.4" fill="#555" fill-opacity="0.5"/>
<circle cx="228.96" cy="145.51" r="0.4" fill="#555" fill-opacity="0.5"/>
<circle cx="227.64" cy="135.98" r="0.4" fill="#555" fill-opacity="0.5"/>
<circle cx="228.78" cy="141.81" r="0.4" fill="#555" fill-opacity="0.5"/>
<circle cx="228.70" cy="131.85" r="0.4" fill="#555" fill-opacity="0.5"/>
<circle cx="227.87" cy="152.47" r="0.4" fill="#555" fill-opacity="0.5"/>
<circle cx="228.58" cy="143.31" r="0.4" fill="#555" fill-opacity="0.5"/>
<circle cx="227.83" cy="139.32" r="0.4" fill="#555" fill-opacity="0.5"/>
<circle cx="228.70" cy="133.38" r="0.4" fill="#555" fill-opacity="0.5"/>
<circle cx="228.24" cy="148.52" r="0.4" fill="#555" fill-opacity="0.5"/>
<circle cx="228.79" cy="128.67" r="0.4" fill="#555" fill-opacity="0.5"/>
<circle cx="227.87" cy="147.98" r="0.4" fill="#555" fill-opacity="0.5"/>
<circle cx="228.94" cy="142.54" r="0.4" fill="#555" fill-opacity="0.5"/>
<circle cx="228.33" cy="151.16" r="0.4" fill="#555" fill-opacity="0.5"/>
<circle cx="228.44" cy="139.64" r="0.4" fill="#555" fill-opacity="0.5"/>
<circle cx="227.81" cy="131.53" r="0.4" fill="#555" fill-opacity="0.5"/>
<circle cx="228.62" cy="131.30" r="0.4" fill="#555" fill-opacity="0.5"/>
<circle cx="228.40" cy="136.43" r="0.4" fill="#555" fill-opacity="0.5"/>
<circle cx="228.33" cy="137.55" r="0.4" fill="#555" fill-opacity="0.5"/>
<line x1="239.20" y1="152.1" x2="239.20" y2="161.1" stroke="#7c7c7c" stroke-width="1.0"/>
<rect x="235.55" y="154.4" width="7.29" height="2.20" fill="#abd993" stroke="#86bf6b" stroke-width="0.5"/>
<line x1="235.55" y1="155.5" x2="242.85" y2="155.5" stroke="#36632a" stroke-width="1.0"/>
<circle cx="238.47" cy="153.44" r="0.4" fill="#555" fill-opacity="0.5"/>
<circle cx="239.00" cy="161.07" r="0.4" fill="#555" fill-opacity="0.5"/>
<circle cx="239.41" cy="153.06" r="0.4" fill="#555" fill-opacity="0.5"/>
<circle cx="238.65" cy="159.19" r="0.4" fill="#555" fill-opacity="0.5"/>
<circle cx="238.95" cy="157.47" r="0.4" fill="#555" fill-opacity="0.5"/>
<circle cx="238.43" cy="156.78" r="0.4" fill="#555" fill-opacity="0.5"/>
<circle cx="239.98" cy="152.40" r="0.4" fill="#555" fill-opacity="0.5"/>
<circle cx="239.18" cy="159.89" r="0.4" fill="#555" fill-opacity="0.5"/>
<circle cx="238.82" cy="157.20" r="0.4" fill="#555" fill-opacity="0.5"/>
<circle cx="239.08" cy="159.11" r="0.4" fill="#555" fill-opacity="0.5"/>
<circle cx="239.63" cy="160.62" r="0.4" fill="#555" fill-opacity="0.5"/>
<circle cx="239.94" cy="159.47" r="0.4" fill="#555" fill-opacity="0.5"/>
<circle cx="238.46" cy="154.39" r="0.4" fill="#555" fill-opacity="0.5"/>
<circle cx="238.69" cy="153.91" r="0.4" fill="#555" fill-opacity="0.5"/>
<line x1="250.40" y1="155" x2="250.40" y2="159.3" stroke="#7c7c7c" stroke-width="1.0"/>
<rect x="246.75" y="155.5" width="7.29" height="2.20" fill="#abd1f3" stroke="#86b6e2" stroke-width="0.5"/>
<line x1="246.75" y1="156.6" x2="254.05" y2="156.6" stroke="#2a5a8a" stroke-width="1.0"/>
<circle cx="249.68" cy="155.36" r="0.4" fill="#555" fill-opacity="0.5"/>
<circle cx="250.99" cy="157.40" r="0.4" fill="#555" fill-opacity="0.5"/>
<circle cx="251.12" cy="156.97" r="0.4" fill="#555" fill-opacity="0.5"/>
<circle cx="249.70" cy="158.91" r="0.4" fill="#555" fill-opacity="0.5"/>
<circle cx="250.24" cy="157.57" r="0.4" fill="#555" fill-opacity="0.5"/>
<circle cx="251.13" cy="155.52" r="0.4" fill="#555" fill-opacity="0.5"/>
<circle cx="250.50" cy="156.11" r="0.4" fill="#555" fill-opacity="0.5"/>
<circle cx="251.13" cy="157.75" r="0.4" fill="#555" fill-opacity="0.5"/>
<circle cx="250.23" cy="157.88" r="0.4" fill="#555" fill-opacity="0.5"/>
<line x1="221.5" y1="121.0" x2="221.5" y2="169.2" stroke="#222" stroke-width="1.2"/>
<line x1="220.9" y1="168.6" x2="256.8" y2="168.6" stroke="#222" stroke-width="1.2"/>
<line x1="228.30" y1="168.6" x2="228.30" y2="171.29999999999998" stroke="#333" stroke-width="1.1"/>
<line x1="239.20" y1="168.6" x2="239.20" y2="171.29999999999998" stroke="#333" stroke-width="1.1"/>
<line x1="250.40" y1="168.6" x2="250.40" y2="171.29999999999998" stroke="#333" stroke-width="1.1"/>
<text x="287.00" y="107.2" font-size="8.0" fill="#262626" textLength="26.90" lengthAdjust="spacingAndGlyphs">COX IV</text>
<text x="285.10" y="116.7" font-size="6.0" fill="#505050" textLength="30.30" lengthAdjust="spacingAndGlyphs"><tspan font-style="italic">P</tspan>-val: .0009</text>
<line x1="280.50" y1="131.6" x2="283.5" y2="131.6" stroke="#333" stroke-width="1.0"/>
<text x="277.90" y="133.80" font-size="6.2" fill="#2e2e2e" stroke="#2e2e2e" stroke-width="0.12" text-anchor="end" textLength="8.01" lengthAdjust="spacingAndGlyphs">0.5</text>
<line x1="280.50" y1="143.0" x2="283.5" y2="143.0" stroke="#333" stroke-width="1.0"/>
<text x="277.90" y="145.20" font-size="6.2" fill="#2e2e2e" stroke="#2e2e2e" stroke-width="0.12" text-anchor="end" textLength="8.01" lengthAdjust="spacingAndGlyphs">0.0</text>
<line x1="280.50" y1="154.4" x2="283.5" y2="154.4" stroke="#333" stroke-width="1.0"/>
<text x="277.90" y="156.60" font-size="6.2" fill="#2e2e2e" stroke="#2e2e2e" stroke-width="0.12" text-anchor="end" textLength="11.38" lengthAdjust="spacingAndGlyphs">−0.5</text>
<line x1="280.50" y1="165.6" x2="283.5" y2="165.6" stroke="#333" stroke-width="1.0"/>
<text x="277.90" y="167.80" font-size="6.2" fill="#2e2e2e" stroke="#2e2e2e" stroke-width="0.12" text-anchor="end" textLength="11.38" lengthAdjust="spacingAndGlyphs">−1.0</text>
<line x1="289.50" y1="126.2" x2="289.50" y2="146.5" stroke="#7c7c7c" stroke-width="1.0"/>
<rect x="286.00" y="135.9" width="7.00" height="4.50" fill="#ef8f83" stroke="#d8776b" stroke-width="0.5"/>
<line x1="286.00" y1="137.9" x2="293.00" y2="137.9" stroke="#962c24" stroke-width="1.0"/>
<circle cx="288.96" cy="135.30" r="0.4" fill="#555" fill-opacity="0.5"/>
<circle cx="290.29" cy="145.81" r="0.4" fill="#555" fill-opacity="0.5"/>
<circle cx="288.76" cy="130.70" r="0.4" fill="#555" fill-opacity="0.5"/>
<circle cx="289.26" cy="131.39" r="0.4" fill="#555" fill-opacity="0.5"/>
<circle cx="290.15" cy="144.53" r="0.4" fill="#555" fill-opacity="0.5"/>
<circle cx="288.78" cy="143.20" r="0.4" fill="#555" fill-opacity="0.5"/>
<circle cx="289.84" cy="142.16" r="0.4" fill="#555" fill-opacity="0.5"/>
<circle cx="290.28" cy="139.33" r="0.4" fill="#555" fill-opacity="0.5"/>
<circle cx="288.93" cy="127.33" r="0.4" fill="#555" fill-opacity="0.5"/>
<circle cx="290.20" cy="141.53" r="0.4" fill="#555" fill-opacity="0.5"/>
<circle cx="289.18" cy="139.94" r="0.4" fill="#555" fill-opacity="0.5"/>
<circle cx="289.91" cy="138.21" r="0.4" fill="#555" fill-opacity="0.5"/>
<circle cx="289.22" cy="128.34" r="0.4" fill="#555" fill-opacity="0.5"/>
<circle cx="288.90" cy="131.42" r="0.4" fill="#555" fill-opacity="0.5"/>
<circle cx="288.97" cy="135.97" r="0.4" fill="#555" fill-opacity="0.5"/>
<circle cx="288.93" cy="131.04" r="0.4" fill="#555" fill-opacity="0.5"/>
<circle cx="288.72" cy="139.96" r="0.4" fill="#555" fill-opacity="0.5"/>
<circle cx="289.01" cy="140.76" r="0.4" fill="#555" fill-opacity="0.5"/>
<circle cx="290.18" cy="126.93" r="0.4" fill="#555" fill-opacity="0.5"/>
<circle cx="290.19" cy="130.68" r="0.4" fill="#555" fill-opacity="0.5"/>
<circle cx="290.12" cy="143.80" r="0.4" fill="#555" fill-opacity="0.5"/>
<circle cx="289.42" cy="129.04" r="0.4" fill="#555" fill-opacity="0.5"/>
<circle cx="290.19" cy="128.17" r="0.4" fill="#555" fill-opacity="0.5"/>
<circle cx="289.71" cy="143.30" r="0.4" fill="#555" fill-opacity="0.5"/>
<line x1="300.30" y1="128.5" x2="300.30" y2="148.7" stroke="#7c7c7c" stroke-width="1.0"/>
<rect x="296.80" y="135.9" width="7.00" height="9.00" fill="#abd993" stroke="#86bf6b" stroke-width="0.5"/>
<line x1="296.80" y1="143.1" x2="303.80" y2="143.1" stroke="#36632a" stroke-width="1.0"/>
<circle cx="300.04" cy="137.64" r="0.4" fill="#555" fill-opacity="0.5"/>
<circle cx="300.26" cy="145.13" r="0.4" fill="#555" fill-opacity="0.5"/>
<circle cx="299.73" cy="141.19" r="0.4" fill="#555" fill-opacity="0.5"/>
<circle cx="299.59" cy="132.98" r="0.4" fill="#555" fill-opacity="0.5"/>
<circle cx="300.39" cy="142.92" r="0.4" fill="#555" fill-opacity="0.5"/>
<circle cx="300.89" cy="131.42" r="0.4" fill="#555" fill-opacity="0.5"/>
<circle cx="300.16" cy="133.88" r="0.4" fill="#555" fill-opacity="0.5"/>
<circle cx="299.93" cy="131.64" r="0.4" fill="#555" fill-opacity="0.5"/>
<circle cx="300.04" cy="145.46" r="0.4" fill="#555" fill-opacity="0.5"/>
<circle cx="300.29" cy="131.89" r="0.4" fill="#555" fill-opacity="0.5"/>
<circle cx="300.95" cy="134.92" r="0.4" fill="#555" fill-opacity="0.5"/>
<circle cx="301.07" cy="130.81" r="0.4" fill="#555" fill-opacity="0.5"/>
<circle cx="300.93" cy="129.65" r="0.4" fill="#555" fill-opacity="0.5"/>
<circle cx="299.84" cy="142.00" r="0.4" fill="#555" fill-opacity="0.5"/>
<circle cx="299.96" cy="138.14" r="0.4" fill="#555" fill-opacity="0.5"/>
<circle cx="299.82" cy="133.71" r="0.4" fill="#555" fill-opacity="0.5"/>
<circle cx="301.09" cy="135.86" r="0.4" fill="#555" fill-opacity="0.5"/>
<circle cx="300.98" cy="148.66" r="0.4" fill="#555" fill-opacity="0.5"/>
<circle cx="299.96" cy="130.47" r="0.4" fill="#555" fill-opacity="0.5"/>
<circle cx="299.59" cy="146.60" r="0.4" fill="#555" fill-opacity="0.5"/>
<circle cx="299.97" cy="143.17" r="0.4" fill="#555" fill-opacity="0.5"/>
<circle cx="299.53" cy="148.27" r="0.4" fill="#555" fill-opacity="0.5"/>
<circle cx="300.05" cy="144.80" r="0.4" fill="#555" fill-opacity="0.5"/>
<circle cx="299.50" cy="131.33" r="0.4" fill="#555" fill-opacity="0.5"/>
<line x1="310.70" y1="145.4" x2="310.70" y2="153.2" stroke="#7c7c7c" stroke-width="1.0"/>
<rect x="307.20" y="147.6" width="7.00" height="2.90" fill="#abd1f3" stroke="#86b6e2" stroke-width="0.5"/>
<line x1="307.20" y1="148.7" x2="314.20" y2="148.7" stroke="#2a5a8a" stroke-width="1.0"/>
<circle cx="310.70" cy="140.9" r="0.45" fill="#777"/>
<circle cx="310.74" cy="151.89" r="0.4" fill="#555" fill-opacity="0.5"/>
<circle cx="310.60" cy="146.85" r="0.4" fill="#555" fill-opacity="0.5"/>
<circle cx="310.25" cy="152.51" r="0.4" fill="#555" fill-opacity="0.5"/>
<circle cx="310.12" cy="149.86" r="0.4" fill="#555" fill-opacity="0.5"/>
<circle cx="311.13" cy="146.81" r="0.4" fill="#555" fill-opacity="0.5"/>
<circle cx="310.21" cy="150.95" r="0.4" fill="#555" fill-opacity="0.5"/>
<circle cx="310.04" cy="146.02" r="0.4" fill="#555" fill-opacity="0.5"/>
<circle cx="310.69" cy="150.15" r="0.4" fill="#555" fill-opacity="0.5"/>
<circle cx="310.23" cy="147.54" r="0.4" fill="#555" fill-opacity="0.5"/>
<circle cx="311.03" cy="150.18" r="0.4" fill="#555" fill-opacity="0.5"/>
<circle cx="310.83" cy="151.73" r="0.4" fill="#555" fill-opacity="0.5"/>
<circle cx="310.01" cy="146.98" r="0.4" fill="#555" fill-opacity="0.5"/>
<circle cx="310.55" cy="151.12" r="0.4" fill="#555" fill-opacity="0.5"/>
<line x1="283.5" y1="121.0" x2="283.5" y2="169.2" stroke="#222" stroke-width="1.2"/>
<line x1="282.9" y1="168.6" x2="316.9" y2="168.6" stroke="#222" stroke-width="1.2"/>
<line x1="289.50" y1="168.6" x2="289.50" y2="171.29999999999998" stroke="#333" stroke-width="1.1"/>
<line x1="300.30" y1="168.6" x2="300.30" y2="171.29999999999998" stroke="#333" stroke-width="1.1"/>
<line x1="310.70" y1="168.6" x2="310.70" y2="171.29999999999998" stroke="#333" stroke-width="1.1"/>
<text x="368.20" y="107.2" font-size="8.0" fill="#262626" textLength="18.70" lengthAdjust="spacingAndGlyphs">Mcl-1</text>
<text x="363.40" y="116.7" font-size="6.0" fill="#505050" textLength="29.90" lengthAdjust="spacingAndGlyphs"><tspan font-style="italic">P</tspan>-val: .0004</text>
<line x1="358.00" y1="129.2" x2="361.0" y2="129.2" stroke="#333" stroke-width="1.0"/>
<text x="355.40" y="131.40" font-size="6.2" fill="#2e2e2e" stroke="#2e2e2e" stroke-width="0.12" text-anchor="end" textLength="8.01" lengthAdjust="spacingAndGlyphs">0.5</text>
<line x1="358.00" y1="141.5" x2="361.0" y2="141.5" stroke="#333" stroke-width="1.0"/>
<text x="355.40" y="143.70" font-size="6.2" fill="#2e2e2e" stroke="#2e2e2e" stroke-width="0.12" text-anchor="end" textLength="8.01" lengthAdjust="spacingAndGlyphs">0.0</text>
<line x1="358.00" y1="154.2" x2="361.0" y2="154.2" stroke="#333" stroke-width="1.0"/>
<text x="355.40" y="156.40" font-size="6.2" fill="#2e2e2e" stroke="#2e2e2e" stroke-width="0.12" text-anchor="end" textLength="11.38" lengthAdjust="spacingAndGlyphs">−0.5</text>
<line x1="358.00" y1="166.7" x2="361.0" y2="166.7" stroke="#333" stroke-width="1.0"/>
<text x="355.40" y="168.90" font-size="6.2" fill="#2e2e2e" stroke="#2e2e2e" stroke-width="0.12" text-anchor="end" textLength="11.38" lengthAdjust="spacingAndGlyphs">−1.0</text>
<line x1="367.50" y1="124" x2="367.50" y2="137.5" stroke="#7c7c7c" stroke-width="1.0"/>
<rect x="363.97" y="130.7" width="7.06" height="5.00" fill="#ef8f83" stroke="#d8776b" stroke-width="0.5"/>
<line x1="363.97" y1="133" x2="371.03" y2="133" stroke="#962c24" stroke-width="1.0"/>
<circle cx="367.50" cy="147.2" r="0.45" fill="#777"/>
<circle cx="366.79" cy="133.74" r="0.4" fill="#555" fill-opacity="0.5"/>
<circle cx="367.24" cy="134.94" r="0.4" fill="#555" fill-opacity="0.5"/>
<circle cx="368.08" cy="135.37" r="0.4" fill="#555" fill-opacity="0.5"/>
<circle cx="366.72" cy="130.66" r="0.4" fill="#555" fill-opacity="0.5"/>
<circle cx="367.46" cy="136.29" r="0.4" fill="#555" fill-opacity="0.5"/>
<circle cx="367.13" cy="135.77" r="0.4" fill="#555" fill-opacity="0.5"/>
<circle cx="368.03" cy="126.51" r="0.4" fill="#555" fill-opacity="0.5"/>
<circle cx="366.96" cy="128.96" r="0.4" fill="#555" fill-opacity="0.5"/>
<circle cx="367.65" cy="129.01" r="0.4" fill="#555" fill-opacity="0.5"/>
<circle cx="367.53" cy="124.06" r="0.4" fill="#555" fill-opacity="0.5"/>
<circle cx="367.53" cy="130.02" r="0.4" fill="#555" fill-opacity="0.5"/>
<circle cx="367.84" cy="125.63" r="0.4" fill="#555" fill-opacity="0.5"/>
<circle cx="368.08" cy="135.02" r="0.4" fill="#555" fill-opacity="0.5"/>
<circle cx="367.84" cy="128.33" r="0.4" fill="#555" fill-opacity="0.5"/>
<circle cx="367.90" cy="129.15" r="0.4" fill="#555" fill-opacity="0.5"/>
<circle cx="368.10" cy="124.83" r="0.4" fill="#555" fill-opacity="0.5"/>
<circle cx="367.49" cy="136.88" r="0.4" fill="#555" fill-opacity="0.5"/>
<circle cx="367.55" cy="130.93" r="0.4" fill="#555" fill-opacity="0.5"/>
<line x1="378.30" y1="132.5" x2="378.30" y2="155.5" stroke="#7c7c7c" stroke-width="1.0"/>
<rect x="374.77" y="137.5" width="7.06" height="11.20" fill="#abd993" stroke="#86bf6b" stroke-width="0.5"/>
<line x1="374.77" y1="143.8" x2="381.83" y2="143.8" stroke="#36632a" stroke-width="1.0"/>
<circle cx="377.53" cy="144.86" r="0.4" fill="#555" fill-opacity="0.5"/>
<circle cx="377.86" cy="154.75" r="0.4" fill="#555" fill-opacity="0.5"/>
<circle cx="377.66" cy="136.70" r="0.4" fill="#555" fill-opacity="0.5"/>
<circle cx="378.81" cy="138.26" r="0.4" fill="#555" fill-opacity="0.5"/>
<circle cx="377.65" cy="133.19" r="0.4" fill="#555" fill-opacity="0.5"/>
<circle cx="377.81" cy="148.58" r="0.4" fill="#555" fill-opacity="0.5"/>
<circle cx="378.46" cy="132.91" r="0.4" fill="#555" fill-opacity="0.5"/>
<circle cx="378.34" cy="145.76" r="0.4" fill="#555" fill-opacity="0.5"/>
<circle cx="377.66" cy="148.66" r="0.4" fill="#555" fill-opacity="0.5"/>
<circle cx="378.65" cy="152.50" r="0.4" fill="#555" fill-opacity="0.5"/>
<circle cx="377.70" cy="133.54" r="0.4" fill="#555" fill-opacity="0.5"/>
<circle cx="378.30" cy="143.85" r="0.4" fill="#555" fill-opacity="0.5"/>
<circle cx="377.70" cy="138.93" r="0.4" fill="#555" fill-opacity="0.5"/>
<circle cx="377.72" cy="141.83" r="0.4" fill="#555" fill-opacity="0.5"/>
<circle cx="378.88" cy="146.11" r="0.4" fill="#555" fill-opacity="0.5"/>
<circle cx="378.42" cy="135.89" r="0.4" fill="#555" fill-opacity="0.5"/>
<circle cx="377.76" cy="149.67" r="0.4" fill="#555" fill-opacity="0.5"/>
<circle cx="379.00" cy="151.50" r="0.4" fill="#555" fill-opacity="0.5"/>
<circle cx="378.17" cy="141.44" r="0.4" fill="#555" fill-opacity="0.5"/>
<circle cx="378.34" cy="151.81" r="0.4" fill="#555" fill-opacity="0.5"/>
<circle cx="379.01" cy="141.60" r="0.4" fill="#555" fill-opacity="0.5"/>
<circle cx="378.04" cy="150.37" r="0.4" fill="#555" fill-opacity="0.5"/>
<circle cx="378.04" cy="138.03" r="0.4" fill="#555" fill-opacity="0.5"/>
<circle cx="379.07" cy="142.52" r="0.4" fill="#555" fill-opacity="0.5"/>
<circle cx="378.96" cy="151.00" r="0.4" fill="#555" fill-opacity="0.5"/>
<circle cx="378.86" cy="151.25" r="0.4" fill="#555" fill-opacity="0.5"/>
<line x1="388.90" y1="143.1" x2="388.90" y2="155" stroke="#7c7c7c" stroke-width="1.0"/>
<rect x="385.37" y="146.5" width="7.06" height="5.20" fill="#abd1f3" stroke="#86b6e2" stroke-width="0.5"/>
<line x1="385.37" y1="149.2" x2="392.43" y2="149.2" stroke="#2a5a8a" stroke-width="1.0"/>
<circle cx="388.90" cy="163.4" r="0.45" fill="#777"/>
<circle cx="388.93" cy="143.74" r="0.4" fill="#555" fill-opacity="0.5"/>
<circle cx="389.59" cy="154.50" r="0.4" fill="#555" fill-opacity="0.5"/>
<circle cx="388.78" cy="146.07" r="0.4" fill="#555" fill-opacity="0.5"/>
<circle cx="388.68" cy="150.63" r="0.4" fill="#555" fill-opacity="0.5"/>
<circle cx="388.21" cy="149.42" r="0.4" fill="#555" fill-opacity="0.5"/>
<circle cx="388.91" cy="148.25" r="0.4" fill="#555" fill-opacity="0.5"/>
<circle cx="388.32" cy="143.35" r="0.4" fill="#555" fill-opacity="0.5"/>
<circle cx="389.34" cy="154.64" r="0.4" fill="#555" fill-opacity="0.5"/>
<circle cx="389.11" cy="154.25" r="0.4" fill="#555" fill-opacity="0.5"/>
<circle cx="389.51" cy="152.73" r="0.4" fill="#555" fill-opacity="0.5"/>
<circle cx="388.15" cy="153.63" r="0.4" fill="#555" fill-opacity="0.5"/>
<circle cx="388.53" cy="150.73" r="0.4" fill="#555" fill-opacity="0.5"/>
<circle cx="388.54" cy="151.17" r="0.4" fill="#555" fill-opacity="0.5"/>
<circle cx="389.58" cy="149.55" r="0.4" fill="#555" fill-opacity="0.5"/>
<circle cx="388.50" cy="150.49" r="0.4" fill="#555" fill-opacity="0.5"/>
<circle cx="388.79" cy="149.29" r="0.4" fill="#555" fill-opacity="0.5"/>
<line x1="361.0" y1="121.0" x2="361.0" y2="169.2" stroke="#222" stroke-width="1.2"/>
<line x1="360.4" y1="168.6" x2="395.2" y2="168.6" stroke="#222" stroke-width="1.2"/>
<line x1="367.50" y1="168.6" x2="367.50" y2="171.29999999999998" stroke="#333" stroke-width="1.1"/>
<line x1="378.30" y1="168.6" x2="378.30" y2="171.29999999999998" stroke="#333" stroke-width="1.1"/>
<line x1="388.90" y1="168.6" x2="388.90" y2="171.29999999999998" stroke="#333" stroke-width="1.1"/>
<text x="421.70" y="107.2" font-size="8.0" fill="#262626" textLength="17.00" lengthAdjust="spacingAndGlyphs">cdc2</text>
<text x="438.40" y="107.0" font-size="4.4" fill="#4a4a4a" textLength="15.80" lengthAdjust="spacingAndGlyphs">(pY15)</text>
<text x="424.70" y="116.7" font-size="6.0" fill="#505050" textLength="25.50" lengthAdjust="spacingAndGlyphs"><tspan font-style="italic">P</tspan>-val: .004</text>
<line x1="418.80" y1="134.8" x2="421.8" y2="134.8" stroke="#333" stroke-width="1.0"/>
<text x="416.20" y="137.00" font-size="6.2" fill="#2e2e2e" stroke="#2e2e2e" stroke-width="0.12" text-anchor="end" textLength="8.01" lengthAdjust="spacingAndGlyphs">0.2</text>
<line x1="418.80" y1="149.4" x2="421.8" y2="149.4" stroke="#333" stroke-width="1.0"/>
<text x="416.20" y="151.60" font-size="6.2" fill="#2e2e2e" stroke="#2e2e2e" stroke-width="0.12" text-anchor="end" textLength="8.01" lengthAdjust="spacingAndGlyphs">0.0</text>
<line x1="418.80" y1="164" x2="421.8" y2="164" stroke="#333" stroke-width="1.0"/>
<text x="416.20" y="166.20" font-size="6.2" fill="#2e2e2e" stroke="#2e2e2e" stroke-width="0.12" text-anchor="end" textLength="11.38" lengthAdjust="spacingAndGlyphs">−0.2</text>
<line x1="427.70" y1="138.6" x2="427.70" y2="156.6" stroke="#7c7c7c" stroke-width="1.0"/>
<rect x="424.24" y="139.7" width="6.93" height="6.80" fill="#ef8f83" stroke="#d8776b" stroke-width="0.5"/>
<line x1="424.24" y1="142.4" x2="431.16" y2="142.4" stroke="#962c24" stroke-width="1.0"/>
<circle cx="427.70" cy="125.1" r="0.45" fill="#777"/>
<circle cx="427.70" cy="127.4" r="0.45" fill="#777"/>
<circle cx="427.36" cy="155.72" r="0.4" fill="#555" fill-opacity="0.5"/>
<circle cx="427.94" cy="144.10" r="0.4" fill="#555" fill-opacity="0.5"/>
<circle cx="427.85" cy="140.77" r="0.4" fill="#555" fill-opacity="0.5"/>
<circle cx="427.72" cy="155.81" r="0.4" fill="#555" fill-opacity="0.5"/>
<circle cx="427.65" cy="143.43" r="0.4" fill="#555" fill-opacity="0.5"/>
<circle cx="427.14" cy="148.21" r="0.4" fill="#555" fill-opacity="0.5"/>
<circle cx="427.11" cy="140.83" r="0.4" fill="#555" fill-opacity="0.5"/>
<circle cx="427.55" cy="143.88" r="0.4" fill="#555" fill-opacity="0.5"/>
<circle cx="427.29" cy="143.79" r="0.4" fill="#555" fill-opacity="0.5"/>
<circle cx="427.77" cy="140.18" r="0.4" fill="#555" fill-opacity="0.5"/>
<circle cx="427.88" cy="153.72" r="0.4" fill="#555" fill-opacity="0.5"/>
<circle cx="427.94" cy="148.86" r="0.4" fill="#555" fill-opacity="0.5"/>
<circle cx="428.04" cy="142.22" r="0.4" fill="#555" fill-opacity="0.5"/>
<circle cx="427.78" cy="146.90" r="0.4" fill="#555" fill-opacity="0.5"/>
<circle cx="427.65" cy="149.63" r="0.4" fill="#555" fill-opacity="0.5"/>
<circle cx="427.29" cy="144.19" r="0.4" fill="#555" fill-opacity="0.5"/>
<circle cx="427.72" cy="142.59" r="0.4" fill="#555" fill-opacity="0.5"/>
<circle cx="427.84" cy="145.50" r="0.4" fill="#555" fill-opacity="0.5"/>
<circle cx="427.46" cy="138.81" r="0.4" fill="#555" fill-opacity="0.5"/>
<circle cx="427.28" cy="154.11" r="0.4" fill="#555" fill-opacity="0.5"/>
<circle cx="427.69" cy="148.62" r="0.4" fill="#555" fill-opacity="0.5"/>
<circle cx="428.48" cy="143.73" r="0.4" fill="#555" fill-opacity="0.5"/>
<line x1="438.30" y1="142" x2="438.30" y2="157.1" stroke="#7c7c7c" stroke-width="1.0"/>
<rect x="434.84" y="143.8" width="6.93" height="8.30" fill="#abd993" stroke="#86bf6b" stroke-width="0.5"/>
<line x1="434.84" y1="148.3" x2="441.76" y2="148.3" stroke="#36632a" stroke-width="1.0"/>
<circle cx="438.74" cy="146.46" r="0.4" fill="#555" fill-opacity="0.5"/>
<circle cx="437.61" cy="144.39" r="0.4" fill="#555" fill-opacity="0.5"/>
<circle cx="438.20" cy="155.16" r="0.4" fill="#555" fill-opacity="0.5"/>
<circle cx="438.12" cy="142.94" r="0.4" fill="#555" fill-opacity="0.5"/>
<circle cx="438.68" cy="148.64" r="0.4" fill="#555" fill-opacity="0.5"/>
<circle cx="437.86" cy="143.65" r="0.4" fill="#555" fill-opacity="0.5"/>
<circle cx="438.68" cy="156.49" r="0.4" fill="#555" fill-opacity="0.5"/>
<circle cx="438.04" cy="144.33" r="0.4" fill="#555" fill-opacity="0.5"/>
<circle cx="438.58" cy="147.32" r="0.4" fill="#555" fill-opacity="0.5"/>
<circle cx="438.86" cy="151.31" r="0.4" fill="#555" fill-opacity="0.5"/>
<circle cx="438.33" cy="154.40" r="0.4" fill="#555" fill-opacity="0.5"/>
<circle cx="438.69" cy="153.16" r="0.4" fill="#555" fill-opacity="0.5"/>
<circle cx="438.26" cy="153.47" r="0.4" fill="#555" fill-opacity="0.5"/>
<circle cx="438.63" cy="153.85" r="0.4" fill="#555" fill-opacity="0.5"/>
<circle cx="437.70" cy="155.81" r="0.4" fill="#555" fill-opacity="0.5"/>
<circle cx="437.51" cy="155.15" r="0.4" fill="#555" fill-opacity="0.5"/>
<circle cx="438.44" cy="153.56" r="0.4" fill="#555" fill-opacity="0.5"/>
<circle cx="439.04" cy="149.52" r="0.4" fill="#555" fill-opacity="0.5"/>
<circle cx="438.17" cy="150.64" r="0.4" fill="#555" fill-opacity="0.5"/>
<line x1="448.70" y1="143.1" x2="448.70" y2="158.2" stroke="#7c7c7c" stroke-width="1.0"/>
<rect x="445.24" y="151" width="6.93" height="4.50" fill="#abd1f3" stroke="#86b6e2" stroke-width="0.5"/>
<line x1="445.24" y1="153.2" x2="452.16" y2="153.2" stroke="#2a5a8a" stroke-width="1.0"/>
<circle cx="449.30" cy="154.93" r="0.4" fill="#555" fill-opacity="0.5"/>
<circle cx="448.51" cy="152.27" r="0.4" fill="#555" fill-opacity="0.5"/>
<circle cx="448.63" cy="149.93" r="0.4" fill="#555" fill-opacity="0.5"/>
<circle cx="448.37" cy="154.02" r="0.4" fill="#555" fill-opacity="0.5"/>
<circle cx="448.79" cy="149.00" r="0.4" fill="#555" fill-opacity="0.5"/>
<circle cx="448.42" cy="148.91" r="0.4" fill="#555" fill-opacity="0.5"/>
<circle cx="449.26" cy="154.98" r="0.4" fill="#555" fill-opacity="0.5"/>
<circle cx="448.61" cy="150.64" r="0.4" fill="#555" fill-opacity="0.5"/>
<circle cx="448.39" cy="145.88" r="0.4" fill="#555" fill-opacity="0.5"/>
<circle cx="448.82" cy="145.29" r="0.4" fill="#555" fill-opacity="0.5"/>
<circle cx="448.04" cy="151.88" r="0.4" fill="#555" fill-opacity="0.5"/>
<circle cx="448.42" cy="156.99" r="0.4" fill="#555" fill-opacity="0.5"/>
<circle cx="449.24" cy="155.84" r="0.4" fill="#555" fill-opacity="0.5"/>
<circle cx="448.23" cy="157.58" r="0.4" fill="#555" fill-opacity="0.5"/>
<circle cx="449.36" cy="149.54" r="0.4" fill="#555" fill-opacity="0.5"/>
<circle cx="447.98" cy="143.26" r="0.4" fill="#555" fill-opacity="0.5"/>
<circle cx="448.70" cy="151.63" r="0.4" fill="#555" fill-opacity="0.5"/>
<circle cx="449.14" cy="157.00" r="0.4" fill="#555" fill-opacity="0.5"/>
<circle cx="449.50" cy="151.23" r="0.4" fill="#555" fill-opacity="0.5"/>
<line x1="421.8" y1="121.0" x2="421.8" y2="169.2" stroke="#222" stroke-width="1.2"/>
<line x1="421.2" y1="168.6" x2="454.5" y2="168.6" stroke="#222" stroke-width="1.2"/>
<line x1="427.70" y1="168.6" x2="427.70" y2="171.29999999999998" stroke="#333" stroke-width="1.1"/>
<line x1="438.30" y1="168.6" x2="438.30" y2="171.29999999999998" stroke="#333" stroke-width="1.1"/>
<line x1="448.70" y1="168.6" x2="448.70" y2="171.29999999999998" stroke="#333" stroke-width="1.1"/>
<text x="481.20" y="107.2" font-size="8.0" fill="#262626" textLength="31.90" lengthAdjust="spacingAndGlyphs">FANCD2</text>
<text x="482.20" y="116.7" font-size="6.0" fill="#505050" textLength="29.90" lengthAdjust="spacingAndGlyphs"><tspan font-style="italic">P</tspan>-val: .0315</text>
<line x1="477.80" y1="124" x2="480.8" y2="124" stroke="#333" stroke-width="1.0"/>
<text x="475.20" y="126.20" font-size="6.2" fill="#2e2e2e" stroke="#2e2e2e" stroke-width="0.12" text-anchor="end" textLength="8.01" lengthAdjust="spacingAndGlyphs">0.3</text>
<line x1="477.80" y1="132" x2="480.8" y2="132" stroke="#333" stroke-width="1.0"/>
<text x="475.20" y="134.20" font-size="6.2" fill="#2e2e2e" stroke="#2e2e2e" stroke-width="0.12" text-anchor="end" textLength="8.01" lengthAdjust="spacingAndGlyphs">0.2</text>
<line x1="477.80" y1="140.2" x2="480.8" y2="140.2" stroke="#333" stroke-width="1.0"/>
<text x="475.20" y="142.40" font-size="6.2" fill="#2e2e2e" stroke="#2e2e2e" stroke-width="0.12" text-anchor="end" textLength="8.01" lengthAdjust="spacingAndGlyphs">0.1</text>
<line x1="477.80" y1="148.3" x2="480.8" y2="148.3" stroke="#333" stroke-width="1.0"/>
<text x="475.20" y="150.50" font-size="6.2" fill="#2e2e2e" stroke="#2e2e2e" stroke-width="0.12" text-anchor="end" textLength="8.01" lengthAdjust="spacingAndGlyphs">0.0</text>
<line x1="477.80" y1="156.5" x2="480.8" y2="156.5" stroke="#333" stroke-width="1.0"/>
<text x="475.20" y="158.70" font-size="6.2" fill="#2e2e2e" stroke="#2e2e2e" stroke-width="0.12" text-anchor="end" textLength="11.38" lengthAdjust="spacingAndGlyphs">−0.1</text>
<line x1="477.80" y1="164.8" x2="480.8" y2="164.8" stroke="#333" stroke-width="1.0"/>
<text x="475.20" y="167.00" font-size="6.2" fill="#2e2e2e" stroke="#2e2e2e" stroke-width="0.12" text-anchor="end" textLength="11.38" lengthAdjust="spacingAndGlyphs">−0.2</text>
<line x1="487.10" y1="124" x2="487.10" y2="165.6" stroke="#7c7c7c" stroke-width="1.0"/>
<rect x="483.73" y="131.9" width="6.73" height="14.60" fill="#ef8f83" stroke="#d8776b" stroke-width="0.5"/>
<line x1="483.73" y1="137.5" x2="490.47" y2="137.5" stroke="#962c24" stroke-width="1.0"/>
<circle cx="487.13" cy="145.53" r="0.4" fill="#555" fill-opacity="0.5"/>
<circle cx="486.92" cy="152.51" r="0.4" fill="#555" fill-opacity="0.5"/>
<circle cx="487.25" cy="138.88" r="0.4" fill="#555" fill-opacity="0.5"/>
<circle cx="487.82" cy="138.61" r="0.4" fill="#555" fill-opacity="0.5"/>
<circle cx="487.14" cy="152.14" r="0.4" fill="#555" fill-opacity="0.5"/>
<circle cx="486.90" cy="128.12" r="0.4" fill="#555" fill-opacity="0.5"/>
<circle cx="487.20" cy="140.68" r="0.4" fill="#555" fill-opacity="0.5"/>
<circle cx="487.71" cy="147.88" r="0.4" fill="#555" fill-opacity="0.5"/>
<circle cx="487.08" cy="164.12" r="0.4" fill="#555" fill-opacity="0.5"/>
<circle cx="487.30" cy="142.31" r="0.4" fill="#555" fill-opacity="0.5"/>
<circle cx="486.85" cy="165.44" r="0.4" fill="#555" fill-opacity="0.5"/>
<circle cx="487.61" cy="146.05" r="0.4" fill="#555" fill-opacity="0.5"/>
<circle cx="486.81" cy="131.10" r="0.4" fill="#555" fill-opacity="0.5"/>
<circle cx="487.62" cy="164.70" r="0.4" fill="#555" fill-opacity="0.5"/>
<circle cx="486.48" cy="145.32" r="0.4" fill="#555" fill-opacity="0.5"/>
<circle cx="487.40" cy="161.21" r="0.4" fill="#555" fill-opacity="0.5"/>
<circle cx="487.88" cy="158.14" r="0.4" fill="#555" fill-opacity="0.5"/>
<circle cx="486.97" cy="160.95" r="0.4" fill="#555" fill-opacity="0.5"/>
<circle cx="486.76" cy="130.51" r="0.4" fill="#555" fill-opacity="0.5"/>
<circle cx="487.11" cy="145.28" r="0.4" fill="#555" fill-opacity="0.5"/>
<circle cx="486.59" cy="131.83" r="0.4" fill="#555" fill-opacity="0.5"/>
<circle cx="487.27" cy="150.21" r="0.4" fill="#555" fill-opacity="0.5"/>
<circle cx="487.89" cy="138.69" r="0.4" fill="#555" fill-opacity="0.5"/>
<circle cx="486.37" cy="150.48" r="0.4" fill="#555" fill-opacity="0.5"/>
<circle cx="487.56" cy="141.11" r="0.4" fill="#555" fill-opacity="0.5"/>
<circle cx="487.41" cy="136.76" r="0.4" fill="#555" fill-opacity="0.5"/>
<circle cx="486.79" cy="124.16" r="0.4" fill="#555" fill-opacity="0.5"/>
<circle cx="487.24" cy="159.03" r="0.4" fill="#555" fill-opacity="0.5"/>
<circle cx="486.61" cy="151.79" r="0.4" fill="#555" fill-opacity="0.5"/>
<circle cx="487.19" cy="144.71" r="0.4" fill="#555" fill-opacity="0.5"/>
<circle cx="487.33" cy="135.07" r="0.4" fill="#555" fill-opacity="0.5"/>
<circle cx="487.90" cy="146.11" r="0.4" fill="#555" fill-opacity="0.5"/>
<circle cx="486.96" cy="147.90" r="0.4" fill="#555" fill-opacity="0.5"/>
<circle cx="486.55" cy="129.05" r="0.4" fill="#555" fill-opacity="0.5"/>
<circle cx="486.47" cy="155.60" r="0.4" fill="#555" fill-opacity="0.5"/>
<circle cx="486.57" cy="128.16" r="0.4" fill="#555" fill-opacity="0.5"/>
<circle cx="487.62" cy="145.74" r="0.4" fill="#555" fill-opacity="0.5"/>
<circle cx="487.59" cy="149.50" r="0.4" fill="#555" fill-opacity="0.5"/>
<circle cx="486.32" cy="126.58" r="0.4" fill="#555" fill-opacity="0.5"/>
<circle cx="486.82" cy="156.06" r="0.4" fill="#555" fill-opacity="0.5"/>
<circle cx="486.87" cy="153.76" r="0.4" fill="#555" fill-opacity="0.5"/>
<circle cx="486.73" cy="131.05" r="0.4" fill="#555" fill-opacity="0.5"/>
<circle cx="487.75" cy="128.14" r="0.4" fill="#555" fill-opacity="0.5"/>
<line x1="497.40" y1="142" x2="497.40" y2="163.4" stroke="#7c7c7c" stroke-width="1.0"/>
<rect x="494.03" y="148.7" width="6.73" height="4.50" fill="#abd993" stroke="#86bf6b" stroke-width="0.5"/>
<line x1="494.03" y1="149.9" x2="500.77" y2="149.9" stroke="#36632a" stroke-width="1.0"/>
<circle cx="497.16" cy="154.46" r="0.4" fill="#555" fill-opacity="0.5"/>
<circle cx="497.22" cy="151.63" r="0.4" fill="#555" fill-opacity="0.5"/>
<circle cx="498.02" cy="143.17" r="0.4" fill="#555" fill-opacity="0.5"/>
<circle cx="498.14" cy="154.47" r="0.4" fill="#555" fill-opacity="0.5"/>
<circle cx="497.59" cy="151.41" r="0.4" fill="#555" fill-opacity="0.5"/>
<circle cx="496.67" cy="147.34" r="0.4" fill="#555" fill-opacity="0.5"/>
<circle cx="497.97" cy="161.92" r="0.4" fill="#555" fill-opacity="0.5"/>
<circle cx="498.04" cy="148.74" r="0.4" fill="#555" fill-opacity="0.5"/>
<circle cx="497.09" cy="159.46" r="0.4" fill="#555" fill-opacity="0.5"/>
<circle cx="498.14" cy="154.89" r="0.4" fill="#555" fill-opacity="0.5"/>
<circle cx="498.12" cy="152.60" r="0.4" fill="#555" fill-opacity="0.5"/>
<circle cx="497.22" cy="147.20" r="0.4" fill="#555" fill-opacity="0.5"/>
<circle cx="496.95" cy="157.38" r="0.4" fill="#555" fill-opacity="0.5"/>
<circle cx="498.00" cy="148.62" r="0.4" fill="#555" fill-opacity="0.5"/>
<circle cx="497.87" cy="152.37" r="0.4" fill="#555" fill-opacity="0.5"/>
<circle cx="496.88" cy="147.21" r="0.4" fill="#555" fill-opacity="0.5"/>
<circle cx="496.90" cy="149.67" r="0.4" fill="#555" fill-opacity="0.5"/>
<circle cx="497.07" cy="162.79" r="0.4" fill="#555" fill-opacity="0.5"/>
<circle cx="496.78" cy="154.02" r="0.4" fill="#555" fill-opacity="0.5"/>
<circle cx="497.22" cy="153.42" r="0.4" fill="#555" fill-opacity="0.5"/>
<circle cx="496.70" cy="150.63" r="0.4" fill="#555" fill-opacity="0.5"/>
<circle cx="497.92" cy="144.64" r="0.4" fill="#555" fill-opacity="0.5"/>
<circle cx="496.99" cy="149.52" r="0.4" fill="#555" fill-opacity="0.5"/>
<circle cx="497.05" cy="146.09" r="0.4" fill="#555" fill-opacity="0.5"/>
<circle cx="496.66" cy="147.08" r="0.4" fill="#555" fill-opacity="0.5"/>
<line x1="507.50" y1="146.5" x2="507.50" y2="163.4" stroke="#7c7c7c" stroke-width="1.0"/>
<rect x="504.13" y="147.6" width="6.73" height="8.60" fill="#abd1f3" stroke="#86b6e2" stroke-width="0.5"/>
<line x1="504.13" y1="155" x2="510.87" y2="155" stroke="#2a5a8a" stroke-width="1.0"/>
<circle cx="507.25" cy="157.73" r="0.4" fill="#555" fill-opacity="0.5"/>
<circle cx="507.83" cy="149.13" r="0.4" fill="#555" fill-opacity="0.5"/>
<circle cx="507.13" cy="148.07" r="0.4" fill="#555" fill-opacity="0.5"/>
<circle cx="506.90" cy="160.61" r="0.4" fill="#555" fill-opacity="0.5"/>
<circle cx="508.04" cy="153.99" r="0.4" fill="#555" fill-opacity="0.5"/>
<circle cx="506.95" cy="160.10" r="0.4" fill="#555" fill-opacity="0.5"/>
<circle cx="507.86" cy="152.46" r="0.4" fill="#555" fill-opacity="0.5"/>
<circle cx="508.23" cy="152.87" r="0.4" fill="#555" fill-opacity="0.5"/>
<circle cx="508.22" cy="150.02" r="0.4" fill="#555" fill-opacity="0.5"/>
<circle cx="507.06" cy="155.03" r="0.4" fill="#555" fill-opacity="0.5"/>
<circle cx="506.91" cy="154.15" r="0.4" fill="#555" fill-opacity="0.5"/>
<circle cx="507.12" cy="158.44" r="0.4" fill="#555" fill-opacity="0.5"/>
<circle cx="507.64" cy="161.70" r="0.4" fill="#555" fill-opacity="0.5"/>
<circle cx="507.09" cy="152.72" r="0.4" fill="#555" fill-opacity="0.5"/>
<circle cx="507.04" cy="156.78" r="0.4" fill="#555" fill-opacity="0.5"/>
<circle cx="506.90" cy="161.24" r="0.4" fill="#555" fill-opacity="0.5"/>
<circle cx="507.57" cy="155.17" r="0.4" fill="#555" fill-opacity="0.5"/>
<circle cx="507.93" cy="151.07" r="0.4" fill="#555" fill-opacity="0.5"/>
<circle cx="507.75" cy="153.00" r="0.4" fill="#555" fill-opacity="0.5"/>
<circle cx="507.20" cy="156.09" r="0.4" fill="#555" fill-opacity="0.5"/>
<circle cx="506.84" cy="153.09" r="0.4" fill="#555" fill-opacity="0.5"/>
<line x1="480.8" y1="121.0" x2="480.8" y2="169.2" stroke="#222" stroke-width="1.2"/>
<line x1="480.2" y1="168.6" x2="513.3" y2="168.6" stroke="#222" stroke-width="1.2"/>
<line x1="487.10" y1="168.6" x2="487.10" y2="171.29999999999998" stroke="#333" stroke-width="1.1"/>
<line x1="497.40" y1="168.6" x2="497.40" y2="171.29999999999998" stroke="#333" stroke-width="1.1"/>
<line x1="507.50" y1="168.6" x2="507.50" y2="171.29999999999998" stroke="#333" stroke-width="1.1"/>
<text x="37.00" y="198.1" font-size="8.0" fill="#262626" textLength="21.10" lengthAdjust="spacingAndGlyphs">Rictor</text>
<text x="57.80" y="197.9" font-size="4.4" fill="#4a4a4a" textLength="17.60" lengthAdjust="spacingAndGlyphs">(T1135)</text>
<text x="39.30" y="208.0" font-size="6.0" fill="#505050" textLength="32.80" lengthAdjust="spacingAndGlyphs"><tspan font-style="italic">P</tspan>-val: .0013</text>
<line x1="35.30" y1="215.1" x2="38.3" y2="215.1" stroke="#333" stroke-width="1.0"/>
<text x="32.70" y="217.30" font-size="6.2" fill="#2e2e2e" stroke="#2e2e2e" stroke-width="0.12" text-anchor="end" textLength="8.01" lengthAdjust="spacingAndGlyphs">0.4</text>
<line x1="35.30" y1="223.7" x2="38.3" y2="223.7" stroke="#333" stroke-width="1.0"/>
<text x="32.70" y="225.90" font-size="6.2" fill="#2e2e2e" stroke="#2e2e2e" stroke-width="0.12" text-anchor="end" textLength="8.01" lengthAdjust="spacingAndGlyphs">0.2</text>
<line x1="35.30" y1="232.4" x2="38.3" y2="232.4" stroke="#333" stroke-width="1.0"/>
<text x="32.70" y="234.60" font-size="6.2" fill="#2e2e2e" stroke="#2e2e2e" stroke-width="0.12" text-anchor="end" textLength="8.01" lengthAdjust="spacingAndGlyphs">0.0</text>
<line x1="35.30" y1="241" x2="38.3" y2="241" stroke="#333" stroke-width="1.0"/>
<text x="32.70" y="243.20" font-size="6.2" fill="#2e2e2e" stroke="#2e2e2e" stroke-width="0.12" text-anchor="end" textLength="11.38" lengthAdjust="spacingAndGlyphs">−0.2</text>
<line x1="35.30" y1="249.5" x2="38.3" y2="249.5" stroke="#333" stroke-width="1.0"/>
<text x="32.70" y="251.70" font-size="6.2" fill="#2e2e2e" stroke="#2e2e2e" stroke-width="0.12" text-anchor="end" textLength="11.38" lengthAdjust="spacingAndGlyphs">−0.4</text>
<line x1="44.70" y1="224.1" x2="44.70" y2="255.6" stroke="#7c7c7c" stroke-width="1.0"/>
<rect x="41.05" y="229.3" width="7.29" height="10.60" fill="#ef8f83" stroke="#d8776b" stroke-width="0.5"/>
<line x1="41.05" y1="234.2" x2="48.35" y2="234.2" stroke="#962c24" stroke-width="1.0"/>
<circle cx="45.26" cy="229.68" r="0.4" fill="#555" fill-opacity="0.5"/>
<circle cx="44.96" cy="234.21" r="0.4" fill="#555" fill-opacity="0.5"/>
<circle cx="44.80" cy="227.53" r="0.4" fill="#555" fill-opacity="0.5"/>
<circle cx="44.70" cy="235.49" r="0.4" fill="#555" fill-opacity="0.5"/>
<circle cx="44.01" cy="233.45" r="0.4" fill="#555" fill-opacity="0.5"/>
<circle cx="44.26" cy="233.91" r="0.4" fill="#555" fill-opacity="0.5"/>
<circle cx="45.05" cy="228.07" r="0.4" fill="#555" fill-opacity="0.5"/>
<circle cx="44.55" cy="232.99" r="0.4" fill="#555" fill-opacity="0.5"/>
<circle cx="45.14" cy="252.73" r="0.4" fill="#555" fill-opacity="0.5"/>
<circle cx="45.28" cy="251.91" r="0.4" fill="#555" fill-opacity="0.5"/>
<circle cx="44.34" cy="228.26" r="0.4" fill="#555" fill-opacity="0.5"/>
<circle cx="44.99" cy="225.03" r="0.4" fill="#555" fill-opacity="0.5"/>
<circle cx="44.46" cy="245.00" r="0.4" fill="#555" fill-opacity="0.5"/>
<circle cx="44.95" cy="237.10" r="0.4" fill="#555" fill-opacity="0.5"/>
<circle cx="44.30" cy="246.13" r="0.4" fill="#555" fill-opacity="0.5"/>
<circle cx="44.46" cy="250.77" r="0.4" fill="#555" fill-opacity="0.5"/>
<circle cx="44.19" cy="243.91" r="0.4" fill="#555" fill-opacity="0.5"/>
<circle cx="45.36" cy="227.73" r="0.4" fill="#555" fill-opacity="0.5"/>
<circle cx="45.04" cy="247.22" r="0.4" fill="#555" fill-opacity="0.5"/>
<circle cx="43.96" cy="225.37" r="0.4" fill="#555" fill-opacity="0.5"/>
<circle cx="44.22" cy="229.20" r="0.4" fill="#555" fill-opacity="0.5"/>
<circle cx="44.51" cy="233.65" r="0.4" fill="#555" fill-opacity="0.5"/>
<circle cx="44.40" cy="225.34" r="0.4" fill="#555" fill-opacity="0.5"/>
<circle cx="44.19" cy="244.21" r="0.4" fill="#555" fill-opacity="0.5"/>
<circle cx="44.81" cy="250.54" r="0.4" fill="#555" fill-opacity="0.5"/>
<circle cx="44.31" cy="246.67" r="0.4" fill="#555" fill-opacity="0.5"/>
<circle cx="44.99" cy="237.80" r="0.4" fill="#555" fill-opacity="0.5"/>
<circle cx="43.90" cy="235.09" r="0.4" fill="#555" fill-opacity="0.5"/>
<circle cx="45.14" cy="250.38" r="0.4" fill="#555" fill-opacity="0.5"/>
<circle cx="43.97" cy="233.12" r="0.4" fill="#555" fill-opacity="0.5"/>
<circle cx="44.87" cy="251.01" r="0.4" fill="#555" fill-opacity="0.5"/>
<circle cx="44.29" cy="225.59" r="0.4" fill="#555" fill-opacity="0.5"/>
<circle cx="45.17" cy="227.60" r="0.4" fill="#555" fill-opacity="0.5"/>
<circle cx="45.36" cy="230.72" r="0.4" fill="#555" fill-opacity="0.5"/>
<line x1="55.90" y1="225.2" x2="55.90" y2="252.2" stroke="#7c7c7c" stroke-width="1.0"/>
<rect x="52.25" y="231.5" width="7.29" height="7.20" fill="#abd993" stroke="#86bf6b" stroke-width="0.5"/>
<line x1="52.25" y1="236" x2="59.55" y2="236" stroke="#36632a" stroke-width="1.0"/>
<circle cx="55.24" cy="245.44" r="0.4" fill="#555" fill-opacity="0.5"/>
<circle cx="55.73" cy="243.96" r="0.4" fill="#555" fill-opacity="0.5"/>
<circle cx="56.43" cy="245.38" r="0.4" fill="#555" fill-opacity="0.5"/>
<circle cx="55.24" cy="232.79" r="0.4" fill="#555" fill-opacity="0.5"/>
<circle cx="55.78" cy="250.75" r="0.4" fill="#555" fill-opacity="0.5"/>
<circle cx="56.21" cy="250.32" r="0.4" fill="#555" fill-opacity="0.5"/>
<circle cx="56.43" cy="245.14" r="0.4" fill="#555" fill-opacity="0.5"/>
<circle cx="55.82" cy="242.16" r="0.4" fill="#555" fill-opacity="0.5"/>
<circle cx="56.22" cy="226.67" r="0.4" fill="#555" fill-opacity="0.5"/>
<circle cx="55.92" cy="236.77" r="0.4" fill="#555" fill-opacity="0.5"/>
<circle cx="55.30" cy="250.26" r="0.4" fill="#555" fill-opacity="0.5"/>
<circle cx="55.17" cy="245.77" r="0.4" fill="#555" fill-opacity="0.5"/>
<circle cx="56.39" cy="244.17" r="0.4" fill="#555" fill-opacity="0.5"/>
<circle cx="55.97" cy="232.25" r="0.4" fill="#555" fill-opacity="0.5"/>
<circle cx="56.12" cy="251.37" r="0.4" fill="#555" fill-opacity="0.5"/>
<circle cx="55.50" cy="239.89" r="0.4" fill="#555" fill-opacity="0.5"/>
<circle cx="55.67" cy="226.80" r="0.4" fill="#555" fill-opacity="0.5"/>
<circle cx="55.42" cy="236.31" r="0.4" fill="#555" fill-opacity="0.5"/>
<circle cx="55.32" cy="233.58" r="0.4" fill="#555" fill-opacity="0.5"/>
<circle cx="56.17" cy="244.29" r="0.4" fill="#555" fill-opacity="0.5"/>
<circle cx="55.49" cy="231.62" r="0.4" fill="#555" fill-opacity="0.5"/>
<circle cx="55.81" cy="239.12" r="0.4" fill="#555" fill-opacity="0.5"/>
<circle cx="55.66" cy="250.47" r="0.4" fill="#555" fill-opacity="0.5"/>
<circle cx="56.52" cy="233.28" r="0.4" fill="#555" fill-opacity="0.5"/>
<circle cx="56.00" cy="229.03" r="0.4" fill="#555" fill-opacity="0.5"/>
<circle cx="56.40" cy="234.21" r="0.4" fill="#555" fill-opacity="0.5"/>
<circle cx="56.32" cy="240.00" r="0.4" fill="#555" fill-opacity="0.5"/>
<circle cx="56.17" cy="229.77" r="0.4" fill="#555" fill-opacity="0.5"/>
<circle cx="55.84" cy="241.36" r="0.4" fill="#555" fill-opacity="0.5"/>
<circle cx="56.43" cy="245.89" r="0.4" fill="#555" fill-opacity="0.5"/>
<line x1="66.80" y1="226.4" x2="66.80" y2="238.7" stroke="#7c7c7c" stroke-width="1.0"/>
<rect x="63.15" y="229.7" width="7.29" height="5.70" fill="#abd1f3" stroke="#86b6e2" stroke-width="0.5"/>
<line x1="63.15" y1="233.1" x2="70.45" y2="233.1" stroke="#2a5a8a" stroke-width="1.0"/>
<circle cx="66.80" cy="215.1" r="0.45" fill="#777"/>
<circle cx="66.46" cy="227.81" r="0.4" fill="#555" fill-opacity="0.5"/>
<circle cx="66.33" cy="230.83" r="0.4" fill="#555" fill-opacity="0.5"/>
<circle cx="66.45" cy="227.14" r="0.4" fill="#555" fill-opacity="0.5"/>
<circle cx="67.12" cy="228.82" r="0.4" fill="#555" fill-opacity="0.5"/>
<circle cx="66.18" cy="231.91" r="0.4" fill="#555" fill-opacity="0.5"/>
<circle cx="66.75" cy="230.39" r="0.4" fill="#555" fill-opacity="0.5"/>
<circle cx="66.27" cy="230.86" r="0.4" fill="#555" fill-opacity="0.5"/>
<circle cx="66.02" cy="227.28" r="0.4" fill="#555" fill-opacity="0.5"/>
<circle cx="67.20" cy="238.60" r="0.4" fill="#555" fill-opacity="0.5"/>
<circle cx="67.15" cy="227.43" r="0.4" fill="#555" fill-opacity="0.5"/>
<circle cx="66.90" cy="238.46" r="0.4" fill="#555" fill-opacity="0.5"/>
<circle cx="66.78" cy="227.74" r="0.4" fill="#555" fill-opacity="0.5"/>
<circle cx="66.30" cy="231.74" r="0.4" fill="#555" fill-opacity="0.5"/>
<circle cx="66.01" cy="233.08" r="0.4" fill="#555" fill-opacity="0.5"/>
<circle cx="67.03" cy="237.71" r="0.4" fill="#555" fill-opacity="0.5"/>
<circle cx="67.50" cy="234.12" r="0.4" fill="#555" fill-opacity="0.5"/>
<circle cx="66.40" cy="234.43" r="0.4" fill="#555" fill-opacity="0.5"/>
<line x1="38.3" y1="213.0" x2="38.3" y2="257.90000000000003" stroke="#222" stroke-width="1.2"/>
<line x1="37.699999999999996" y1="257.3" x2="73.4" y2="257.3" stroke="#222" stroke-width="1.2"/>
<line x1="44.70" y1="257.3" x2="44.70" y2="260.0" stroke="#333" stroke-width="1.1"/>
<line x1="55.90" y1="257.3" x2="55.90" y2="260.0" stroke="#333" stroke-width="1.1"/>
<line x1="66.80" y1="257.3" x2="66.80" y2="260.0" stroke="#333" stroke-width="1.1"/>
<text x="110.90" y="198.1" font-size="8.0" fill="#262626" textLength="33.10" lengthAdjust="spacingAndGlyphs">PIP4K2B</text>
<text x="112.80" y="208.0" font-size="6.0" fill="#505050" textLength="29.30" lengthAdjust="spacingAndGlyphs"><tspan font-style="italic">P</tspan>-val: .006</text>
<line x1="106.30" y1="221.9" x2="109.3" y2="221.9" stroke="#333" stroke-width="1.0"/>
<text x="103.70" y="224.10" font-size="6.2" fill="#2e2e2e" stroke="#2e2e2e" stroke-width="0.12" text-anchor="end" textLength="11.22" lengthAdjust="spacingAndGlyphs">0.25</text>
<line x1="106.30" y1="230.9" x2="109.3" y2="230.9" stroke="#333" stroke-width="1.0"/>
<text x="103.70" y="233.10" font-size="6.2" fill="#2e2e2e" stroke="#2e2e2e" stroke-width="0.12" text-anchor="end" textLength="11.22" lengthAdjust="spacingAndGlyphs">0.00</text>
<line x1="106.30" y1="239.5" x2="109.3" y2="239.5" stroke="#333" stroke-width="1.0"/>
<text x="103.70" y="241.70" font-size="6.2" fill="#2e2e2e" stroke="#2e2e2e" stroke-width="0.12" text-anchor="end" textLength="14.59" lengthAdjust="spacingAndGlyphs">−0.25</text>
<line x1="106.30" y1="248.2" x2="109.3" y2="248.2" stroke="#333" stroke-width="1.0"/>
<text x="103.70" y="250.40" font-size="6.2" fill="#2e2e2e" stroke="#2e2e2e" stroke-width="0.12" text-anchor="end" textLength="14.59" lengthAdjust="spacingAndGlyphs">−0.50</text>
<line x1="106.30" y1="257.0" x2="109.3" y2="257.0" stroke="#333" stroke-width="1.0"/>
<text x="103.70" y="259.20" font-size="6.2" fill="#2e2e2e" stroke="#2e2e2e" stroke-width="0.12" text-anchor="end" textLength="14.59" lengthAdjust="spacingAndGlyphs">−0.75</text>
<line x1="116.20" y1="227.5" x2="116.20" y2="243.7" stroke="#7c7c7c" stroke-width="1.0"/>
<rect x="112.52" y="233.8" width="7.36" height="3.80" fill="#ef8f83" stroke="#d8776b" stroke-width="0.5"/>
<line x1="112.52" y1="235.8" x2="119.88" y2="235.8" stroke="#962c24" stroke-width="1.0"/>
<circle cx="116.20" cy="248.9" r="0.45" fill="#777"/>
<circle cx="115.62" cy="231.49" r="0.4" fill="#555" fill-opacity="0.5"/>
<circle cx="116.64" cy="227.95" r="0.4" fill="#555" fill-opacity="0.5"/>
<circle cx="115.87" cy="241.10" r="0.4" fill="#555" fill-opacity="0.5"/>
<circle cx="116.42" cy="230.51" r="0.4" fill="#555" fill-opacity="0.5"/>
<circle cx="116.88" cy="241.20" r="0.4" fill="#555" fill-opacity="0.5"/>
<circle cx="116.66" cy="230.23" r="0.4" fill="#555" fill-opacity="0.5"/>
<circle cx="116.59" cy="240.95" r="0.4" fill="#555" fill-opacity="0.5"/>
<circle cx="115.70" cy="232.79" r="0.4" fill="#555" fill-opacity="0.5"/>
<circle cx="115.91" cy="240.87" r="0.4" fill="#555" fill-opacity="0.5"/>
<circle cx="116.28" cy="233.47" r="0.4" fill="#555" fill-opacity="0.5"/>
<circle cx="116.73" cy="233.48" r="0.4" fill="#555" fill-opacity="0.5"/>
<circle cx="115.47" cy="231.38" r="0.4" fill="#555" fill-opacity="0.5"/>
<circle cx="116.41" cy="236.68" r="0.4" fill="#555" fill-opacity="0.5"/>
<circle cx="116.53" cy="240.78" r="0.4" fill="#555" fill-opacity="0.5"/>
<circle cx="116.91" cy="242.16" r="0.4" fill="#555" fill-opacity="0.5"/>
<circle cx="116.20" cy="235.51" r="0.4" fill="#555" fill-opacity="0.5"/>
<circle cx="115.88" cy="230.05" r="0.4" fill="#555" fill-opacity="0.5"/>
<circle cx="115.53" cy="236.91" r="0.4" fill="#555" fill-opacity="0.5"/>
<circle cx="115.66" cy="238.65" r="0.4" fill="#555" fill-opacity="0.5"/>
<circle cx="116.95" cy="234.68" r="0.4" fill="#555" fill-opacity="0.5"/>
<line x1="127.40" y1="226.4" x2="127.40" y2="237.6" stroke="#7c7c7c" stroke-width="1.0"/>
<rect x="123.72" y="229.7" width="7.36" height="3.40" fill="#abd993" stroke="#86bf6b" stroke-width="0.5"/>
<line x1="123.72" y1="231.5" x2="131.08" y2="231.5" stroke="#36632a" stroke-width="1.0"/>
<circle cx="127.40" cy="219.6" r="0.45" fill="#777"/>
<circle cx="126.66" cy="227.40" r="0.4" fill="#555" fill-opacity="0.5"/>
<circle cx="126.91" cy="231.32" r="0.4" fill="#555" fill-opacity="0.5"/>
<circle cx="126.60" cy="234.50" r="0.4" fill="#555" fill-opacity="0.5"/>
<circle cx="127.97" cy="235.82" r="0.4" fill="#555" fill-opacity="0.5"/>
<circle cx="127.28" cy="235.21" r="0.4" fill="#555" fill-opacity="0.5"/>
<circle cx="127.66" cy="229.57" r="0.4" fill="#555" fill-opacity="0.5"/>
<circle cx="127.27" cy="232.16" r="0.4" fill="#555" fill-opacity="0.5"/>
<circle cx="127.30" cy="230.19" r="0.4" fill="#555" fill-opacity="0.5"/>
<circle cx="127.92" cy="233.86" r="0.4" fill="#555" fill-opacity="0.5"/>
<circle cx="126.86" cy="236.52" r="0.4" fill="#555" fill-opacity="0.5"/>
<circle cx="127.31" cy="229.71" r="0.4" fill="#555" fill-opacity="0.5"/>
<circle cx="127.16" cy="232.71" r="0.4" fill="#555" fill-opacity="0.5"/>
<circle cx="126.74" cy="228.59" r="0.4" fill="#555" fill-opacity="0.5"/>
<circle cx="127.34" cy="230.03" r="0.4" fill="#555" fill-opacity="0.5"/>
<circle cx="128.05" cy="237.28" r="0.4" fill="#555" fill-opacity="0.5"/>
<circle cx="128.16" cy="236.09" r="0.4" fill="#555" fill-opacity="0.5"/>
<line x1="138.50" y1="215.1" x2="138.50" y2="229.7" stroke="#7c7c7c" stroke-width="1.0"/>
<rect x="134.82" y="224.1" width="7.36" height="4.50" fill="#abd1f3" stroke="#86b6e2" stroke-width="0.5"/>
<line x1="134.82" y1="226.8" x2="142.18" y2="226.8" stroke="#2a5a8a" stroke-width="1.0"/>
<circle cx="138.69" cy="229.14" r="0.4" fill="#555" fill-opacity="0.5"/>
<circle cx="137.80" cy="226.94" r="0.4" fill="#555" fill-opacity="0.5"/>
<circle cx="138.67" cy="224.98" r="0.4" fill="#555" fill-opacity="0.5"/>
<circle cx="138.61" cy="219.44" r="0.4" fill="#555" fill-opacity="0.5"/>
<circle cx="138.47" cy="229.01" r="0.4" fill="#555" fill-opacity="0.5"/>
<circle cx="138.18" cy="224.55" r="0.4" fill="#555" fill-opacity="0.5"/>
<circle cx="139.12" cy="220.11" r="0.4" fill="#555" fill-opacity="0.5"/>
<circle cx="138.00" cy="215.51" r="0.4" fill="#555" fill-opacity="0.5"/>
<circle cx="138.42" cy="225.01" r="0.4" fill="#555" fill-opacity="0.5"/>
<circle cx="138.76" cy="216.34" r="0.4" fill="#555" fill-opacity="0.5"/>
<circle cx="138.63" cy="220.53" r="0.4" fill="#555" fill-opacity="0.5"/>
<circle cx="138.55" cy="221.18" r="0.4" fill="#555" fill-opacity="0.5"/>
<circle cx="138.33" cy="223.35" r="0.4" fill="#555" fill-opacity="0.5"/>
<circle cx="137.99" cy="216.77" r="0.4" fill="#555" fill-opacity="0.5"/>
<circle cx="138.58" cy="228.09" r="0.4" fill="#555" fill-opacity="0.5"/>
<circle cx="139.08" cy="216.74" r="0.4" fill="#555" fill-opacity="0.5"/>
<circle cx="137.85" cy="218.80" r="0.4" fill="#555" fill-opacity="0.5"/>
<circle cx="138.10" cy="222.85" r="0.4" fill="#555" fill-opacity="0.5"/>
<circle cx="138.59" cy="222.24" r="0.4" fill="#555" fill-opacity="0.5"/>
<line x1="109.3" y1="213.0" x2="109.3" y2="257.90000000000003" stroke="#222" stroke-width="1.2"/>
<line x1="108.7" y1="257.3" x2="145.0" y2="257.3" stroke="#222" stroke-width="1.2"/>
<line x1="116.20" y1="257.3" x2="116.20" y2="260.0" stroke="#333" stroke-width="1.1"/>
<line x1="127.40" y1="257.3" x2="127.40" y2="260.0" stroke="#333" stroke-width="1.1"/>
<line x1="138.50" y1="257.3" x2="138.50" y2="260.0" stroke="#333" stroke-width="1.1"/>
<text x="183.50" y="198.1" font-size="8.0" fill="#262626" textLength="19.80" lengthAdjust="spacingAndGlyphs">PAK4</text>
<text x="177.00" y="208.0" font-size="6.0" fill="#505050" textLength="33.60" lengthAdjust="spacingAndGlyphs"><tspan font-style="italic">P</tspan>-val: .0018</text>
<line x1="172.50" y1="221.4" x2="175.5" y2="221.4" stroke="#333" stroke-width="1.0"/>
<text x="169.90" y="223.60" font-size="6.2" fill="#2e2e2e" stroke="#2e2e2e" stroke-width="0.12" text-anchor="end" textLength="8.01" lengthAdjust="spacingAndGlyphs">0.3</text>
<line x1="172.50" y1="233.1" x2="175.5" y2="233.1" stroke="#333" stroke-width="1.0"/>
<text x="169.90" y="235.30" font-size="6.2" fill="#2e2e2e" stroke="#2e2e2e" stroke-width="0.12" text-anchor="end" textLength="8.01" lengthAdjust="spacingAndGlyphs">0.0</text>
<line x1="172.50" y1="245" x2="175.5" y2="245" stroke="#333" stroke-width="1.0"/>
<text x="169.90" y="247.20" font-size="6.2" fill="#2e2e2e" stroke="#2e2e2e" stroke-width="0.12" text-anchor="end" textLength="11.38" lengthAdjust="spacingAndGlyphs">−0.3</text>
<line x1="172.50" y1="256.7" x2="175.5" y2="256.7" stroke="#333" stroke-width="1.0"/>
<text x="169.90" y="258.90" font-size="6.2" fill="#2e2e2e" stroke="#2e2e2e" stroke-width="0.12" text-anchor="end" textLength="11.38" lengthAdjust="spacingAndGlyphs">−0.6</text>
<line x1="182.30" y1="219" x2="182.30" y2="248.2" stroke="#7c7c7c" stroke-width="1.0"/>
<rect x="178.65" y="227.5" width="7.29" height="16.20" fill="#ef8f83" stroke="#d8776b" stroke-width="0.5"/>
<line x1="178.65" y1="242.8" x2="185.95" y2="242.8" stroke="#962c24" stroke-width="1.0"/>
<circle cx="182.42" cy="225.62" r="0.4" fill="#555" fill-opacity="0.5"/>
<circle cx="182.32" cy="222.30" r="0.4" fill="#555" fill-opacity="0.5"/>
<circle cx="181.63" cy="236.18" r="0.4" fill="#555" fill-opacity="0.5"/>
<circle cx="181.62" cy="230.91" r="0.4" fill="#555" fill-opacity="0.5"/>
<circle cx="182.88" cy="231.83" r="0.4" fill="#555" fill-opacity="0.5"/>
<circle cx="182.64" cy="235.08" r="0.4" fill="#555" fill-opacity="0.5"/>
<circle cx="181.68" cy="241.10" r="0.4" fill="#555" fill-opacity="0.5"/>
<circle cx="182.65" cy="247.93" r="0.4" fill="#555" fill-opacity="0.5"/>
<circle cx="182.83" cy="221.98" r="0.4" fill="#555" fill-opacity="0.5"/>
<circle cx="181.77" cy="230.45" r="0.4" fill="#555" fill-opacity="0.5"/>
<circle cx="182.40" cy="247.03" r="0.4" fill="#555" fill-opacity="0.5"/>
<circle cx="181.72" cy="241.63" r="0.4" fill="#555" fill-opacity="0.5"/>
<circle cx="181.59" cy="241.66" r="0.4" fill="#555" fill-opacity="0.5"/>
<circle cx="182.10" cy="225.92" r="0.4" fill="#555" fill-opacity="0.5"/>
<circle cx="182.45" cy="219.44" r="0.4" fill="#555" fill-opacity="0.5"/>
<circle cx="181.98" cy="225.22" r="0.4" fill="#555" fill-opacity="0.5"/>
<circle cx="182.18" cy="239.66" r="0.4" fill="#555" fill-opacity="0.5"/>
<circle cx="182.49" cy="244.95" r="0.4" fill="#555" fill-opacity="0.5"/>
<circle cx="182.40" cy="244.47" r="0.4" fill="#555" fill-opacity="0.5"/>
<circle cx="182.89" cy="245.79" r="0.4" fill="#555" fill-opacity="0.5"/>
<circle cx="182.69" cy="223.91" r="0.4" fill="#555" fill-opacity="0.5"/>
<circle cx="182.72" cy="228.97" r="0.4" fill="#555" fill-opacity="0.5"/>
<circle cx="182.82" cy="238.87" r="0.4" fill="#555" fill-opacity="0.5"/>
<circle cx="182.10" cy="222.58" r="0.4" fill="#555" fill-opacity="0.5"/>
<circle cx="183.02" cy="240.53" r="0.4" fill="#555" fill-opacity="0.5"/>
<circle cx="181.57" cy="240.08" r="0.4" fill="#555" fill-opacity="0.5"/>
<circle cx="181.66" cy="236.63" r="0.4" fill="#555" fill-opacity="0.5"/>
<circle cx="182.78" cy="235.03" r="0.4" fill="#555" fill-opacity="0.5"/>
<circle cx="182.98" cy="222.30" r="0.4" fill="#555" fill-opacity="0.5"/>
<circle cx="181.91" cy="238.72" r="0.4" fill="#555" fill-opacity="0.5"/>
<circle cx="182.21" cy="224.64" r="0.4" fill="#555" fill-opacity="0.5"/>
<circle cx="182.43" cy="243.47" r="0.4" fill="#555" fill-opacity="0.5"/>
<line x1="193.40" y1="215.1" x2="193.40" y2="246.6" stroke="#7c7c7c" stroke-width="1.0"/>
<rect x="189.75" y="225.2" width="7.29" height="11.30" fill="#abd993" stroke="#86bf6b" stroke-width="0.5"/>
<line x1="189.75" y1="232.4" x2="197.05" y2="232.4" stroke="#36632a" stroke-width="1.0"/>
<circle cx="192.63" cy="218.68" r="0.4" fill="#555" fill-opacity="0.5"/>
<circle cx="193.88" cy="218.58" r="0.4" fill="#555" fill-opacity="0.5"/>
<circle cx="193.49" cy="220.94" r="0.4" fill="#555" fill-opacity="0.5"/>
<circle cx="193.70" cy="224.24" r="0.4" fill="#555" fill-opacity="0.5"/>
<circle cx="192.83" cy="227.10" r="0.4" fill="#555" fill-opacity="0.5"/>
<circle cx="193.46" cy="242.68" r="0.4" fill="#555" fill-opacity="0.5"/>
<circle cx="193.89" cy="236.82" r="0.4" fill="#555" fill-opacity="0.5"/>
<circle cx="192.62" cy="244.99" r="0.4" fill="#555" fill-opacity="0.5"/>
<circle cx="192.84" cy="225.88" r="0.4" fill="#555" fill-opacity="0.5"/>
<circle cx="194.00" cy="230.91" r="0.4" fill="#555" fill-opacity="0.5"/>
<circle cx="192.66" cy="240.31" r="0.4" fill="#555" fill-opacity="0.5"/>
<circle cx="193.91" cy="220.84" r="0.4" fill="#555" fill-opacity="0.5"/>
<circle cx="193.23" cy="236.50" r="0.4" fill="#555" fill-opacity="0.5"/>
<circle cx="192.85" cy="230.09" r="0.4" fill="#555" fill-opacity="0.5"/>
<circle cx="193.23" cy="241.72" r="0.4" fill="#555" fill-opacity="0.5"/>
<circle cx="193.58" cy="242.60" r="0.4" fill="#555" fill-opacity="0.5"/>
<circle cx="193.13" cy="217.49" r="0.4" fill="#555" fill-opacity="0.5"/>
<circle cx="194.03" cy="221.91" r="0.4" fill="#555" fill-opacity="0.5"/>
<circle cx="192.67" cy="233.66" r="0.4" fill="#555" fill-opacity="0.5"/>
<circle cx="193.18" cy="220.45" r="0.4" fill="#555" fill-opacity="0.5"/>
<circle cx="193.52" cy="229.83" r="0.4" fill="#555" fill-opacity="0.5"/>
<circle cx="193.17" cy="227.32" r="0.4" fill="#555" fill-opacity="0.5"/>
<circle cx="193.53" cy="215.29" r="0.4" fill="#555" fill-opacity="0.5"/>
<circle cx="192.63" cy="225.61" r="0.4" fill="#555" fill-opacity="0.5"/>
<circle cx="194.18" cy="229.57" r="0.4" fill="#555" fill-opacity="0.5"/>
<circle cx="192.83" cy="216.53" r="0.4" fill="#555" fill-opacity="0.5"/>
<circle cx="193.04" cy="236.24" r="0.4" fill="#555" fill-opacity="0.5"/>
<circle cx="193.40" cy="223.71" r="0.4" fill="#555" fill-opacity="0.5"/>
<circle cx="193.51" cy="223.36" r="0.4" fill="#555" fill-opacity="0.5"/>
<circle cx="194.13" cy="231.74" r="0.4" fill="#555" fill-opacity="0.5"/>
<circle cx="192.65" cy="246.35" r="0.4" fill="#555" fill-opacity="0.5"/>
<circle cx="193.83" cy="232.76" r="0.4" fill="#555" fill-opacity="0.5"/>
<circle cx="193.84" cy="242.58" r="0.4" fill="#555" fill-opacity="0.5"/>
<circle cx="193.62" cy="235.04" r="0.4" fill="#555" fill-opacity="0.5"/>
<line x1="204.40" y1="218.5" x2="204.40" y2="245" stroke="#7c7c7c" stroke-width="1.0"/>
<rect x="200.75" y="225.2" width="7.29" height="13.50" fill="#abd1f3" stroke="#86b6e2" stroke-width="0.5"/>
<line x1="200.75" y1="226.4" x2="208.05" y2="226.4" stroke="#2a5a8a" stroke-width="1.0"/>
<circle cx="204.05" cy="228.12" r="0.4" fill="#555" fill-opacity="0.5"/>
<circle cx="205.00" cy="239.58" r="0.4" fill="#555" fill-opacity="0.5"/>
<circle cx="204.69" cy="243.37" r="0.4" fill="#555" fill-opacity="0.5"/>
<circle cx="204.82" cy="226.56" r="0.4" fill="#555" fill-opacity="0.5"/>
<circle cx="204.41" cy="238.10" r="0.4" fill="#555" fill-opacity="0.5"/>
<circle cx="204.16" cy="235.33" r="0.4" fill="#555" fill-opacity="0.5"/>
<circle cx="204.25" cy="233.09" r="0.4" fill="#555" fill-opacity="0.5"/>
<circle cx="204.14" cy="220.10" r="0.4" fill="#555" fill-opacity="0.5"/>
<circle cx="205.18" cy="227.06" r="0.4" fill="#555" fill-opacity="0.5"/>
<circle cx="204.19" cy="231.26" r="0.4" fill="#555" fill-opacity="0.5"/>
<circle cx="203.98" cy="224.95" r="0.4" fill="#555" fill-opacity="0.5"/>
<circle cx="203.82" cy="227.75" r="0.4" fill="#555" fill-opacity="0.5"/>
<circle cx="204.99" cy="218.69" r="0.4" fill="#555" fill-opacity="0.5"/>
<circle cx="204.31" cy="230.51" r="0.4" fill="#555" fill-opacity="0.5"/>
<circle cx="204.08" cy="233.57" r="0.4" fill="#555" fill-opacity="0.5"/>
<circle cx="203.71" cy="222.98" r="0.4" fill="#555" fill-opacity="0.5"/>
<circle cx="204.09" cy="226.49" r="0.4" fill="#555" fill-opacity="0.5"/>
<circle cx="204.48" cy="237.76" r="0.4" fill="#555" fill-opacity="0.5"/>
<circle cx="204.14" cy="243.34" r="0.4" fill="#555" fill-opacity="0.5"/>
<circle cx="204.53" cy="242.91" r="0.4" fill="#555" fill-opacity="0.5"/>
<circle cx="203.89" cy="220.62" r="0.4" fill="#555" fill-opacity="0.5"/>
<circle cx="205.18" cy="233.88" r="0.4" fill="#555" fill-opacity="0.5"/>
<circle cx="204.84" cy="227.96" r="0.4" fill="#555" fill-opacity="0.5"/>
<circle cx="204.99" cy="229.85" r="0.4" fill="#555" fill-opacity="0.5"/>
<circle cx="204.38" cy="220.30" r="0.4" fill="#555" fill-opacity="0.5"/>
<circle cx="204.04" cy="242.33" r="0.4" fill="#555" fill-opacity="0.5"/>
<circle cx="203.64" cy="225.32" r="0.4" fill="#555" fill-opacity="0.5"/>
<circle cx="204.03" cy="222.86" r="0.4" fill="#555" fill-opacity="0.5"/>
<circle cx="203.95" cy="237.17" r="0.4" fill="#555" fill-opacity="0.5"/>
<line x1="175.5" y1="213.0" x2="175.5" y2="257.90000000000003" stroke="#222" stroke-width="1.2"/>
<line x1="174.9" y1="257.3" x2="210.9" y2="257.3" stroke="#222" stroke-width="1.2"/>
<line x1="182.30" y1="257.3" x2="182.30" y2="260.0" stroke="#333" stroke-width="1.1"/>
<line x1="193.40" y1="257.3" x2="193.40" y2="260.0" stroke="#333" stroke-width="1.1"/>
<line x1="204.40" y1="257.3" x2="204.40" y2="260.0" stroke="#333" stroke-width="1.1"/>
<text x="239.30" y="198.1" font-size="8.0" fill="#262626" textLength="40.50" lengthAdjust="spacingAndGlyphs">14-3-3 Zeta</text>
<text x="243.20" y="208.0" font-size="6.0" fill="#505050" textLength="32.80" lengthAdjust="spacingAndGlyphs"><tspan font-style="italic">P</tspan>-val: .0338</text>
<line x1="238.50" y1="219.6" x2="241.5" y2="219.6" stroke="#333" stroke-width="1.0"/>
<text x="235.90" y="221.80" font-size="6.2" fill="#2e2e2e" stroke="#2e2e2e" stroke-width="0.12" text-anchor="end" textLength="8.01" lengthAdjust="spacingAndGlyphs">0.2</text>
<line x1="238.50" y1="228.9" x2="241.5" y2="228.9" stroke="#333" stroke-width="1.0"/>
<text x="235.90" y="231.10" font-size="6.2" fill="#2e2e2e" stroke="#2e2e2e" stroke-width="0.12" text-anchor="end" textLength="8.01" lengthAdjust="spacingAndGlyphs">0.0</text>
<line x1="238.50" y1="238.7" x2="241.5" y2="238.7" stroke="#333" stroke-width="1.0"/>
<text x="235.90" y="240.90" font-size="6.2" fill="#2e2e2e" stroke="#2e2e2e" stroke-width="0.12" text-anchor="end" textLength="11.38" lengthAdjust="spacingAndGlyphs">−0.2</text>
<line x1="238.50" y1="248.9" x2="241.5" y2="248.9" stroke="#333" stroke-width="1.0"/>
<text x="235.90" y="251.10" font-size="6.2" fill="#2e2e2e" stroke="#2e2e2e" stroke-width="0.12" text-anchor="end" textLength="11.38" lengthAdjust="spacingAndGlyphs">−0.4</text>
<line x1="248.20" y1="218" x2="248.20" y2="255.6" stroke="#7c7c7c" stroke-width="1.0"/>
<rect x="244.50" y="228.2" width="7.39" height="14.60" fill="#ef8f83" stroke="#d8776b" stroke-width="0.5"/>
<line x1="244.50" y1="238.7" x2="251.90" y2="238.7" stroke="#962c24" stroke-width="1.0"/>
<circle cx="247.72" cy="233.02" r="0.4" fill="#555" fill-opacity="0.5"/>
<circle cx="248.78" cy="240.67" r="0.4" fill="#555" fill-opacity="0.5"/>
<circle cx="247.71" cy="242.37" r="0.4" fill="#555" fill-opacity="0.5"/>
<circle cx="248.94" cy="245.59" r="0.4" fill="#555" fill-opacity="0.5"/>
<circle cx="247.53" cy="240.60" r="0.4" fill="#555" fill-opacity="0.5"/>
<circle cx="248.80" cy="248.44" r="0.4" fill="#555" fill-opacity="0.5"/>
<circle cx="247.62" cy="230.83" r="0.4" fill="#555" fill-opacity="0.5"/>
<circle cx="248.26" cy="225.08" r="0.4" fill="#555" fill-opacity="0.5"/>
<circle cx="248.42" cy="250.92" r="0.4" fill="#555" fill-opacity="0.5"/>
<circle cx="247.74" cy="252.70" r="0.4" fill="#555" fill-opacity="0.5"/>
<circle cx="248.60" cy="230.29" r="0.4" fill="#555" fill-opacity="0.5"/>
<circle cx="248.05" cy="242.40" r="0.4" fill="#555" fill-opacity="0.5"/>
<circle cx="247.94" cy="243.53" r="0.4" fill="#555" fill-opacity="0.5"/>
<circle cx="248.06" cy="220.16" r="0.4" fill="#555" fill-opacity="0.5"/>
<circle cx="248.40" cy="219.71" r="0.4" fill="#555" fill-opacity="0.5"/>
<circle cx="248.19" cy="230.58" r="0.4" fill="#555" fill-opacity="0.5"/>
<circle cx="247.81" cy="240.48" r="0.4" fill="#555" fill-opacity="0.5"/>
<circle cx="247.42" cy="235.42" r="0.4" fill="#555" fill-opacity="0.5"/>
<circle cx="248.30" cy="252.79" r="0.4" fill="#555" fill-opacity="0.5"/>
<circle cx="247.49" cy="255.13" r="0.4" fill="#555" fill-opacity="0.5"/>
<circle cx="248.56" cy="241.09" r="0.4" fill="#555" fill-opacity="0.5"/>
<circle cx="247.55" cy="230.38" r="0.4" fill="#555" fill-opacity="0.5"/>
<circle cx="247.63" cy="223.87" r="0.4" fill="#555" fill-opacity="0.5"/>
<circle cx="247.54" cy="246.85" r="0.4" fill="#555" fill-opacity="0.5"/>
<circle cx="248.08" cy="248.61" r="0.4" fill="#555" fill-opacity="0.5"/>
<circle cx="248.34" cy="238.25" r="0.4" fill="#555" fill-opacity="0.5"/>
<circle cx="248.45" cy="238.87" r="0.4" fill="#555" fill-opacity="0.5"/>
<circle cx="247.93" cy="240.62" r="0.4" fill="#555" fill-opacity="0.5"/>
<circle cx="247.81" cy="245.86" r="0.4" fill="#555" fill-opacity="0.5"/>
<circle cx="248.62" cy="244.75" r="0.4" fill="#555" fill-opacity="0.5"/>
<circle cx="247.89" cy="247.18" r="0.4" fill="#555" fill-opacity="0.5"/>
<circle cx="248.96" cy="247.05" r="0.4" fill="#555" fill-opacity="0.5"/>
<circle cx="247.85" cy="235.04" r="0.4" fill="#555" fill-opacity="0.5"/>
<circle cx="248.91" cy="237.68" r="0.4" fill="#555" fill-opacity="0.5"/>
<circle cx="247.41" cy="222.96" r="0.4" fill="#555" fill-opacity="0.5"/>
<circle cx="248.45" cy="235.89" r="0.4" fill="#555" fill-opacity="0.5"/>
<circle cx="247.98" cy="247.11" r="0.4" fill="#555" fill-opacity="0.5"/>
<circle cx="247.77" cy="255.21" r="0.4" fill="#555" fill-opacity="0.5"/>
<circle cx="247.54" cy="246.45" r="0.4" fill="#555" fill-opacity="0.5"/>
<line x1="259.40" y1="223" x2="259.40" y2="252.2" stroke="#7c7c7c" stroke-width="1.0"/>
<rect x="255.70" y="231.5" width="7.39" height="9.50" fill="#abd993" stroke="#86bf6b" stroke-width="0.5"/>
<line x1="255.70" y1="234.2" x2="263.10" y2="234.2" stroke="#36632a" stroke-width="1.0"/>
<circle cx="258.81" cy="223.82" r="0.4" fill="#555" fill-opacity="0.5"/>
<circle cx="259.40" cy="224.76" r="0.4" fill="#555" fill-opacity="0.5"/>
<circle cx="258.89" cy="239.21" r="0.4" fill="#555" fill-opacity="0.5"/>
<circle cx="259.18" cy="250.44" r="0.4" fill="#555" fill-opacity="0.5"/>
<circle cx="258.88" cy="227.36" r="0.4" fill="#555" fill-opacity="0.5"/>
<circle cx="260.07" cy="244.54" r="0.4" fill="#555" fill-opacity="0.5"/>
<circle cx="258.65" cy="227.73" r="0.4" fill="#555" fill-opacity="0.5"/>
<circle cx="258.99" cy="245.72" r="0.4" fill="#555" fill-opacity="0.5"/>
<circle cx="259.40" cy="251.68" r="0.4" fill="#555" fill-opacity="0.5"/>
<circle cx="259.15" cy="241.57" r="0.4" fill="#555" fill-opacity="0.5"/>
<circle cx="259.34" cy="246.38" r="0.4" fill="#555" fill-opacity="0.5"/>
<circle cx="260.05" cy="232.46" r="0.4" fill="#555" fill-opacity="0.5"/>
<circle cx="259.77" cy="226.15" r="0.4" fill="#555" fill-opacity="0.5"/>
<circle cx="259.63" cy="224.91" r="0.4" fill="#555" fill-opacity="0.5"/>
<circle cx="259.98" cy="234.73" r="0.4" fill="#555" fill-opacity="0.5"/>
<circle cx="259.50" cy="224.75" r="0.4" fill="#555" fill-opacity="0.5"/>
<circle cx="260.07" cy="234.97" r="0.4" fill="#555" fill-opacity="0.5"/>
<circle cx="259.60" cy="250.59" r="0.4" fill="#555" fill-opacity="0.5"/>
<circle cx="259.00" cy="229.54" r="0.4" fill="#555" fill-opacity="0.5"/>
<circle cx="259.29" cy="230.66" r="0.4" fill="#555" fill-opacity="0.5"/>
<circle cx="258.93" cy="229.76" r="0.4" fill="#555" fill-opacity="0.5"/>
<circle cx="259.63" cy="245.17" r="0.4" fill="#555" fill-opacity="0.5"/>
<circle cx="260.19" cy="231.72" r="0.4" fill="#555" fill-opacity="0.5"/>
<circle cx="259.51" cy="229.32" r="0.4" fill="#555" fill-opacity="0.5"/>
<circle cx="259.98" cy="227.58" r="0.4" fill="#555" fill-opacity="0.5"/>
<circle cx="259.03" cy="248.38" r="0.4" fill="#555" fill-opacity="0.5"/>
<circle cx="259.92" cy="244.94" r="0.4" fill="#555" fill-opacity="0.5"/>
<circle cx="259.13" cy="231.25" r="0.4" fill="#555" fill-opacity="0.5"/>
<circle cx="260.03" cy="237.18" r="0.4" fill="#555" fill-opacity="0.5"/>
<circle cx="259.69" cy="227.72" r="0.4" fill="#555" fill-opacity="0.5"/>
<circle cx="259.32" cy="240.45" r="0.4" fill="#555" fill-opacity="0.5"/>
<circle cx="260.01" cy="239.91" r="0.4" fill="#555" fill-opacity="0.5"/>
<line x1="270.60" y1="218" x2="270.60" y2="235.4" stroke="#7c7c7c" stroke-width="1.0"/>
<rect x="266.90" y="224.1" width="7.39" height="5.20" fill="#abd1f3" stroke="#86b6e2" stroke-width="0.5"/>
<line x1="266.90" y1="226.8" x2="274.30" y2="226.8" stroke="#2a5a8a" stroke-width="1.0"/>
<circle cx="271.21" cy="221.65" r="0.4" fill="#555" fill-opacity="0.5"/>
<circle cx="271.05" cy="224.27" r="0.4" fill="#555" fill-opacity="0.5"/>
<circle cx="270.09" cy="233.02" r="0.4" fill="#555" fill-opacity="0.5"/>
<circle cx="271.39" cy="233.03" r="0.4" fill="#555" fill-opacity="0.5"/>
<circle cx="269.84" cy="223.18" r="0.4" fill="#555" fill-opacity="0.5"/>
<circle cx="271.36" cy="219.94" r="0.4" fill="#555" fill-opacity="0.5"/>
<circle cx="271.26" cy="218.16" r="0.4" fill="#555" fill-opacity="0.5"/>
<circle cx="270.98" cy="220.62" r="0.4" fill="#555" fill-opacity="0.5"/>
<circle cx="270.07" cy="219.70" r="0.4" fill="#555" fill-opacity="0.5"/>
<circle cx="269.94" cy="229.88" r="0.4" fill="#555" fill-opacity="0.5"/>
<circle cx="271.27" cy="223.91" r="0.4" fill="#555" fill-opacity="0.5"/>
<circle cx="271.21" cy="230.46" r="0.4" fill="#555" fill-opacity="0.5"/>
<circle cx="269.85" cy="235.05" r="0.4" fill="#555" fill-opacity="0.5"/>
<circle cx="271.07" cy="222.08" r="0.4" fill="#555" fill-opacity="0.5"/>
<circle cx="269.86" cy="230.00" r="0.4" fill="#555" fill-opacity="0.5"/>
<circle cx="270.17" cy="226.78" r="0.4" fill="#555" fill-opacity="0.5"/>
<circle cx="269.97" cy="225.49" r="0.4" fill="#555" fill-opacity="0.5"/>
<circle cx="271.39" cy="218.35" r="0.4" fill="#555" fill-opacity="0.5"/>
<circle cx="271.21" cy="223.51" r="0.4" fill="#555" fill-opacity="0.5"/>
<circle cx="270.58" cy="220.10" r="0.4" fill="#555" fill-opacity="0.5"/>
<circle cx="270.49" cy="220.36" r="0.4" fill="#555" fill-opacity="0.5"/>
<line x1="241.5" y1="213.0" x2="241.5" y2="257.90000000000003" stroke="#222" stroke-width="1.2"/>
<line x1="240.9" y1="257.3" x2="277.3" y2="257.3" stroke="#222" stroke-width="1.2"/>
<line x1="248.20" y1="257.3" x2="248.20" y2="260.0" stroke="#333" stroke-width="1.1"/>
<line x1="259.40" y1="257.3" x2="259.40" y2="260.0" stroke="#333" stroke-width="1.1"/>
<line x1="270.60" y1="257.3" x2="270.60" y2="260.0" stroke="#333" stroke-width="1.1"/>
<text x="311.60" y="198.1" font-size="8.0" fill="#262626" textLength="13.60" lengthAdjust="spacingAndGlyphs">p27</text>
<text x="324.90" y="197.9" font-size="4.4" fill="#4a4a4a" textLength="15.70" lengthAdjust="spacingAndGlyphs">(T157)</text>
<text x="310.90" y="208.0" font-size="6.0" fill="#505050" textLength="29.70" lengthAdjust="spacingAndGlyphs"><tspan font-style="italic">P</tspan>-val: .003</text>
<line x1="308.00" y1="227" x2="311.0" y2="227" stroke="#333" stroke-width="1.0"/>
<text x="305.40" y="229.20" font-size="6.2" fill="#2e2e2e" stroke="#2e2e2e" stroke-width="0.12" text-anchor="end" textLength="8.01" lengthAdjust="spacingAndGlyphs">0.0</text>
<line x1="308.00" y1="240.5" x2="311.0" y2="240.5" stroke="#333" stroke-width="1.0"/>
<text x="305.40" y="242.70" font-size="6.2" fill="#2e2e2e" stroke="#2e2e2e" stroke-width="0.12" text-anchor="end" textLength="11.38" lengthAdjust="spacingAndGlyphs">−0.5</text>
<line x1="308.00" y1="254.3" x2="311.0" y2="254.3" stroke="#333" stroke-width="1.0"/>
<text x="305.40" y="256.50" font-size="6.2" fill="#2e2e2e" stroke="#2e2e2e" stroke-width="0.12" text-anchor="end" textLength="11.38" lengthAdjust="spacingAndGlyphs">−1.0</text>
<line x1="316.50" y1="218.5" x2="316.50" y2="246.6" stroke="#7c7c7c" stroke-width="1.0"/>
<rect x="313.40" y="224.1" width="6.20" height="10.10" fill="#ef8f83" stroke="#d8776b" stroke-width="0.5"/>
<line x1="313.40" y1="230.2" x2="319.60" y2="230.2" stroke="#962c24" stroke-width="1.0"/>
<circle cx="316.80" cy="223.53" r="0.4" fill="#555" fill-opacity="0.5"/>
<circle cx="316.88" cy="222.66" r="0.4" fill="#555" fill-opacity="0.5"/>
<circle cx="315.88" cy="232.57" r="0.4" fill="#555" fill-opacity="0.5"/>
<circle cx="316.49" cy="228.44" r="0.4" fill="#555" fill-opacity="0.5"/>
<circle cx="316.26" cy="244.32" r="0.4" fill="#555" fill-opacity="0.5"/>
<circle cx="317.25" cy="224.55" r="0.4" fill="#555" fill-opacity="0.5"/>
<circle cx="316.87" cy="243.32" r="0.4" fill="#555" fill-opacity="0.5"/>
<circle cx="315.98" cy="226.17" r="0.4" fill="#555" fill-opacity="0.5"/>
<circle cx="315.81" cy="225.94" r="0.4" fill="#555" fill-opacity="0.5"/>
<circle cx="316.51" cy="219.71" r="0.4" fill="#555" fill-opacity="0.5"/>
<circle cx="316.59" cy="229.97" r="0.4" fill="#555" fill-opacity="0.5"/>
<circle cx="315.72" cy="228.69" r="0.4" fill="#555" fill-opacity="0.5"/>
<circle cx="316.74" cy="237.84" r="0.4" fill="#555" fill-opacity="0.5"/>
<circle cx="316.58" cy="233.79" r="0.4" fill="#555" fill-opacity="0.5"/>
<circle cx="317.27" cy="237.90" r="0.4" fill="#555" fill-opacity="0.5"/>
<circle cx="316.85" cy="243.06" r="0.4" fill="#555" fill-opacity="0.5"/>
<circle cx="316.21" cy="229.72" r="0.4" fill="#555" fill-opacity="0.5"/>
<circle cx="317.26" cy="230.28" r="0.4" fill="#555" fill-opacity="0.5"/>
<circle cx="316.32" cy="229.38" r="0.4" fill="#555" fill-opacity="0.5"/>
<circle cx="315.93" cy="230.02" r="0.4" fill="#555" fill-opacity="0.5"/>
<circle cx="315.71" cy="246.55" r="0.4" fill="#555" fill-opacity="0.5"/>
<circle cx="317.18" cy="235.58" r="0.4" fill="#555" fill-opacity="0.5"/>
<circle cx="316.68" cy="225.66" r="0.4" fill="#555" fill-opacity="0.5"/>
<circle cx="316.09" cy="229.09" r="0.4" fill="#555" fill-opacity="0.5"/>
<circle cx="315.89" cy="224.08" r="0.4" fill="#555" fill-opacity="0.5"/>
<circle cx="316.95" cy="242.19" r="0.4" fill="#555" fill-opacity="0.5"/>
<circle cx="315.78" cy="244.03" r="0.4" fill="#555" fill-opacity="0.5"/>
<circle cx="316.22" cy="238.01" r="0.4" fill="#555" fill-opacity="0.5"/>
<circle cx="316.58" cy="236.66" r="0.4" fill="#555" fill-opacity="0.5"/>
<circle cx="317.25" cy="227.37" r="0.4" fill="#555" fill-opacity="0.5"/>
<circle cx="316.89" cy="218.53" r="0.4" fill="#555" fill-opacity="0.5"/>
<line x1="325.70" y1="215.1" x2="325.70" y2="236.5" stroke="#7c7c7c" stroke-width="1.0"/>
<rect x="322.60" y="223.4" width="6.20" height="5.20" fill="#abd993" stroke="#86bf6b" stroke-width="0.5"/>
<line x1="322.60" y1="226.8" x2="328.80" y2="226.8" stroke="#36632a" stroke-width="1.0"/>
<circle cx="325.72" cy="233.36" r="0.4" fill="#555" fill-opacity="0.5"/>
<circle cx="326.49" cy="227.78" r="0.4" fill="#555" fill-opacity="0.5"/>
<circle cx="325.91" cy="220.12" r="0.4" fill="#555" fill-opacity="0.5"/>
<circle cx="325.51" cy="231.01" r="0.4" fill="#555" fill-opacity="0.5"/>
<circle cx="325.53" cy="230.34" r="0.4" fill="#555" fill-opacity="0.5"/>
<circle cx="325.88" cy="226.36" r="0.4" fill="#555" fill-opacity="0.5"/>
<circle cx="325.42" cy="229.59" r="0.4" fill="#555" fill-opacity="0.5"/>
<circle cx="325.77" cy="228.56" r="0.4" fill="#555" fill-opacity="0.5"/>
<circle cx="325.88" cy="219.88" r="0.4" fill="#555" fill-opacity="0.5"/>
<circle cx="326.35" cy="220.77" r="0.4" fill="#555" fill-opacity="0.5"/>
<circle cx="326.05" cy="225.23" r="0.4" fill="#555" fill-opacity="0.5"/>
<circle cx="325.66" cy="226.27" r="0.4" fill="#555" fill-opacity="0.5"/>
<circle cx="325.13" cy="219.83" r="0.4" fill="#555" fill-opacity="0.5"/>
<circle cx="325.75" cy="234.94" r="0.4" fill="#555" fill-opacity="0.5"/>
<circle cx="325.74" cy="226.31" r="0.4" fill="#555" fill-opacity="0.5"/>
<circle cx="325.28" cy="232.51" r="0.4" fill="#555" fill-opacity="0.5"/>
<circle cx="326.22" cy="218.79" r="0.4" fill="#555" fill-opacity="0.5"/>
<circle cx="325.92" cy="224.95" r="0.4" fill="#555" fill-opacity="0.5"/>
<circle cx="326.33" cy="232.81" r="0.4" fill="#555" fill-opacity="0.5"/>
<circle cx="324.97" cy="233.67" r="0.4" fill="#555" fill-opacity="0.5"/>
<circle cx="326.23" cy="223.26" r="0.4" fill="#555" fill-opacity="0.5"/>
<circle cx="325.10" cy="232.60" r="0.4" fill="#555" fill-opacity="0.5"/>
<circle cx="325.30" cy="218.39" r="0.4" fill="#555" fill-opacity="0.5"/>
<circle cx="325.47" cy="217.30" r="0.4" fill="#555" fill-opacity="0.5"/>
<circle cx="325.73" cy="232.29" r="0.4" fill="#555" fill-opacity="0.5"/>
<line x1="335.30" y1="220.3" x2="335.30" y2="232" stroke="#7c7c7c" stroke-width="1.0"/>
<rect x="332.20" y="225.2" width="6.20" height="3.40" fill="#abd1f3" stroke="#86b6e2" stroke-width="0.5"/>
<line x1="332.20" y1="227" x2="338.40" y2="227" stroke="#2a5a8a" stroke-width="1.0"/>
<circle cx="334.64" cy="225.60" r="0.4" fill="#555" fill-opacity="0.5"/>
<circle cx="336.10" cy="224.93" r="0.4" fill="#555" fill-opacity="0.5"/>
<circle cx="335.22" cy="228.43" r="0.4" fill="#555" fill-opacity="0.5"/>
<circle cx="335.78" cy="225.90" r="0.4" fill="#555" fill-opacity="0.5"/>
<circle cx="334.74" cy="229.18" r="0.4" fill="#555" fill-opacity="0.5"/>
<circle cx="335.09" cy="228.26" r="0.4" fill="#555" fill-opacity="0.5"/>
<circle cx="334.88" cy="226.39" r="0.4" fill="#555" fill-opacity="0.5"/>
<circle cx="335.04" cy="224.64" r="0.4" fill="#555" fill-opacity="0.5"/>
<circle cx="334.53" cy="224.76" r="0.4" fill="#555" fill-opacity="0.5"/>
<circle cx="335.41" cy="222.65" r="0.4" fill="#555" fill-opacity="0.5"/>
<circle cx="334.79" cy="220.98" r="0.4" fill="#555" fill-opacity="0.5"/>
<circle cx="334.94" cy="228.70" r="0.4" fill="#555" fill-opacity="0.5"/>
<circle cx="334.89" cy="224.09" r="0.4" fill="#555" fill-opacity="0.5"/>
<circle cx="334.65" cy="230.06" r="0.4" fill="#555" fill-opacity="0.5"/>
<circle cx="335.87" cy="227.74" r="0.4" fill="#555" fill-opacity="0.5"/>
<circle cx="335.18" cy="222.66" r="0.4" fill="#555" fill-opacity="0.5"/>
<line x1="311.0" y1="213.0" x2="311.0" y2="257.90000000000003" stroke="#222" stroke-width="1.2"/>
<line x1="310.4" y1="257.3" x2="340.4" y2="257.3" stroke="#222" stroke-width="1.2"/>
<line x1="316.50" y1="257.3" x2="316.50" y2="260.0" stroke="#333" stroke-width="1.1"/>
<line x1="325.70" y1="257.3" x2="325.70" y2="260.0" stroke="#333" stroke-width="1.1"/>
<line x1="335.30" y1="257.3" x2="335.30" y2="260.0" stroke="#333" stroke-width="1.1"/>
<text x="368.50" y="198.1" font-size="8.0" fill="#262626" textLength="25.00" lengthAdjust="spacingAndGlyphs">Smad4</text>
<text x="366.00" y="208.0" font-size="6.0" fill="#505050" textLength="28.40" lengthAdjust="spacingAndGlyphs"><tspan font-style="italic">P</tspan>-val: .014</text>
<line x1="363.50" y1="226.8" x2="366.5" y2="226.8" stroke="#333" stroke-width="1.0"/>
<text x="360.90" y="229.00" font-size="6.2" fill="#2e2e2e" stroke="#2e2e2e" stroke-width="0.12" text-anchor="end" textLength="3.21" lengthAdjust="spacingAndGlyphs">0</text>
<line x1="363.50" y1="243.2" x2="366.5" y2="243.2" stroke="#333" stroke-width="1.0"/>
<text x="360.90" y="245.40" font-size="6.2" fill="#2e2e2e" stroke="#2e2e2e" stroke-width="0.12" text-anchor="end" textLength="6.57" lengthAdjust="spacingAndGlyphs">−1</text>
<line x1="371.70" y1="222.5" x2="371.70" y2="247.7" stroke="#7c7c7c" stroke-width="1.0"/>
<rect x="368.68" y="228.6" width="6.04" height="11.30" fill="#ef8f83" stroke="#d8776b" stroke-width="0.5"/>
<line x1="368.68" y1="234.2" x2="374.72" y2="234.2" stroke="#962c24" stroke-width="1.0"/>
<circle cx="371.89" cy="242.47" r="0.4" fill="#555" fill-opacity="0.5"/>
<circle cx="370.97" cy="231.86" r="0.4" fill="#555" fill-opacity="0.5"/>
<circle cx="371.49" cy="233.65" r="0.4" fill="#555" fill-opacity="0.5"/>
<circle cx="371.37" cy="240.46" r="0.4" fill="#555" fill-opacity="0.5"/>
<circle cx="371.94" cy="232.78" r="0.4" fill="#555" fill-opacity="0.5"/>
<circle cx="371.46" cy="242.93" r="0.4" fill="#555" fill-opacity="0.5"/>
<circle cx="371.83" cy="232.21" r="0.4" fill="#555" fill-opacity="0.5"/>
<circle cx="371.21" cy="245.81" r="0.4" fill="#555" fill-opacity="0.5"/>
<circle cx="372.04" cy="246.98" r="0.4" fill="#555" fill-opacity="0.5"/>
<circle cx="371.96" cy="231.88" r="0.4" fill="#555" fill-opacity="0.5"/>
<circle cx="371.01" cy="230.80" r="0.4" fill="#555" fill-opacity="0.5"/>
<circle cx="371.51" cy="241.55" r="0.4" fill="#555" fill-opacity="0.5"/>
<circle cx="371.69" cy="235.75" r="0.4" fill="#555" fill-opacity="0.5"/>
<circle cx="372.11" cy="245.21" r="0.4" fill="#555" fill-opacity="0.5"/>
<circle cx="371.85" cy="223.14" r="0.4" fill="#555" fill-opacity="0.5"/>
<circle cx="371.64" cy="234.16" r="0.4" fill="#555" fill-opacity="0.5"/>
<circle cx="371.56" cy="243.66" r="0.4" fill="#555" fill-opacity="0.5"/>
<circle cx="372.32" cy="234.43" r="0.4" fill="#555" fill-opacity="0.5"/>
<circle cx="371.69" cy="233.58" r="0.4" fill="#555" fill-opacity="0.5"/>
<circle cx="372.22" cy="235.40" r="0.4" fill="#555" fill-opacity="0.5"/>
<circle cx="372.08" cy="239.39" r="0.4" fill="#555" fill-opacity="0.5"/>
<circle cx="370.96" cy="232.62" r="0.4" fill="#555" fill-opacity="0.5"/>
<circle cx="371.79" cy="239.63" r="0.4" fill="#555" fill-opacity="0.5"/>
<circle cx="372.13" cy="241.88" r="0.4" fill="#555" fill-opacity="0.5"/>
<circle cx="371.25" cy="225.48" r="0.4" fill="#555" fill-opacity="0.5"/>
<circle cx="372.21" cy="224.44" r="0.4" fill="#555" fill-opacity="0.5"/>
<circle cx="371.04" cy="225.06" r="0.4" fill="#555" fill-opacity="0.5"/>
<circle cx="371.80" cy="241.48" r="0.4" fill="#555" fill-opacity="0.5"/>
<line x1="380.90" y1="218.5" x2="380.90" y2="236.5" stroke="#7c7c7c" stroke-width="1.0"/>
<rect x="377.88" y="227" width="6.04" height="7.20" fill="#abd993" stroke="#86bf6b" stroke-width="0.5"/>
<line x1="377.88" y1="231.5" x2="383.92" y2="231.5" stroke="#36632a" stroke-width="1.0"/>
<circle cx="381.19" cy="219.49" r="0.4" fill="#555" fill-opacity="0.5"/>
<circle cx="380.87" cy="231.30" r="0.4" fill="#555" fill-opacity="0.5"/>
<circle cx="381.21" cy="219.49" r="0.4" fill="#555" fill-opacity="0.5"/>
<circle cx="381.03" cy="226.02" r="0.4" fill="#555" fill-opacity="0.5"/>
<circle cx="381.41" cy="236.47" r="0.4" fill="#555" fill-opacity="0.5"/>
<circle cx="380.33" cy="234.19" r="0.4" fill="#555" fill-opacity="0.5"/>
<circle cx="380.93" cy="224.52" r="0.4" fill="#555" fill-opacity="0.5"/>
<circle cx="381.68" cy="218.61" r="0.4" fill="#555" fill-opacity="0.5"/>
<circle cx="380.52" cy="223.44" r="0.4" fill="#555" fill-opacity="0.5"/>
<circle cx="380.51" cy="224.13" r="0.4" fill="#555" fill-opacity="0.5"/>
<circle cx="380.99" cy="233.96" r="0.4" fill="#555" fill-opacity="0.5"/>
<circle cx="380.77" cy="227.70" r="0.4" fill="#555" fill-opacity="0.5"/>
<circle cx="380.59" cy="219.42" r="0.4" fill="#555" fill-opacity="0.5"/>
<circle cx="381.38" cy="234.10" r="0.4" fill="#555" fill-opacity="0.5"/>
<circle cx="380.51" cy="233.92" r="0.4" fill="#555" fill-opacity="0.5"/>
<circle cx="380.18" cy="222.14" r="0.4" fill="#555" fill-opacity="0.5"/>
<circle cx="380.70" cy="228.16" r="0.4" fill="#555" fill-opacity="0.5"/>
<circle cx="380.88" cy="226.86" r="0.4" fill="#555" fill-opacity="0.5"/>
<circle cx="380.69" cy="229.01" r="0.4" fill="#555" fill-opacity="0.5"/>
<circle cx="380.42" cy="232.93" r="0.4" fill="#555" fill-opacity="0.5"/>
<circle cx="380.99" cy="235.05" r="0.4" fill="#555" fill-opacity="0.5"/>
<circle cx="380.60" cy="219.42" r="0.4" fill="#555" fill-opacity="0.5"/>
<line x1="390.00" y1="215.1" x2="390.00" y2="229.7" stroke="#7c7c7c" stroke-width="1.0"/>
<rect x="386.98" y="221.2" width="6.04" height="5.60" fill="#abd1f3" stroke="#86b6e2" stroke-width="0.5"/>
<line x1="386.98" y1="224.6" x2="393.02" y2="224.6" stroke="#2a5a8a" stroke-width="1.0"/>
<circle cx="389.85" cy="222.88" r="0.4" fill="#555" fill-opacity="0.5"/>
<circle cx="389.72" cy="223.35" r="0.4" fill="#555" fill-opacity="0.5"/>
<circle cx="390.47" cy="219.09" r="0.4" fill="#555" fill-opacity="0.5"/>
<circle cx="390.34" cy="219.36" r="0.4" fill="#555" fill-opacity="0.5"/>
<circle cx="390.15" cy="226.82" r="0.4" fill="#555" fill-opacity="0.5"/>
<circle cx="390.70" cy="221.74" r="0.4" fill="#555" fill-opacity="0.5"/>
<circle cx="390.60" cy="221.60" r="0.4" fill="#555" fill-opacity="0.5"/>
<circle cx="389.89" cy="215.94" r="0.4" fill="#555" fill-opacity="0.5"/>
<circle cx="389.28" cy="224.43" r="0.4" fill="#555" fill-opacity="0.5"/>
<circle cx="389.32" cy="227.69" r="0.4" fill="#555" fill-opacity="0.5"/>
<circle cx="389.49" cy="223.81" r="0.4" fill="#555" fill-opacity="0.5"/>
<circle cx="390.10" cy="228.57" r="0.4" fill="#555" fill-opacity="0.5"/>
<circle cx="390.00" cy="226.79" r="0.4" fill="#555" fill-opacity="0.5"/>
<circle cx="390.28" cy="224.94" r="0.4" fill="#555" fill-opacity="0.5"/>
<circle cx="389.54" cy="219.41" r="0.4" fill="#555" fill-opacity="0.5"/>
<circle cx="389.43" cy="227.34" r="0.4" fill="#555" fill-opacity="0.5"/>
<circle cx="389.53" cy="228.50" r="0.4" fill="#555" fill-opacity="0.5"/>
<circle cx="389.35" cy="216.57" r="0.4" fill="#555" fill-opacity="0.5"/>
<circle cx="390.72" cy="226.55" r="0.4" fill="#555" fill-opacity="0.5"/>
<line x1="366.5" y1="213.0" x2="366.5" y2="257.90000000000003" stroke="#222" stroke-width="1.2"/>
<line x1="365.9" y1="257.3" x2="395.8" y2="257.3" stroke="#222" stroke-width="1.2"/>
<line x1="371.70" y1="257.3" x2="371.70" y2="260.0" stroke="#333" stroke-width="1.1"/>
<line x1="380.90" y1="257.3" x2="380.90" y2="260.0" stroke="#333" stroke-width="1.1"/>
<line x1="390.00" y1="257.3" x2="390.00" y2="260.0" stroke="#333" stroke-width="1.1"/>
<text x="421.30" y="192.1" font-size="8.0" fill="#262626" textLength="30.20" lengthAdjust="spacingAndGlyphs">PKCαβII</text>
<text x="422.40" y="197.3" font-size="4.6" fill="#5a5a5a" textLength="28.00" lengthAdjust="spacingAndGlyphs">(T638/T641)</text>
<text x="423.50" y="208.1" font-size="6.0" fill="#505050" textLength="25.80" lengthAdjust="spacingAndGlyphs"><tspan font-style="italic">P</tspan>-val: .01</text>
<line x1="418.25" y1="223.4" x2="421.25" y2="223.4" stroke="#333" stroke-width="1.0"/>
<text x="415.65" y="225.60" font-size="6.2" fill="#2e2e2e" stroke="#2e2e2e" stroke-width="0.12" text-anchor="end" textLength="3.21" lengthAdjust="spacingAndGlyphs">1</text>
<line x1="418.25" y1="234.2" x2="421.25" y2="234.2" stroke="#333" stroke-width="1.0"/>
<text x="415.65" y="236.40" font-size="6.2" fill="#2e2e2e" stroke="#2e2e2e" stroke-width="0.12" text-anchor="end" textLength="3.21" lengthAdjust="spacingAndGlyphs">0</text>
<line x1="418.25" y1="245.5" x2="421.25" y2="245.5" stroke="#333" stroke-width="1.0"/>
<text x="415.65" y="247.70" font-size="6.2" fill="#2e2e2e" stroke="#2e2e2e" stroke-width="0.12" text-anchor="end" textLength="6.57" lengthAdjust="spacingAndGlyphs">−1</text>
<line x1="418.25" y1="256.7" x2="421.25" y2="256.7" stroke="#333" stroke-width="1.0"/>
<text x="415.65" y="258.90" font-size="6.2" fill="#2e2e2e" stroke="#2e2e2e" stroke-width="0.12" text-anchor="end" textLength="6.57" lengthAdjust="spacingAndGlyphs">−2</text>
<line x1="427.00" y1="232" x2="427.00" y2="255.6" stroke="#7c7c7c" stroke-width="1.0"/>
<rect x="423.93" y="237.2" width="6.14" height="8.30" fill="#ef8f83" stroke="#d8776b" stroke-width="0.5"/>
<line x1="423.93" y1="243.2" x2="430.07" y2="243.2" stroke="#962c24" stroke-width="1.0"/>
<circle cx="427.00" cy="221.9" r="0.45" fill="#777"/>
<circle cx="427.25" cy="241.79" r="0.4" fill="#555" fill-opacity="0.5"/>
<circle cx="427.65" cy="238.08" r="0.4" fill="#555" fill-opacity="0.5"/>
<circle cx="426.45" cy="248.19" r="0.4" fill="#555" fill-opacity="0.5"/>
<circle cx="427.31" cy="233.34" r="0.4" fill="#555" fill-opacity="0.5"/>
<circle cx="427.54" cy="232.99" r="0.4" fill="#555" fill-opacity="0.5"/>
<circle cx="426.57" cy="238.93" r="0.4" fill="#555" fill-opacity="0.5"/>
<circle cx="426.71" cy="245.74" r="0.4" fill="#555" fill-opacity="0.5"/>
<circle cx="426.45" cy="245.23" r="0.4" fill="#555" fill-opacity="0.5"/>
<circle cx="426.72" cy="253.52" r="0.4" fill="#555" fill-opacity="0.5"/>
<circle cx="426.44" cy="251.85" r="0.4" fill="#555" fill-opacity="0.5"/>
<circle cx="427.77" cy="250.87" r="0.4" fill="#555" fill-opacity="0.5"/>
<circle cx="426.25" cy="241.24" r="0.4" fill="#555" fill-opacity="0.5"/>
<circle cx="427.23" cy="240.97" r="0.4" fill="#555" fill-opacity="0.5"/>
<circle cx="427.07" cy="237.27" r="0.4" fill="#555" fill-opacity="0.5"/>
<circle cx="426.94" cy="234.21" r="0.4" fill="#555" fill-opacity="0.5"/>
<circle cx="426.89" cy="249.19" r="0.4" fill="#555" fill-opacity="0.5"/>
<circle cx="426.38" cy="248.02" r="0.4" fill="#555" fill-opacity="0.5"/>
<circle cx="426.40" cy="251.55" r="0.4" fill="#555" fill-opacity="0.5"/>
<circle cx="427.79" cy="253.79" r="0.4" fill="#555" fill-opacity="0.5"/>
<circle cx="427.04" cy="254.17" r="0.4" fill="#555" fill-opacity="0.5"/>
<circle cx="426.76" cy="238.86" r="0.4" fill="#555" fill-opacity="0.5"/>
<circle cx="426.99" cy="249.71" r="0.4" fill="#555" fill-opacity="0.5"/>
<circle cx="426.35" cy="253.94" r="0.4" fill="#555" fill-opacity="0.5"/>
<circle cx="427.58" cy="243.44" r="0.4" fill="#555" fill-opacity="0.5"/>
<circle cx="427.07" cy="246.11" r="0.4" fill="#555" fill-opacity="0.5"/>
<circle cx="426.42" cy="234.09" r="0.4" fill="#555" fill-opacity="0.5"/>
<circle cx="427.63" cy="238.40" r="0.4" fill="#555" fill-opacity="0.5"/>
<line x1="436.20" y1="215.8" x2="436.20" y2="241" stroke="#7c7c7c" stroke-width="1.0"/>
<rect x="433.13" y="227.5" width="6.14" height="11.20" fill="#abd993" stroke="#86bf6b" stroke-width="0.5"/>
<line x1="433.13" y1="230.2" x2="439.27" y2="230.2" stroke="#36632a" stroke-width="1.0"/>
<circle cx="435.76" cy="237.10" r="0.4" fill="#555" fill-opacity="0.5"/>
<circle cx="435.45" cy="239.10" r="0.4" fill="#555" fill-opacity="0.5"/>
<circle cx="436.95" cy="230.89" r="0.4" fill="#555" fill-opacity="0.5"/>
<circle cx="436.91" cy="224.48" r="0.4" fill="#555" fill-opacity="0.5"/>
<circle cx="435.48" cy="232.34" r="0.4" fill="#555" fill-opacity="0.5"/>
<circle cx="436.12" cy="224.20" r="0.4" fill="#555" fill-opacity="0.5"/>
<circle cx="436.59" cy="222.03" r="0.4" fill="#555" fill-opacity="0.5"/>
<circle cx="436.66" cy="220.31" r="0.4" fill="#555" fill-opacity="0.5"/>
<circle cx="435.51" cy="223.32" r="0.4" fill="#555" fill-opacity="0.5"/>
<circle cx="435.55" cy="229.89" r="0.4" fill="#555" fill-opacity="0.5"/>
<circle cx="436.66" cy="229.70" r="0.4" fill="#555" fill-opacity="0.5"/>
<circle cx="436.14" cy="230.81" r="0.4" fill="#555" fill-opacity="0.5"/>
<circle cx="436.22" cy="216.65" r="0.4" fill="#555" fill-opacity="0.5"/>
<circle cx="436.43" cy="218.25" r="0.4" fill="#555" fill-opacity="0.5"/>
<circle cx="436.32" cy="219.13" r="0.4" fill="#555" fill-opacity="0.5"/>
<circle cx="436.00" cy="224.69" r="0.4" fill="#555" fill-opacity="0.5"/>
<circle cx="435.66" cy="232.51" r="0.4" fill="#555" fill-opacity="0.5"/>
<circle cx="436.91" cy="220.08" r="0.4" fill="#555" fill-opacity="0.5"/>
<circle cx="436.75" cy="224.16" r="0.4" fill="#555" fill-opacity="0.5"/>
<circle cx="436.17" cy="237.81" r="0.4" fill="#555" fill-opacity="0.5"/>
<circle cx="435.55" cy="219.56" r="0.4" fill="#555" fill-opacity="0.5"/>
<circle cx="435.59" cy="237.95" r="0.4" fill="#555" fill-opacity="0.5"/>
<circle cx="436.26" cy="228.30" r="0.4" fill="#555" fill-opacity="0.5"/>
<circle cx="436.15" cy="218.76" r="0.4" fill="#555" fill-opacity="0.5"/>
<circle cx="436.26" cy="219.93" r="0.4" fill="#555" fill-opacity="0.5"/>
<circle cx="435.99" cy="228.57" r="0.4" fill="#555" fill-opacity="0.5"/>
<circle cx="436.05" cy="220.78" r="0.4" fill="#555" fill-opacity="0.5"/>
<circle cx="435.60" cy="220.93" r="0.4" fill="#555" fill-opacity="0.5"/>
<line x1="445.60" y1="216.2" x2="445.60" y2="239.9" stroke="#7c7c7c" stroke-width="1.0"/>
<rect x="442.53" y="220.3" width="6.14" height="11.20" fill="#abd1f3" stroke="#86b6e2" stroke-width="0.5"/>
<line x1="442.53" y1="221.9" x2="448.67" y2="221.9" stroke="#2a5a8a" stroke-width="1.0"/>
<circle cx="446.19" cy="221.89" r="0.4" fill="#555" fill-opacity="0.5"/>
<circle cx="446.22" cy="228.09" r="0.4" fill="#555" fill-opacity="0.5"/>
<circle cx="446.31" cy="216.56" r="0.4" fill="#555" fill-opacity="0.5"/>
<circle cx="446.07" cy="227.78" r="0.4" fill="#555" fill-opacity="0.5"/>
<circle cx="445.90" cy="229.72" r="0.4" fill="#555" fill-opacity="0.5"/>
<circle cx="446.00" cy="221.63" r="0.4" fill="#555" fill-opacity="0.5"/>
<circle cx="445.22" cy="219.84" r="0.4" fill="#555" fill-opacity="0.5"/>
<circle cx="445.43" cy="216.93" r="0.4" fill="#555" fill-opacity="0.5"/>
<circle cx="445.27" cy="228.48" r="0.4" fill="#555" fill-opacity="0.5"/>
<circle cx="444.93" cy="237.30" r="0.4" fill="#555" fill-opacity="0.5"/>
<circle cx="445.17" cy="229.91" r="0.4" fill="#555" fill-opacity="0.5"/>
<circle cx="446.05" cy="230.31" r="0.4" fill="#555" fill-opacity="0.5"/>
<circle cx="444.90" cy="233.05" r="0.4" fill="#555" fill-opacity="0.5"/>
<circle cx="445.76" cy="222.02" r="0.4" fill="#555" fill-opacity="0.5"/>
<circle cx="444.87" cy="239.50" r="0.4" fill="#555" fill-opacity="0.5"/>
<circle cx="445.91" cy="230.85" r="0.4" fill="#555" fill-opacity="0.5"/>
<circle cx="445.35" cy="235.51" r="0.4" fill="#555" fill-opacity="0.5"/>
<circle cx="445.54" cy="235.41" r="0.4" fill="#555" fill-opacity="0.5"/>
<circle cx="444.82" cy="238.02" r="0.4" fill="#555" fill-opacity="0.5"/>
<circle cx="445.46" cy="238.49" r="0.4" fill="#555" fill-opacity="0.5"/>
<circle cx="444.94" cy="225.85" r="0.4" fill="#555" fill-opacity="0.5"/>
<circle cx="445.97" cy="222.00" r="0.4" fill="#555" fill-opacity="0.5"/>
<circle cx="445.04" cy="232.29" r="0.4" fill="#555" fill-opacity="0.5"/>
<circle cx="445.02" cy="224.36" r="0.4" fill="#555" fill-opacity="0.5"/>
<circle cx="445.15" cy="220.90" r="0.4" fill="#555" fill-opacity="0.5"/>
<circle cx="446.36" cy="224.05" r="0.4" fill="#555" fill-opacity="0.5"/>
<circle cx="446.07" cy="239.84" r="0.4" fill="#555" fill-opacity="0.5"/>
<line x1="421.25" y1="213.0" x2="421.25" y2="257.90000000000003" stroke="#222" stroke-width="1.2"/>
<line x1="420.65" y1="257.3" x2="450.8" y2="257.3" stroke="#222" stroke-width="1.2"/>
<line x1="427.00" y1="257.3" x2="427.00" y2="260.0" stroke="#333" stroke-width="1.1"/>
<line x1="436.20" y1="257.3" x2="436.20" y2="260.0" stroke="#333" stroke-width="1.1"/>
<line x1="445.60" y1="257.3" x2="445.60" y2="260.0" stroke="#333" stroke-width="1.1"/>
<text x="470.00" y="198.1" font-size="8.0" fill="#262626" textLength="29.10" lengthAdjust="spacingAndGlyphs">PKCβII</text>
<text x="498.80" y="197.9" font-size="4.4" fill="#4a4a4a" textLength="14.00" lengthAdjust="spacingAndGlyphs">(pS660)</text>
<text x="478.50" y="208.0" font-size="6.0" fill="#505050" textLength="24.80" lengthAdjust="spacingAndGlyphs"><tspan font-style="italic">P</tspan>-val: .01</text>
<line x1="473.50" y1="218" x2="476.5" y2="218" stroke="#333" stroke-width="1.0"/>
<text x="470.90" y="220.20" font-size="6.2" fill="#2e2e2e" stroke="#2e2e2e" stroke-width="0.12" text-anchor="end" textLength="3.21" lengthAdjust="spacingAndGlyphs">1</text>
<line x1="473.50" y1="228.6" x2="476.5" y2="228.6" stroke="#333" stroke-width="1.0"/>
<text x="470.90" y="230.80" font-size="6.2" fill="#2e2e2e" stroke="#2e2e2e" stroke-width="0.12" text-anchor="end" textLength="3.21" lengthAdjust="spacingAndGlyphs">0</text>
<line x1="473.50" y1="239.9" x2="476.5" y2="239.9" stroke="#333" stroke-width="1.0"/>
<text x="470.90" y="242.10" font-size="6.2" fill="#2e2e2e" stroke="#2e2e2e" stroke-width="0.12" text-anchor="end" textLength="6.57" lengthAdjust="spacingAndGlyphs">−1</text>
<line x1="473.50" y1="250.7" x2="476.5" y2="250.7" stroke="#333" stroke-width="1.0"/>
<text x="470.90" y="252.90" font-size="6.2" fill="#2e2e2e" stroke="#2e2e2e" stroke-width="0.12" text-anchor="end" textLength="6.57" lengthAdjust="spacingAndGlyphs">−2</text>
<line x1="482.00" y1="219.6" x2="482.00" y2="252.2" stroke="#7c7c7c" stroke-width="1.0"/>
<rect x="478.93" y="231.5" width="6.14" height="11.30" fill="#ef8f83" stroke="#d8776b" stroke-width="0.5"/>
<line x1="478.93" y1="238.7" x2="485.07" y2="238.7" stroke="#962c24" stroke-width="1.0"/>
<circle cx="482.00" cy="235.24" r="0.4" fill="#555" fill-opacity="0.5"/>
<circle cx="482.65" cy="245.00" r="0.4" fill="#555" fill-opacity="0.5"/>
<circle cx="482.22" cy="244.10" r="0.4" fill="#555" fill-opacity="0.5"/>
<circle cx="482.20" cy="226.09" r="0.4" fill="#555" fill-opacity="0.5"/>
<circle cx="482.46" cy="247.17" r="0.4" fill="#555" fill-opacity="0.5"/>
<circle cx="482.35" cy="222.61" r="0.4" fill="#555" fill-opacity="0.5"/>
<circle cx="481.46" cy="230.98" r="0.4" fill="#555" fill-opacity="0.5"/>
<circle cx="482.28" cy="251.08" r="0.4" fill="#555" fill-opacity="0.5"/>
<circle cx="481.42" cy="243.91" r="0.4" fill="#555" fill-opacity="0.5"/>
<circle cx="482.70" cy="246.61" r="0.4" fill="#555" fill-opacity="0.5"/>
<circle cx="482.39" cy="249.10" r="0.4" fill="#555" fill-opacity="0.5"/>
<circle cx="482.48" cy="246.74" r="0.4" fill="#555" fill-opacity="0.5"/>
<circle cx="481.90" cy="238.85" r="0.4" fill="#555" fill-opacity="0.5"/>
<circle cx="482.46" cy="246.50" r="0.4" fill="#555" fill-opacity="0.5"/>
<circle cx="481.68" cy="247.99" r="0.4" fill="#555" fill-opacity="0.5"/>
<circle cx="482.05" cy="250.93" r="0.4" fill="#555" fill-opacity="0.5"/>
<circle cx="481.39" cy="250.44" r="0.4" fill="#555" fill-opacity="0.5"/>
<circle cx="482.46" cy="251.17" r="0.4" fill="#555" fill-opacity="0.5"/>
<circle cx="482.54" cy="227.82" r="0.4" fill="#555" fill-opacity="0.5"/>
<circle cx="481.52" cy="227.17" r="0.4" fill="#555" fill-opacity="0.5"/>
<circle cx="481.58" cy="234.53" r="0.4" fill="#555" fill-opacity="0.5"/>
<circle cx="482.65" cy="235.66" r="0.4" fill="#555" fill-opacity="0.5"/>
<circle cx="482.34" cy="241.94" r="0.4" fill="#555" fill-opacity="0.5"/>
<circle cx="482.45" cy="232.38" r="0.4" fill="#555" fill-opacity="0.5"/>
<circle cx="482.29" cy="245.47" r="0.4" fill="#555" fill-opacity="0.5"/>
<circle cx="482.52" cy="250.30" r="0.4" fill="#555" fill-opacity="0.5"/>
<circle cx="481.34" cy="232.84" r="0.4" fill="#555" fill-opacity="0.5"/>
<circle cx="482.54" cy="240.87" r="0.4" fill="#555" fill-opacity="0.5"/>
<circle cx="482.15" cy="230.67" r="0.4" fill="#555" fill-opacity="0.5"/>
<circle cx="482.47" cy="246.86" r="0.4" fill="#555" fill-opacity="0.5"/>
<circle cx="481.98" cy="219.75" r="0.4" fill="#555" fill-opacity="0.5"/>
<circle cx="481.38" cy="220.13" r="0.4" fill="#555" fill-opacity="0.5"/>
<circle cx="481.87" cy="246.08" r="0.4" fill="#555" fill-opacity="0.5"/>
<circle cx="481.93" cy="239.32" r="0.4" fill="#555" fill-opacity="0.5"/>
<circle cx="481.54" cy="230.53" r="0.4" fill="#555" fill-opacity="0.5"/>
<line x1="491.30" y1="215.1" x2="491.30" y2="237.6" stroke="#7c7c7c" stroke-width="1.0"/>
<rect x="488.23" y="225.2" width="6.14" height="9.00" fill="#abd993" stroke="#86bf6b" stroke-width="0.5"/>
<line x1="488.23" y1="229.1" x2="494.37" y2="229.1" stroke="#36632a" stroke-width="1.0"/>
<circle cx="491.85" cy="223.06" r="0.4" fill="#555" fill-opacity="0.5"/>
<circle cx="490.97" cy="229.03" r="0.4" fill="#555" fill-opacity="0.5"/>
<circle cx="490.93" cy="217.08" r="0.4" fill="#555" fill-opacity="0.5"/>
<circle cx="491.21" cy="230.88" r="0.4" fill="#555" fill-opacity="0.5"/>
<circle cx="491.79" cy="229.97" r="0.4" fill="#555" fill-opacity="0.5"/>
<circle cx="491.59" cy="217.82" r="0.4" fill="#555" fill-opacity="0.5"/>
<circle cx="491.82" cy="216.03" r="0.4" fill="#555" fill-opacity="0.5"/>
<circle cx="490.93" cy="219.24" r="0.4" fill="#555" fill-opacity="0.5"/>
<circle cx="491.08" cy="236.65" r="0.4" fill="#555" fill-opacity="0.5"/>
<circle cx="491.92" cy="220.14" r="0.4" fill="#555" fill-opacity="0.5"/>
<circle cx="491.93" cy="228.83" r="0.4" fill="#555" fill-opacity="0.5"/>
<circle cx="491.30" cy="223.97" r="0.4" fill="#555" fill-opacity="0.5"/>
<circle cx="491.31" cy="236.61" r="0.4" fill="#555" fill-opacity="0.5"/>
<circle cx="490.80" cy="237.34" r="0.4" fill="#555" fill-opacity="0.5"/>
<circle cx="490.76" cy="233.79" r="0.4" fill="#555" fill-opacity="0.5"/>
<circle cx="490.50" cy="226.96" r="0.4" fill="#555" fill-opacity="0.5"/>
<circle cx="492.01" cy="219.05" r="0.4" fill="#555" fill-opacity="0.5"/>
<circle cx="491.80" cy="225.33" r="0.4" fill="#555" fill-opacity="0.5"/>
<circle cx="491.06" cy="220.74" r="0.4" fill="#555" fill-opacity="0.5"/>
<circle cx="491.38" cy="217.37" r="0.4" fill="#555" fill-opacity="0.5"/>
<circle cx="491.32" cy="234.50" r="0.4" fill="#555" fill-opacity="0.5"/>
<circle cx="491.99" cy="223.58" r="0.4" fill="#555" fill-opacity="0.5"/>
<circle cx="491.57" cy="235.21" r="0.4" fill="#555" fill-opacity="0.5"/>
<circle cx="491.50" cy="216.81" r="0.4" fill="#555" fill-opacity="0.5"/>
<circle cx="492.03" cy="225.09" r="0.4" fill="#555" fill-opacity="0.5"/>
<circle cx="491.56" cy="223.24" r="0.4" fill="#555" fill-opacity="0.5"/>
<line x1="500.60" y1="216.2" x2="500.60" y2="234.2" stroke="#7c7c7c" stroke-width="1.0"/>
<rect x="497.53" y="219.6" width="6.14" height="7.90" fill="#abd1f3" stroke="#86b6e2" stroke-width="0.5"/>
<line x1="497.53" y1="221.2" x2="503.67" y2="221.2" stroke="#2a5a8a" stroke-width="1.0"/>
<circle cx="500.40" cy="227.57" r="0.4" fill="#555" fill-opacity="0.5"/>
<circle cx="500.88" cy="225.60" r="0.4" fill="#555" fill-opacity="0.5"/>
<circle cx="500.60" cy="232.53" r="0.4" fill="#555" fill-opacity="0.5"/>
<circle cx="501.36" cy="222.75" r="0.4" fill="#555" fill-opacity="0.5"/>
<circle cx="501.14" cy="217.23" r="0.4" fill="#555" fill-opacity="0.5"/>
<circle cx="500.69" cy="228.50" r="0.4" fill="#555" fill-opacity="0.5"/>
<circle cx="501.00" cy="224.26" r="0.4" fill="#555" fill-opacity="0.5"/>
<circle cx="500.97" cy="232.24" r="0.4" fill="#555" fill-opacity="0.5"/>
<circle cx="499.86" cy="229.70" r="0.4" fill="#555" fill-opacity="0.5"/>
<circle cx="500.02" cy="222.05" r="0.4" fill="#555" fill-opacity="0.5"/>
<circle cx="501.23" cy="233.35" r="0.4" fill="#555" fill-opacity="0.5"/>
<circle cx="500.74" cy="218.80" r="0.4" fill="#555" fill-opacity="0.5"/>
<circle cx="499.87" cy="226.58" r="0.4" fill="#555" fill-opacity="0.5"/>
<circle cx="501.00" cy="223.26" r="0.4" fill="#555" fill-opacity="0.5"/>
<circle cx="500.25" cy="227.75" r="0.4" fill="#555" fill-opacity="0.5"/>
<circle cx="500.27" cy="229.92" r="0.4" fill="#555" fill-opacity="0.5"/>
<circle cx="500.47" cy="226.00" r="0.4" fill="#555" fill-opacity="0.5"/>
<circle cx="500.84" cy="233.81" r="0.4" fill="#555" fill-opacity="0.5"/>
<circle cx="500.88" cy="230.69" r="0.4" fill="#555" fill-opacity="0.5"/>
<circle cx="501.34" cy="223.05" r="0.4" fill="#555" fill-opacity="0.5"/>
<circle cx="500.91" cy="228.97" r="0.4" fill="#555" fill-opacity="0.5"/>
<circle cx="500.06" cy="221.19" r="0.4" fill="#555" fill-opacity="0.5"/>
<line x1="476.5" y1="213.0" x2="476.5" y2="257.90000000000003" stroke="#222" stroke-width="1.2"/>
<line x1="475.9" y1="257.3" x2="506.1" y2="257.3" stroke="#222" stroke-width="1.2"/>
<line x1="482.00" y1="257.3" x2="482.00" y2="260.0" stroke="#333" stroke-width="1.1"/>
<line x1="491.30" y1="257.3" x2="491.30" y2="260.0" stroke="#333" stroke-width="1.1"/>
<line x1="500.60" y1="257.3" x2="500.60" y2="260.0" stroke="#333" stroke-width="1.1"/>
<text x="483.6" y="41.0" font-size="6.4" fill="#222" textLength="14.9" lengthAdjust="spacingAndGlyphs">Cycle</text>
<line x1="487.9" y1="45.5" x2="487.9" y2="55.5" stroke="#7a7a7a" stroke-width="0.8"/>
<rect x="483.9" y="48.4" width="7.8" height="4.2" fill="#ef8f83" stroke="#d8776b" stroke-width="0.4"/>
<line x1="483.9" y1="50.5" x2="491.7" y2="50.5" stroke="#962c24" stroke-width="1.0"/>
<text x="494.7" y="52.6" font-size="6.5" fill="#222" textLength="15.0" lengthAdjust="spacingAndGlyphs">C1D1</text>
<line x1="487.9" y1="58.2" x2="487.9" y2="68.2" stroke="#7a7a7a" stroke-width="0.8"/>
<rect x="483.9" y="61.1" width="7.8" height="4.2" fill="#abd993" stroke="#86bf6b" stroke-width="0.4"/>
<line x1="483.9" y1="63.2" x2="491.7" y2="63.2" stroke="#36632a" stroke-width="1.0"/>
<text x="494.7" y="65.3" font-size="6.5" fill="#222" textLength="15.0" lengthAdjust="spacingAndGlyphs">C1D8</text>
<line x1="487.9" y1="71.0" x2="487.9" y2="81.0" stroke="#7a7a7a" stroke-width="0.8"/>
<rect x="483.9" y="73.9" width="7.8" height="4.2" fill="#abd1f3" stroke="#86b6e2" stroke-width="0.4"/>
<line x1="483.9" y1="76.0" x2="491.7" y2="76.0" stroke="#2a5a8a" stroke-width="1.0"/>
<text x="494.7" y="78.1" font-size="6.5" fill="#222" textLength="15.0" lengthAdjust="spacingAndGlyphs">C2D1</text>
</svg></body></html>
